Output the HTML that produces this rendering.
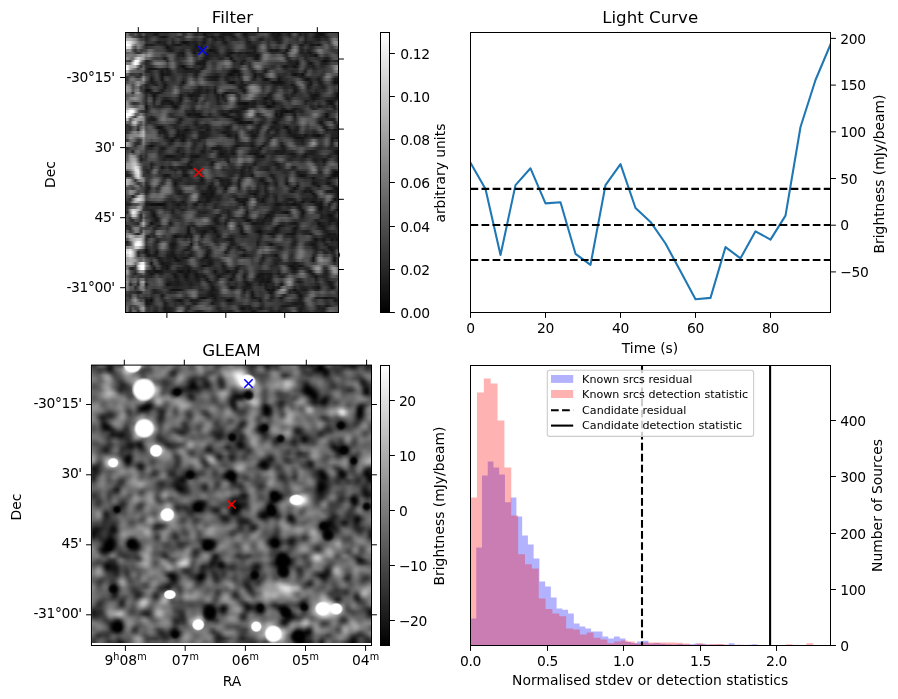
<!DOCTYPE html>
<html><head><meta charset="utf-8"><title>Candidate</title>
<style>
html,body{margin:0;padding:0;background:#fff}
#f{position:relative;width:898px;height:699px;overflow:hidden;background:#fff}
.im{position:absolute;overflow:hidden}
.r{position:absolute;left:0;width:100%}
svg{position:absolute;left:0;top:0;opacity:0.999}
svg text{font-family:"DejaVu Sans","Liberation Sans",sans-serif;fill:#000}
</style></head><body><div id="f">
<div class="im" style="left:126px;top:33px;width:212.5px;height:279.5px"><div style="position:absolute;left:-1.328px;top:-2.662px;width:215.156px;height:284.824px;filter:blur(0.6px);">
<div class="r" style="top:0.00px;height:3.16px;background:linear-gradient(90deg,#747474,#747474,#424242,#3e3e3e,#5a5a5a,#333333,#343434,#575757,#2c2c2c,#2c2c2c,#2d2d2d,#222222,#191919,#2d2d2d,#333333,#2e2e2e,#303030,#3d3d3d,#434343,#404040,#545454,#565656,#2c2c2c,#373737,#585858,#4d4d4d,#313131,#252525,#333333,#2f2f2f,#131313,#222222,#282828,#262626,#383838,#373737,#212121,#161616,#1c1c1c,#1c1c1c,#171717,#262626,#474747,#4d4d4d,#2f2f2f,#141414,#1a1a1a,#2d2d2d,#2e2e2e,#2d2d2d,#414141,#4c4c4c,#4b4b4b,#535353,#404040,#262626,#181818,#1c1c1c,#101010,#272727,#343434,#2b2b2b,#1c1c1c,#424242,#595959,#3a3a3a,#1c1c1c,#2e2e2e,#1f1f1f,#2c2c2c,#3e3e3e,#2f2f2f,#181818,#131313,#101010,#181818,#323232,#454545,#484848,#464646,#444444,#444444)"></div>
<div class="r" style="top:2.66px;height:3.16px;background:linear-gradient(90deg,#747474,#747474,#424242,#3e3e3e,#5a5a5a,#333333,#343434,#575757,#2c2c2c,#2c2c2c,#2d2d2d,#222222,#191919,#2d2d2d,#333333,#2e2e2e,#303030,#3d3d3d,#434343,#404040,#545454,#565656,#2c2c2c,#373737,#585858,#4d4d4d,#313131,#252525,#333333,#2f2f2f,#131313,#222222,#282828,#262626,#383838,#373737,#212121,#161616,#1c1c1c,#1c1c1c,#171717,#262626,#474747,#4d4d4d,#2f2f2f,#141414,#1a1a1a,#2d2d2d,#2e2e2e,#2d2d2d,#414141,#4c4c4c,#4b4b4b,#535353,#404040,#262626,#181818,#1c1c1c,#101010,#272727,#343434,#2b2b2b,#1c1c1c,#424242,#595959,#3a3a3a,#1c1c1c,#2e2e2e,#1f1f1f,#2c2c2c,#3e3e3e,#2f2f2f,#181818,#131313,#101010,#181818,#323232,#454545,#484848,#464646,#444444,#444444)"></div>
<div class="r" style="top:5.32px;height:3.16px;background:linear-gradient(90deg,#838383,#838383,#7a7a7a,#4b4b4b,#3f3f3f,#343434,#1e1e1e,#353535,#222222,#2c2c2c,#373737,#3f3f3f,#353535,#222222,#151515,#131313,#252525,#3c3c3c,#414141,#393939,#303030,#2b2b2b,#303030,#575757,#6c6c6c,#5d5d5d,#434343,#3d3d3d,#4f4f4f,#4d4d4d,#2b2b2b,#1a1a1a,#242424,#131313,#232323,#262626,#141414,#181818,#2e2e2e,#303030,#242424,#161616,#2d2d2d,#434343,#393939,#232323,#1c1c1c,#3f3f3f,#505050,#474747,#424242,#3c3c3c,#323232,#444444,#3a3a3a,#2d2d2d,#1f1f1f,#141414,#1d1d1d,#2c2c2c,#3e3e3e,#3f3f3f,#2b2b2b,#373737,#444444,#2f2f2f,#373737,#3f3f3f,#202020,#2e2e2e,#393939,#262626,#131313,#161616,#222222,#1e1e1e,#222222,#363636,#4d4d4d,#555555,#464646,#464646)"></div>
<div class="r" style="top:7.99px;height:3.16px;background:linear-gradient(90deg,#b3b3b3,#b3b3b3,#b3b3b3,#a2a2a2,#8a8a8a,#636363,#424242,#414141,#252525,#323232,#454545,#4c4c4c,#3d3d3d,#2c2c2c,#2d2d2d,#2a2a2a,#323232,#3d3d3d,#2c2c2c,#3e3e3e,#474747,#363636,#2e2e2e,#3e3e3e,#494949,#3f3f3f,#2f2f2f,#313131,#3e3e3e,#363636,#1a1a1a,#2e2e2e,#424242,#292929,#191919,#292929,#272727,#171717,#2c2c2c,#353535,#2d2d2d,#292929,#272727,#343434,#3c3c3c,#333333,#1e1e1e,#333333,#4b4b4b,#444444,#313131,#1e1e1e,#272727,#393939,#303030,#323232,#262626,#1b1b1b,#1c1c1c,#282828,#464646,#4f4f4f,#404040,#3f3f3f,#363636,#2f2f2f,#4c4c4c,#474747,#212121,#2d2d2d,#323232,#2b2b2b,#242424,#1b1b1b,#2e2e2e,#303030,#272727,#3b3b3b,#646464,#797979,#686868,#686868)"></div>
<div class="r" style="top:10.65px;height:3.16px;background:linear-gradient(90deg,#f1f1f1,#f1f1f1,#e0e0e0,#c1c1c1,#a1a1a1,#7c7c7c,#626262,#5e5e5e,#2f2f2f,#353535,#393939,#333333,#232323,#1b1b1b,#252525,#1e1e1e,#343434,#414141,#1f1f1f,#313131,#3c3c3c,#232323,#121212,#111111,#1c1c1c,#252525,#1d1d1d,#1f1f1f,#313131,#232323,#171717,#313131,#3b3b3b,#292929,#2d2d2d,#3c3c3c,#373737,#202020,#181818,#2f2f2f,#3a3a3a,#454545,#464646,#454545,#4a4a4a,#3e3e3e,#202020,#1c1c1c,#2f2f2f,#313131,#2c2c2c,#363636,#494949,#424242,#2d2d2d,#3d3d3d,#3e3e3e,#2f2f2f,#1e1e1e,#2d2d2d,#494949,#4b4b4b,#3a3a3a,#3e3e3e,#3e3e3e,#363636,#3d3d3d,#2f2f2f,#1c1c1c,#262626,#222222,#292929,#2e2e2e,#2c2c2c,#3c3c3c,#494949,#414141,#343434,#646464,#8d8d8d,#898989,#898989)"></div>
<div class="r" style="top:13.31px;height:3.16px;background:linear-gradient(90deg,#ffffff,#ffffff,#efefef,#9d9d9d,#7a7a7a,#848484,#717171,#505050,#191919,#212121,#1c1c1c,#242424,#313131,#2c2c2c,#272727,#1d1d1d,#222222,#303030,#1d1d1d,#1b1b1b,#161616,#1b1b1b,#292929,#252525,#1c1c1c,#292929,#232323,#141414,#303030,#232323,#252525,#373737,#2d2d2d,#252525,#2f2f2f,#383838,#373737,#2f2f2f,#272727,#2e2e2e,#393939,#464646,#525252,#575757,#595959,#454545,#252525,#222222,#212121,#242424,#333333,#525252,#6a6a6a,#535353,#2f2f2f,#464646,#525252,#444444,#3b3b3b,#494949,#555555,#3f3f3f,#1d1d1d,#3d3d3d,#565656,#444444,#1d1d1d,#1d1d1d,#333333,#2e2e2e,#181818,#161616,#1f1f1f,#111111,#2c2c2c,#535353,#5f5f5f,#414141,#4f4f4f,#7a7a7a,#868686,#868686)"></div>
<div class="r" style="top:15.97px;height:3.16px;background:linear-gradient(90deg,#e3e3e3,#e3e3e3,#d2d2d2,#6d6d6d,#535353,#7f7f7f,#666666,#424242,#2d2d2d,#393939,#3d3d3d,#424242,#464646,#444444,#3f3f3f,#2e2e2e,#101010,#1f1f1f,#252525,#303030,#353535,#333333,#2f2f2f,#303030,#303030,#2b2b2b,#222222,#171717,#232323,#161616,#373737,#414141,#2a2a2a,#1e1e1e,#252525,#333333,#3f3f3f,#404040,#323232,#2b2b2b,#343434,#454545,#575757,#5a5a5a,#585858,#474747,#2a2a2a,#202020,#1d1d1d,#191919,#383838,#5b5b5b,#757575,#5c5c5c,#2e2e2e,#3a3a3a,#454545,#383838,#393939,#515151,#555555,#323232,#1a1a1a,#535353,#747474,#5d5d5d,#282828,#2b2b2b,#404040,#313131,#232323,#2c2c2c,#434343,#505050,#4b4b4b,#555555,#5e5e5e,#474747,#393939,#4f4f4f,#616161,#616161)"></div>
<div class="r" style="top:18.63px;height:3.16px;background:linear-gradient(90deg,#909090,#909090,#909090,#4d4d4d,#303030,#545454,#3c3c3c,#3f3f3f,#484848,#676767,#686868,#525252,#434343,#444444,#444444,#3a3a3a,#242424,#191919,#212121,#313131,#343434,#282828,#252525,#3b3b3b,#454545,#2d2d2d,#191919,#212121,#161616,#2a2a2a,#363636,#262626,#111111,#141414,#191919,#2c2c2c,#454545,#444444,#2e2e2e,#222222,#282828,#3d3d3d,#515151,#474747,#3e3e3e,#393939,#2b2b2b,#2b2b2b,#292929,#1b1b1b,#3b3b3b,#535353,#636363,#545454,#2b2b2b,#181818,#1e1e1e,#181818,#202020,#333333,#323232,#131313,#3d3d3d,#6f6f6f,#848484,#656565,#282828,#242424,#343434,#202020,#252525,#3a3a3a,#565656,#777777,#727272,#5a5a5a,#525252,#434343,#373737,#353535,#393939,#393939)"></div>
<div class="r" style="top:21.30px;height:3.16px;background:linear-gradient(90deg,#616161,#616161,#6a6a6a,#626262,#3e3e3e,#2b2b2b,#414141,#636363,#5f5f5f,#808080,#7b7b7b,#616161,#555555,#575757,#4f4f4f,#4b4b4b,#424242,#3b3b3b,#3b3b3b,#353535,#242424,#181818,#181818,#3e3e3e,#555555,#3e3e3e,#121212,#222222,#3b3b3b,#454545,#303030,#1a1a1a,#242424,#252525,#1a1a1a,#1e1e1e,#3e3e3e,#3c3c3c,#262626,#171717,#131313,#191919,#282828,#1d1d1d,#1e1e1e,#222222,#181818,#1b1b1b,#1c1c1c,#1b1b1b,#2a2a2a,#373737,#545454,#5f5f5f,#4d4d4d,#313131,#262626,#2f2f2f,#353535,#2c2c2c,#181818,#313131,#626262,#7b7b7b,#787878,#535353,#222222,#1f1f1f,#272727,#1b1b1b,#171717,#2a2a2a,#373737,#636363,#707070,#555555,#4a4a4a,#4b4b4b,#4a4a4a,#3f3f3f,#323232,#323232)"></div>
<div class="r" style="top:23.96px;height:3.16px;background:linear-gradient(90deg,#797979,#797979,#797979,#737373,#737373,#8c8c8c,#959595,#a2a2a2,#818181,#979797,#7e7e7e,#5e5e5e,#555555,#535353,#3d3d3d,#3b3b3b,#4f4f4f,#5e5e5e,#595959,#3e3e3e,#212121,#212121,#1b1b1b,#3a3a3a,#585858,#555555,#2e2e2e,#2b2b2b,#505050,#4c4c4c,#292929,#191919,#202020,#262626,#272727,#222222,#303030,#2d2d2d,#242424,#151515,#222222,#363636,#2f2f2f,#252525,#2d2d2d,#2a2a2a,#252525,#212121,#1e1e1e,#1a1a1a,#101010,#2f2f2f,#636363,#7a7a7a,#6c6c6c,#545454,#4a4a4a,#525252,#5c5c5c,#565656,#383838,#262626,#5a5a5a,#6d6d6d,#606060,#434343,#343434,#2d2d2d,#222222,#2b2b2b,#1e1e1e,#1f1f1f,#101010,#3b3b3b,#555555,#424242,#343434,#414141,#545454,#575757,#494949,#494949)"></div>
<div class="r" style="top:26.62px;height:3.16px;background:linear-gradient(90deg,#8e8e8e,#8e8e8e,#737373,#696969,#aeaeae,#d5d5d5,#bababa,#a1a1a1,#666666,#696969,#505050,#414141,#3a3a3a,#3c3c3c,#373737,#191919,#353535,#5e5e5e,#5c5c5c,#3b3b3b,#2a2a2a,#323232,#313131,#444444,#656565,#717171,#4a4a4a,#363636,#464646,#353535,#1c1c1c,#1b1b1b,#272727,#303030,#343434,#2d2d2d,#232323,#2c2c2c,#3e3e3e,#383838,#121212,#2d2d2d,#383838,#313131,#2b2b2b,#292929,#383838,#3e3e3e,#343434,#1c1c1c,#171717,#393939,#686868,#797979,#686868,#5a5a5a,#5a5a5a,#5e5e5e,#696969,#6c6c6c,#585858,#262626,#2b2b2b,#434343,#414141,#333333,#424242,#424242,#242424,#2d2d2d,#353535,#373737,#313131,#2b2b2b,#343434,#262626,#1b1b1b,#292929,#454545,#555555,#535353,#535353)"></div>
<div class="r" style="top:29.28px;height:3.16px;background:linear-gradient(90deg,#484848,#484848,#3a3a3a,#999999,#fcfcfc,#f7f7f7,#9c9c9c,#5d5d5d,#242424,#252525,#3d3d3d,#5b5b5b,#5c5c5c,#565656,#5a5a5a,#484848,#252525,#525252,#5c5c5c,#404040,#2f2f2f,#383838,#474747,#545454,#6d6d6d,#787878,#515151,#2d2d2d,#262626,#191919,#161616,#2d2d2d,#3f3f3f,#3a3a3a,#3d3d3d,#424242,#464646,#545454,#696969,#656565,#404040,#151515,#2b2b2b,#333333,#232323,#1a1a1a,#373737,#3e3e3e,#444444,#404040,#363636,#484848,#636363,#666666,#545454,#4b4b4b,#4d4d4d,#4b4b4b,#505050,#5c5c5c,#595959,#3a3a3a,#1e1e1e,#252525,#262626,#1b1b1b,#3e3e3e,#505050,#363636,#212121,#313131,#3b3b3b,#404040,#363636,#212121,#0e0e0e,#111111,#1e1e1e,#313131,#282828,#262626,#262626)"></div>
<div class="r" style="top:31.94px;height:3.16px;background:linear-gradient(90deg,#7b7b7b,#7b7b7b,#7d7d7d,#d2d2d2,#ffffff,#dbdbdb,#616161,#404040,#242424,#2e2e2e,#474747,#6c6c6c,#7e7e7e,#7c7c7c,#747474,#646464,#454545,#5d5d5d,#6f6f6f,#515151,#323232,#2c2c2c,#383838,#474747,#5c5c5c,#646464,#464646,#1e1e1e,#181818,#181818,#171717,#3f3f3f,#4b4b4b,#363636,#363636,#4e4e4e,#5c5c5c,#656565,#797979,#787878,#5a5a5a,#2f2f2f,#2e2e2e,#2f2f2f,#171717,#2e2e2e,#373737,#2c2c2c,#4e4e4e,#686868,#6a6a6a,#646464,#5f5f5f,#565656,#474747,#3d3d3d,#3a3a3a,#383838,#393939,#373737,#3a3a3a,#2e2e2e,#222222,#212121,#1f1f1f,#111111,#3b3b3b,#565656,#434343,#1f1f1f,#131313,#292929,#3f3f3f,#3c3c3c,#232323,#1c1c1c,#202020,#303030,#454545,#454545,#484848,#484848)"></div>
<div class="r" style="top:34.60px;height:3.16px;background:linear-gradient(90deg,#ebebeb,#ebebeb,#b8b8b8,#b9b9b9,#b7b7b7,#6b6b6b,#333333,#5e5e5e,#2d2d2d,#282828,#2c2c2c,#3f3f3f,#545454,#606060,#5b5b5b,#4d4d4d,#3d3d3d,#595959,#6e6e6e,#525252,#2a2a2a,#1d1d1d,#111111,#272727,#3e3e3e,#464646,#343434,#2c2c2c,#303030,#1e1e1e,#1f1f1f,#484848,#545454,#3d3d3d,#3a3a3a,#565656,#5c5c5c,#505050,#626262,#666666,#4e4e4e,#303030,#343434,#303030,#434343,#595959,#494949,#252525,#484848,#717171,#828282,#727272,#515151,#3f3f3f,#3c3c3c,#323232,#2d2d2d,#3a3a3a,#454545,#2f2f2f,#171717,#1c1c1c,#262626,#202020,#111111,#202020,#434343,#525252,#3b3b3b,#242424,#252525,#1e1e1e,#323232,#373737,#292929,#2b2b2b,#383838,#464646,#5d5d5d,#797979,#8b8b8b,#8b8b8b)"></div>
<div class="r" style="top:37.27px;height:3.16px;background:linear-gradient(90deg,#f6f6f6,#f6f6f6,#ababab,#8a8a8a,#6b6b6b,#424242,#5c5c5c,#6a6a6a,#292929,#151515,#131313,#181818,#202020,#282828,#222222,#212121,#161616,#393939,#525252,#434343,#252525,#292929,#1f1f1f,#101010,#1b1b1b,#1f1f1f,#1f1f1f,#2b2b2b,#212121,#181818,#333333,#4d4d4d,#545454,#404040,#404040,#565656,#565656,#404040,#454545,#434343,#2e2e2e,#1e1e1e,#242424,#323232,#5a5a5a,#6c6c6c,#575757,#303030,#313131,#535353,#6e6e6e,#676767,#424242,#242424,#2e2e2e,#383838,#393939,#444444,#515151,#404040,#2a2a2a,#262626,#323232,#303030,#2a2a2a,#2e2e2e,#4f4f4f,#4f4f4f,#2a2a2a,#2f2f2f,#3a3a3a,#252525,#282828,#353535,#343434,#363636,#3e3e3e,#434343,#545454,#7d7d7d,#969696,#969696)"></div>
<div class="r" style="top:39.93px;height:3.16px;background:linear-gradient(90deg,#b7b7b7,#b7b7b7,#707070,#5f5f5f,#626262,#5b5b5b,#555555,#525252,#222222,#202020,#2b2b2b,#3a3a3a,#3f3f3f,#282828,#141414,#272727,#1a1a1a,#1f1f1f,#3b3b3b,#3d3d3d,#2d2d2d,#282828,#232323,#202020,#212121,#202020,#212121,#1b1b1b,#212121,#464646,#575757,#535353,#4b4b4b,#383838,#353535,#404040,#434343,#3a3a3a,#383838,#2a2a2a,#191919,#111111,#0f0f0f,#1a1a1a,#3c3c3c,#565656,#535353,#3d3d3d,#252525,#252525,#3f3f3f,#424242,#2d2d2d,#1b1b1b,#3d3d3d,#5a5a5a,#545454,#3f3f3f,#424242,#414141,#373737,#2f2f2f,#2f2f2f,#232323,#272727,#2d2d2d,#424242,#363636,#1f1f1f,#474747,#4a4a4a,#323232,#333333,#3d3d3d,#3b3b3b,#323232,#424242,#474747,#4e4e4e,#6c6c6c,#7b7b7b,#7b7b7b)"></div>
<div class="r" style="top:42.59px;height:3.16px;background:linear-gradient(90deg,#666666,#666666,#393939,#373737,#3b3b3b,#3b3b3b,#262626,#545454,#393939,#343434,#292929,#3a3a3a,#484848,#2b2b2b,#111111,#1c1c1c,#1b1b1b,#1e1e1e,#2e2e2e,#393939,#3b3b3b,#393939,#2c2c2c,#292929,#383838,#3d3d3d,#292929,#1a1a1a,#3e3e3e,#565656,#545454,#434343,#363636,#2b2b2b,#232323,#252525,#313131,#393939,#2e2e2e,#171717,#0e0e0e,#181818,#222222,#151515,#2b2b2b,#505050,#565656,#474747,#303030,#131313,#252525,#222222,#262626,#404040,#626262,#7a7a7a,#686868,#404040,#2a2a2a,#2f2f2f,#2b2b2b,#313131,#343434,#1e1e1e,#0f0f0f,#191919,#222222,#0f0f0f,#333333,#505050,#494949,#383838,#3b3b3b,#3b3b3b,#323232,#3a3a3a,#656565,#6d6d6d,#595959,#535353,#4f4f4f,#4f4f4f)"></div>
<div class="r" style="top:45.25px;height:3.16px;background:linear-gradient(90deg,#3a3a3a,#3a3a3a,#535353,#5f5f5f,#3d3d3d,#2c2c2c,#414141,#848484,#505050,#3e3e3e,#1e1e1e,#333333,#494949,#2f2f2f,#151515,#363636,#3a3a3a,#2f2f2f,#2d2d2d,#373737,#424242,#404040,#303030,#303030,#484848,#4e4e4e,#303030,#272727,#4c4c4c,#525252,#3b3b3b,#272727,#1c1c1c,#1a1a1a,#151515,#171717,#2e2e2e,#363636,#222222,#202020,#262626,#242424,#313131,#1f1f1f,#383838,#6c6c6c,#6e6e6e,#545454,#313131,#101010,#313131,#292929,#1b1b1b,#3b3b3b,#585858,#707070,#666666,#434343,#1b1b1b,#242424,#2f2f2f,#3a3a3a,#3f3f3f,#373737,#333333,#2f2f2f,#222222,#1b1b1b,#272727,#323232,#333333,#353535,#343434,#292929,#2c2c2c,#525252,#7c7c7c,#7a7a7a,#535353,#323232,#292929,#292929)"></div>
<div class="r" style="top:47.91px;height:3.16px;background:linear-gradient(90deg,#3b3b3b,#3b3b3b,#6a6a6a,#787878,#656565,#575757,#626262,#999999,#555555,#3a3a3a,#141414,#2d2d2d,#434343,#373737,#111111,#3b3b3b,#474747,#363636,#2c2c2c,#353535,#464646,#3d3d3d,#272727,#313131,#565656,#646464,#494949,#393939,#5a5a5a,#626262,#464646,#2e2e2e,#222222,#1e1e1e,#1a1a1a,#222222,#3b3b3b,#3d3d3d,#232323,#212121,#2f2f2f,#2d2d2d,#393939,#2b2b2b,#2c2c2c,#656565,#6e6e6e,#505050,#282828,#232323,#3a3a3a,#373737,#1d1d1d,#101010,#1c1c1c,#333333,#3d3d3d,#2f2f2f,#111111,#232323,#2a2a2a,#2d2d2d,#363636,#3a3a3a,#454545,#525252,#464646,#2d2d2d,#1a1a1a,#111111,#222222,#303030,#2a2a2a,#1a1a1a,#2b2b2b,#4e4e4e,#666666,#5e5e5e,#3a3a3a,#191919,#1b1b1b,#1b1b1b)"></div>
<div class="r" style="top:50.58px;height:3.16px;background:linear-gradient(90deg,#505050,#505050,#676767,#5e5e5e,#787878,#909090,#767676,#777777,#3d3d3d,#2a2a2a,#1c1c1c,#1f1f1f,#2e2e2e,#3b3b3b,#262626,#1f1f1f,#333333,#373737,#343434,#393939,#404040,#2e2e2e,#141414,#353535,#5e5e5e,#757575,#656565,#4c4c4c,#5e5e5e,#6f6f6f,#606060,#4d4d4d,#434343,#3b3b3b,#333333,#343434,#444444,#494949,#393939,#1f1f1f,#131313,#131313,#2c2c2c,#2d2d2d,#181818,#333333,#3a3a3a,#333333,#3a3a3a,#404040,#3b3b3b,#343434,#2b2b2b,#292929,#2b2b2b,#212121,#121212,#161616,#121212,#121212,#1e1e1e,#2b2b2b,#343434,#292929,#3c3c3c,#616161,#686868,#535353,#383838,#272727,#151515,#333333,#383838,#212121,#1c1c1c,#393939,#4c4c4c,#494949,#2e2e2e,#121212,#161616,#161616)"></div>
<div class="r" style="top:53.24px;height:3.16px;background:linear-gradient(90deg,#7b7b7b,#7b7b7b,#707070,#464646,#747474,#9c9c9c,#646464,#3e3e3e,#202020,#292929,#323232,#242424,#212121,#373737,#303030,#141414,#262626,#393939,#404040,#464646,#3c3c3c,#222222,#2d2d2d,#4a4a4a,#5d5d5d,#676767,#606060,#494949,#464646,#575757,#535353,#4a4a4a,#494949,#454545,#363636,#373737,#444444,#4e4e4e,#4f4f4f,#4a4a4a,#454545,#3a3a3a,#2d2d2d,#222222,#1e1e1e,#181818,#2d2d2d,#555555,#6c6c6c,#666666,#535353,#3d3d3d,#2c2c2c,#323232,#3a3a3a,#373737,#252525,#1b1b1b,#222222,#1d1d1d,#232323,#2a2a2a,#2a2a2a,#151515,#272727,#4e4e4e,#6c6c6c,#6c6c6c,#424242,#1d1d1d,#181818,#393939,#434343,#2c2c2c,#1d1d1d,#272727,#393939,#444444,#363636,#292929,#333333,#333333)"></div>
<div class="r" style="top:55.90px;height:3.16px;background:linear-gradient(90deg,#969696,#969696,#7f7f7f,#4a4a4a,#686868,#717171,#323232,#3f3f3f,#222222,#2a2a2a,#3e3e3e,#4a4a4a,#424242,#3a3a3a,#2d2d2d,#161616,#2f2f2f,#393939,#484848,#5e5e5e,#4b4b4b,#303030,#424242,#545454,#535353,#494949,#404040,#323232,#1f1f1f,#282828,#323232,#292929,#343434,#363636,#212121,#3e3e3e,#565656,#5a5a5a,#5b5b5b,#585858,#575757,#545454,#434343,#212121,#171717,#272727,#4c4c4c,#7a7a7a,#8c8c8c,#858585,#737373,#545454,#2d2d2d,#424242,#505050,#3d3d3d,#262626,#2c2c2c,#3d3d3d,#373737,#252525,#282828,#2e2e2e,#282828,#1a1a1a,#2b2b2b,#515151,#636363,#454545,#1d1d1d,#292929,#383838,#343434,#2a2a2a,#232323,#1e1e1e,#353535,#4c4c4c,#454545,#3b3b3b,#434343,#434343)"></div>
<div class="r" style="top:58.56px;height:3.16px;background:linear-gradient(90deg,#989898,#989898,#8b8b8b,#515151,#797979,#7e7e7e,#3f3f3f,#353535,#141414,#111111,#282828,#474747,#444444,#2d2d2d,#1c1c1c,#2a2a2a,#3a3a3a,#3a3a3a,#555555,#747474,#5e5e5e,#383838,#3a3a3a,#3e3e3e,#3c3c3c,#3e3e3e,#2c2c2c,#1f1f1f,#191919,#232323,#2a2a2a,#1b1b1b,#282828,#2e2e2e,#161616,#494949,#646464,#565656,#454545,#393939,#333333,#383838,#3c3c3c,#363636,#252525,#151515,#3f3f3f,#6d6d6d,#838383,#868686,#7c7c7c,#5e5e5e,#383838,#484848,#515151,#373737,#262626,#363636,#4f4f4f,#4f4f4f,#353535,#303030,#3f3f3f,#353535,#161616,#1f1f1f,#3a3a3a,#4e4e4e,#414141,#292929,#313131,#363636,#252525,#2b2b2b,#2e2e2e,#2b2b2b,#3c3c3c,#535353,#4c4c4c,#343434,#373737,#373737)"></div>
<div class="r" style="top:61.22px;height:3.16px;background:linear-gradient(90deg,#777777,#777777,#6c6c6c,#2c2c2c,#868686,#9c9c9c,#6b6b6b,#373737,#1e1e1e,#282828,#171717,#1f1f1f,#191919,#1a1a1a,#2a2a2a,#3e3e3e,#464646,#454545,#5e5e5e,#747474,#5c5c5c,#323232,#2f2f2f,#2c2c2c,#232323,#2e2e2e,#191919,#1d1d1d,#191919,#232323,#282828,#202020,#2e2e2e,#333333,#141414,#373737,#4a4a4a,#2f2f2f,#101010,#1b1b1b,#242424,#232323,#272727,#3e3e3e,#3d3d3d,#232323,#3d3d3d,#656565,#767676,#747474,#656565,#4d4d4d,#3d3d3d,#494949,#3b3b3b,#202020,#2f2f2f,#464646,#555555,#525252,#3d3d3d,#333333,#3c3c3c,#282828,#171717,#2c2c2c,#343434,#3f3f3f,#3f3f3f,#2c2c2c,#212121,#2c2c2c,#1d1d1d,#222222,#333333,#3d3d3d,#4c4c4c,#595959,#4b4b4b,#292929,#1c1c1c,#1c1c1c)"></div>
<div class="r" style="top:63.89px;height:3.16px;background:linear-gradient(90deg,#595959,#595959,#636363,#5a5a5a,#777777,#7b7b7b,#6b6b6b,#4b4b4b,#262626,#3d3d3d,#2c2c2c,#0f0f0f,#262626,#3a3a3a,#3c3c3c,#3d3d3d,#404040,#444444,#4e4e4e,#515151,#3c3c3c,#191919,#292929,#313131,#1c1c1c,#141414,#191919,#1b1b1b,#202020,#404040,#3c3c3c,#2e2e2e,#363636,#393939,#272727,#191919,#2a2a2a,#131313,#2f2f2f,#525252,#696969,#646464,#323232,#252525,#4b4b4b,#4e4e4e,#606060,#7c7c7c,#797979,#616161,#4a4a4a,#393939,#323232,#343434,#1c1c1c,#202020,#404040,#5c5c5c,#646464,#545454,#2f2f2f,#232323,#2e2e2e,#222222,#2c2c2c,#343434,#313131,#363636,#3e3e3e,#383838,#1c1c1c,#171717,#131313,#1c1c1c,#343434,#434343,#4a4a4a,#494949,#383838,#292929,#111111,#111111)"></div>
<div class="r" style="top:66.55px;height:3.16px;background:linear-gradient(90deg,#666666,#666666,#7d7d7d,#8a8a8a,#919191,#7f7f7f,#686868,#464646,#282828,#535353,#494949,#181818,#343434,#414141,#2f2f2f,#222222,#232323,#2e2e2e,#383838,#383838,#292929,#131313,#333333,#484848,#383838,#1f1f1f,#262626,#1e1e1e,#404040,#565656,#3e3e3e,#303030,#383838,#3a3a3a,#313131,#181818,#2e2e2e,#212121,#292929,#626262,#888888,#838383,#4b4b4b,#272727,#4e4e4e,#5d5d5d,#6d6d6d,#767676,#606060,#444444,#3a3a3a,#313131,#242424,#111111,#1d1d1d,#1d1d1d,#3b3b3b,#555555,#5b5b5b,#575757,#3d3d3d,#1d1d1d,#242424,#373737,#434343,#3f3f3f,#373737,#333333,#313131,#2f2f2f,#222222,#141414,#1e1e1e,#242424,#303030,#323232,#2c2c2c,#282828,#252525,#1f1f1f,#181818,#181818)"></div>
<div class="r" style="top:69.21px;height:3.16px;background:linear-gradient(90deg,#828282,#828282,#707070,#696969,#777777,#6f6f6f,#656565,#404040,#2e2e2e,#5b5b5b,#515151,#1b1b1b,#434343,#464646,#222222,#141414,#151515,#161616,#262626,#333333,#262626,#161616,#3d3d3d,#555555,#4a4a4a,#323232,#242424,#1b1b1b,#474747,#474747,#2b2b2b,#3b3b3b,#3d3d3d,#3a3a3a,#343434,#1c1c1c,#323232,#323232,#1d1d1d,#4f4f4f,#767676,#717171,#404040,#232323,#343434,#373737,#3d3d3d,#3a3a3a,#262626,#202020,#2e2e2e,#2a2a2a,#222222,#1d1d1d,#2e2e2e,#212121,#1e1e1e,#353535,#3a3a3a,#434343,#4a4a4a,#3a3a3a,#2c2c2c,#4c4c4c,#5a5a5a,#525252,#484848,#393939,#1d1d1d,#202020,#2a2a2a,#212121,#323232,#333333,#3a3a3a,#363636,#1d1d1d,#121212,#181818,#1f1f1f,#3a3a3a,#3a3a3a)"></div>
<div class="r" style="top:71.87px;height:3.16px;background:linear-gradient(90deg,#919191,#919191,#5c5c5c,#333333,#323232,#3f3f3f,#5a5a5a,#454545,#242424,#4a4a4a,#414141,#242424,#474747,#3e3e3e,#191919,#1f1f1f,#212121,#1a1a1a,#131313,#262626,#1d1d1d,#262626,#424242,#464646,#383838,#313131,#292929,#313131,#494949,#3b3b3b,#3f3f3f,#525252,#444444,#383838,#373737,#1f1f1f,#292929,#3b3b3b,#373737,#4e4e4e,#666666,#5b5b5b,#313131,#131313,#121212,#0f0f0f,#111111,#202020,#1d1d1d,#1a1a1a,#2e2e2e,#2b2b2b,#202020,#161616,#262626,#242424,#0e0e0e,#212121,#282828,#313131,#434343,#454545,#3b3b3b,#4f4f4f,#595959,#505050,#484848,#393939,#242424,#313131,#2d2d2d,#333333,#3f3f3f,#2a2a2a,#393939,#424242,#282828,#191919,#101010,#2c2c2c,#4f4f4f,#4f4f4f)"></div>
<div class="r" style="top:74.53px;height:3.16px;background:linear-gradient(90deg,#989898,#989898,#7e7e7e,#666666,#585858,#636363,#777777,#636363,#101010,#333333,#3e3e3e,#2d2d2d,#2d2d2d,#252525,#272727,#333333,#373737,#353535,#1c1c1c,#121212,#1e1e1e,#3f3f3f,#535353,#4b4b4b,#434343,#303030,#2c2c2c,#4e4e4e,#585858,#474747,#4c4c4c,#535353,#414141,#3a3a3a,#404040,#383838,#3b3b3b,#4b4b4b,#545454,#5f5f5f,#616161,#4f4f4f,#363636,#262626,#1e1e1e,#1a1a1a,#191919,#232323,#1f1f1f,#232323,#404040,#464646,#3b3b3b,#252525,#0f0f0f,#151515,#1e1e1e,#2b2b2b,#2f2f2f,#272727,#323232,#444444,#404040,#383838,#323232,#2f2f2f,#343434,#363636,#3a3a3a,#404040,#242424,#272727,#313131,#1b1b1b,#252525,#323232,#292929,#323232,#262626,#1b1b1b,#444444,#444444)"></div>
<div class="r" style="top:77.20px;height:3.16px;background:linear-gradient(90deg,#aeaeae,#aeaeae,#cdcdcd,#cbcbcb,#a6a6a6,#7f7f7f,#6b6b6b,#636363,#171717,#2d2d2d,#4b4b4b,#4b4b4b,#3e3e3e,#3a3a3a,#464646,#525252,#525252,#4b4b4b,#333333,#212121,#2d2d2d,#4a4a4a,#525252,#3f3f3f,#3e3e3e,#292929,#222222,#4a4a4a,#4e4e4e,#3f3f3f,#424242,#464646,#3f3f3f,#444444,#484848,#3b3b3b,#383838,#434343,#515151,#505050,#3d3d3d,#2b2b2b,#282828,#222222,#191919,#131313,#232323,#484848,#565656,#454545,#4f4f4f,#606060,#606060,#4a4a4a,#323232,#363636,#3b3b3b,#343434,#303030,#1e1e1e,#1a1a1a,#313131,#353535,#222222,#181818,#202020,#272727,#313131,#424242,#4a4a4a,#373737,#222222,#292929,#404040,#3f3f3f,#393939,#3b3b3b,#464646,#3b3b3b,#1f1f1f,#383838,#383838)"></div>
<div class="r" style="top:79.86px;height:3.16px;background:linear-gradient(90deg,#dddddd,#dddddd,#ffffff,#ffffff,#b3b3b3,#616161,#3a3a3a,#353535,#202020,#383838,#545454,#5b5b5b,#525252,#4b4b4b,#585858,#646464,#585858,#494949,#3f3f3f,#393939,#434343,#4f4f4f,#4a4a4a,#282828,#262626,#232323,#1a1a1a,#2b2b2b,#2c2c2c,#323232,#434343,#464646,#3c3c3c,#494949,#4a4a4a,#333333,#232323,#222222,#2c2c2c,#212121,#161616,#1f1f1f,#181818,#1a1a1a,#232323,#343434,#545454,#858585,#8f8f8f,#646464,#4c4c4c,#5c5c5c,#6c6c6c,#696969,#5d5d5d,#575757,#444444,#202020,#222222,#131313,#141414,#0e0e0e,#161616,#111111,#1f1f1f,#2c2c2c,#242424,#272727,#3b3b3b,#494949,#4d4d4d,#585858,#5c5c5c,#585858,#4e4e4e,#404040,#303030,#2c2c2c,#323232,#323232,#484848,#484848)"></div>
<div class="r" style="top:82.52px;height:3.16px;background:linear-gradient(90deg,#fdfdfd,#fdfdfd,#fdfdfd,#c9c9c9,#626262,#5d5d5d,#838383,#5d5d5d,#363636,#404040,#444444,#4f4f4f,#525252,#545454,#656565,#6a6a6a,#494949,#2a2a2a,#2e2e2e,#3a3a3a,#424242,#454545,#424242,#2b2b2b,#121212,#1a1a1a,#181818,#141414,#131313,#2a2a2a,#3e3e3e,#3a3a3a,#222222,#393939,#424242,#363636,#262626,#161616,#171717,#202020,#353535,#383838,#262626,#1a1a1a,#272727,#4d4d4d,#747474,#9b9b9b,#929292,#525252,#222222,#303030,#4b4b4b,#646464,#6d6d6d,#636363,#414141,#111111,#212121,#0e0e0e,#282828,#363636,#393939,#2a2a2a,#181818,#393939,#363636,#323232,#3b3b3b,#424242,#515151,#6e6e6e,#777777,#5c5c5c,#434343,#2f2f2f,#101010,#292929,#3d3d3d,#464646,#616161,#616161)"></div>
<div class="r" style="top:85.18px;height:3.16px;background:linear-gradient(90deg,#f0f0f0,#f0f0f0,#aaaaaa,#5c5c5c,#464646,#9b9b9b,#b5b5b5,#868686,#3a3a3a,#323232,#202020,#2e2e2e,#454545,#585858,#6e6e6e,#6f6f6f,#4b4b4b,#343434,#292929,#2f2f2f,#313131,#2e2e2e,#363636,#383838,#292929,#252525,#232323,#1b1b1b,#181818,#121212,#212121,#282828,#242424,#2b2b2b,#313131,#373737,#363636,#2e2e2e,#1e1e1e,#161616,#1a1a1a,#202020,#242424,#1b1b1b,#212121,#474747,#686868,#7c7c7c,#6a6a6a,#444444,#2f2f2f,#2a2a2a,#262626,#414141,#5a5a5a,#575757,#3b3b3b,#1d1d1d,#151515,#171717,#363636,#535353,#606060,#464646,#1a1a1a,#3d3d3d,#4f4f4f,#525252,#505050,#4d4d4d,#545454,#656565,#686868,#4b4b4b,#323232,#242424,#0f0f0f,#2d2d2d,#3c3c3c,#474747,#6a6a6a,#6a6a6a)"></div>
<div class="r" style="top:87.84px;height:3.16px;background:linear-gradient(90deg,#bababa,#bababa,#525252,#838383,#a9a9a9,#a5a5a5,#969696,#8a8a8a,#393939,#212121,#202020,#191919,#353535,#5b5b5b,#737373,#717171,#5e5e5e,#5f5f5f,#575757,#464646,#2d2d2d,#171717,#303030,#404040,#434343,#3f3f3f,#363636,#2b2b2b,#323232,#3c3c3c,#414141,#434343,#464646,#414141,#383838,#404040,#4b4b4b,#4b4b4b,#444444,#3c3c3c,#2f2f2f,#1f1f1f,#121212,#141414,#1e1e1e,#363636,#474747,#474747,#434343,#525252,#494949,#393939,#292929,#2f2f2f,#474747,#414141,#2c2c2c,#1f1f1f,#1d1d1d,#2b2b2b,#3c3c3c,#545454,#5f5f5f,#474747,#252525,#3f3f3f,#5e5e5e,#6c6c6c,#666666,#5c5c5c,#5a5a5a,#575757,#484848,#2c2c2c,#252525,#2a2a2a,#262626,#232323,#1f1f1f,#252525,#5a5a5a,#5a5a5a)"></div>
<div class="r" style="top:90.50px;height:3.16px;background:linear-gradient(90deg,#6d6d6d,#6d6d6d,#575757,#b6b6b6,#c3c3c3,#767676,#525252,#797979,#3a3a3a,#292929,#303030,#343434,#3a3a3a,#4e4e4e,#5a5a5a,#5d5d5d,#535353,#4d4d4d,#494949,#3a3a3a,#1e1e1e,#282828,#3f3f3f,#414141,#414141,#3d3d3d,#2a2a2a,#1e1e1e,#373737,#494949,#444444,#3c3c3c,#464646,#555555,#575757,#5c5c5c,#5c5c5c,#555555,#545454,#4e4e4e,#3f3f3f,#353535,#242424,#141414,#0f0f0f,#171717,#171717,#121212,#202020,#414141,#383838,#232323,#242424,#323232,#414141,#343434,#181818,#161616,#2c2c2c,#393939,#3c3c3c,#474747,#454545,#333333,#2d2d2d,#454545,#626262,#737373,#656565,#525252,#5d5d5d,#5b5b5b,#464646,#262626,#141414,#2f2f2f,#484848,#585858,#4d4d4d,#212121,#383838,#383838)"></div>
<div class="r" style="top:93.17px;height:3.16px;background:linear-gradient(90deg,#373737,#373737,#4e4e4e,#8d8d8d,#9a9a9a,#4a4a4a,#4b4b4b,#6d6d6d,#3c3c3c,#4a4a4a,#424242,#2f2f2f,#2c2c2c,#313131,#333333,#3f3f3f,#414141,#323232,#272727,#242424,#282828,#3a3a3a,#424242,#383838,#343434,#383838,#2a2a2a,#1b1b1b,#2c2c2c,#2f2f2f,#222222,#1f1f1f,#313131,#4c4c4c,#565656,#585858,#525252,#414141,#414141,#383838,#292929,#444444,#444444,#2e2e2e,#2a2a2a,#262626,#363636,#474747,#373737,#313131,#212121,#191919,#343434,#454545,#464646,#323232,#222222,#1f1f1f,#252525,#2e2e2e,#292929,#313131,#373737,#363636,#323232,#393939,#535353,#676767,#545454,#414141,#595959,#5b5b5b,#505050,#414141,#222222,#1f1f1f,#464646,#626262,#616161,#3b3b3b,#202020,#202020)"></div>
<div class="r" style="top:95.83px;height:3.16px;background:linear-gradient(90deg,#383838,#383838,#2c2c2c,#4f4f4f,#626262,#313131,#666666,#7f7f7f,#494949,#5b5b5b,#575757,#3d3d3d,#1f1f1f,#101010,#171717,#2c2c2c,#3d3d3d,#3d3d3d,#333333,#252525,#282828,#333333,#323232,#262626,#272727,#363636,#353535,#292929,#232323,#1f1f1f,#262626,#1d1d1d,#242424,#393939,#3b3b3b,#3c3c3c,#3d3d3d,#2e2e2e,#212121,#1a1a1a,#282828,#515151,#525252,#3e3e3e,#3f3f3f,#343434,#4e4e4e,#616161,#484848,#343434,#1e1e1e,#262626,#4a4a4a,#595959,#424242,#1d1d1d,#1c1c1c,#222222,#232323,#2c2c2c,#1f1f1f,#0f0f0f,#252525,#333333,#282828,#202020,#414141,#575757,#424242,#363636,#4b4b4b,#484848,#4a4a4a,#555555,#444444,#1b1b1b,#212121,#3e3e3e,#494949,#333333,#1f1f1f,#1f1f1f)"></div>
<div class="r" style="top:98.49px;height:3.16px;background:linear-gradient(90deg,#3a3a3a,#3a3a3a,#2f2f2f,#535353,#5d5d5d,#232323,#7a7a7a,#989898,#4c4c4c,#535353,#5c5c5c,#595959,#414141,#232323,#181818,#1c1c1c,#353535,#454545,#484848,#353535,#1a1a1a,#282828,#242424,#111111,#191919,#292929,#323232,#2f2f2f,#272727,#2e2e2e,#2d2d2d,#131313,#212121,#363636,#333333,#292929,#2e2e2e,#2b2b2b,#212121,#1d1d1d,#2c2c2c,#454545,#444444,#444444,#535353,#3c3c3c,#393939,#434343,#2d2d2d,#272727,#1c1c1c,#373737,#545454,#525252,#212121,#232323,#2c2c2c,#191919,#1e1e1e,#373737,#363636,#222222,#141414,#2a2a2a,#202020,#1e1e1e,#444444,#545454,#3a3a3a,#323232,#3c3c3c,#303030,#363636,#545454,#5b5b5b,#3b3b3b,#171717,#202020,#272727,#141414,#1a1a1a,#1a1a1a)"></div>
<div class="r" style="top:101.15px;height:3.16px;background:linear-gradient(90deg,#3a3a3a,#3a3a3a,#545454,#7b7b7b,#868686,#6f6f6f,#979797,#b5b5b5,#5b5b5b,#565656,#5e5e5e,#636363,#4e4e4e,#1d1d1d,#202020,#181818,#2a2a2a,#4a4a4a,#4e4e4e,#393939,#141414,#212121,#1b1b1b,#1d1d1d,#242424,#303030,#434343,#3d3d3d,#1f1f1f,#1a1a1a,#1d1d1d,#212121,#262626,#373737,#393939,#2f2f2f,#2b2b2b,#1c1c1c,#161616,#1d1d1d,#222222,#2d2d2d,#2b2b2b,#494949,#676767,#4f4f4f,#313131,#222222,#1d1d1d,#252525,#1c1c1c,#434343,#515151,#383838,#1f1f1f,#3d3d3d,#363636,#1f1f1f,#262626,#393939,#373737,#262626,#131313,#202020,#1e1e1e,#272727,#404040,#494949,#303030,#2c2c2c,#323232,#232323,#272727,#3a3a3a,#4a4a4a,#363636,#282828,#2f2f2f,#272727,#232323,#222222,#222222)"></div>
<div class="r" style="top:103.81px;height:3.16px;background:linear-gradient(90deg,#636363,#636363,#808080,#868686,#878787,#8c8c8c,#a2a2a2,#b5b5b5,#676767,#656565,#646464,#676767,#525252,#353535,#393939,#222222,#202020,#424242,#414141,#262626,#121212,#1c1c1c,#121212,#222222,#2f2f2f,#3f3f3f,#555555,#494949,#242424,#1b1b1b,#1c1c1c,#1d1d1d,#292929,#353535,#3a3a3a,#3c3c3c,#434343,#3a3a3a,#2a2a2a,#151515,#1d1d1d,#272727,#181818,#444444,#676767,#585858,#454545,#2d2d2d,#181818,#161616,#292929,#4a4a4a,#4c4c4c,#303030,#2a2a2a,#2b2b2b,#232323,#252525,#2f2f2f,#3b3b3b,#393939,#2d2d2d,#212121,#1a1a1a,#161616,#1c1c1c,#212121,#252525,#171717,#202020,#262626,#171717,#151515,#0f0f0f,#212121,#2a2a2a,#424242,#3d3d3d,#222222,#222222,#202020,#202020)"></div>
<div class="r" style="top:106.48px;height:3.16px;background:linear-gradient(90deg,#636363,#636363,#8f8f8f,#818181,#646464,#575757,#696969,#909090,#616161,#666666,#606060,#676767,#5e5e5e,#4e4e4e,#414141,#222222,#191919,#292929,#212121,#161616,#212121,#1c1c1c,#171717,#212121,#323232,#353535,#484848,#414141,#1b1b1b,#1c1c1c,#1e1e1e,#2e2e2e,#3c3c3c,#414141,#464646,#4d4d4d,#565656,#525252,#4c4c4c,#373737,#303030,#333333,#161616,#393939,#626262,#6c6c6c,#666666,#444444,#222222,#222222,#3c3c3c,#505050,#505050,#393939,#252525,#1d1d1d,#434343,#464646,#3c3c3c,#444444,#474747,#3e3e3e,#383838,#2e2e2e,#181818,#111111,#141414,#141414,#202020,#292929,#333333,#383838,#2a2a2a,#282828,#2c2c2c,#3e3e3e,#545454,#434343,#191919,#1d1d1d,#151515,#151515)"></div>
<div class="r" style="top:109.14px;height:3.16px;background:linear-gradient(90deg,#3d3d3d,#3d3d3d,#6e6e6e,#707070,#535353,#313131,#3d3d3d,#868686,#5d5d5d,#585858,#4a4a4a,#545454,#515151,#474747,#434343,#363636,#272727,#1b1b1b,#121212,#2e2e2e,#353535,#222222,#131313,#2a2a2a,#424242,#303030,#272727,#282828,#1f1f1f,#313131,#343434,#505050,#585858,#545454,#565656,#545454,#575757,#515151,#545454,#4e4e4e,#494949,#414141,#202020,#333333,#515151,#616161,#626262,#414141,#282828,#343434,#4b4b4b,#545454,#4d4d4d,#343434,#242424,#4a4a4a,#6f6f6f,#616161,#3f3f3f,#3c3c3c,#4b4b4b,#4d4d4d,#4f4f4f,#444444,#2b2b2b,#232323,#222222,#1b1b1b,#2e2e2e,#393939,#545454,#717171,#5c5c5c,#3a3a3a,#383838,#4c4c4c,#626262,#484848,#151515,#313131,#323232,#323232)"></div>
<div class="r" style="top:111.80px;height:3.16px;background:linear-gradient(90deg,#a0a0a0,#a0a0a0,#7b7b7b,#545454,#2e2e2e,#252525,#434343,#7f7f7f,#4e4e4e,#3b3b3b,#292929,#2b2b2b,#303030,#383838,#434343,#454545,#343434,#202020,#2c2c2c,#464646,#4c4c4c,#3e3e3e,#343434,#434343,#595959,#434343,#242424,#282828,#383838,#3b3b3b,#303030,#575757,#636363,#616161,#585858,#464646,#494949,#4b4b4b,#525252,#515151,#4b4b4b,#3e3e3e,#262626,#222222,#282828,#2b2b2b,#323232,#272727,#1d1d1d,#313131,#494949,#4d4d4d,#373737,#202020,#313131,#5e5e5e,#777777,#626262,#393939,#202020,#383838,#515151,#636363,#5b5b5b,#3f3f3f,#2c2c2c,#2a2a2a,#202020,#333333,#4b4b4b,#767676,#929292,#717171,#3e3e3e,#363636,#4d4d4d,#636363,#464646,#1c1c1c,#4d4d4d,#636363,#636363)"></div>
<div class="r" style="top:114.46px;height:3.16px;background:linear-gradient(90deg,#969696,#969696,#7e7e7e,#4e4e4e,#2d2d2d,#505050,#5e5e5e,#6c6c6c,#333333,#1c1c1c,#101010,#1f1f1f,#313131,#2e2e2e,#313131,#343434,#313131,#323232,#3f3f3f,#4c4c4c,#494949,#404040,#3f3f3f,#4f4f4f,#585858,#3a3a3a,#232323,#2e2e2e,#3f3f3f,#3a3a3a,#212121,#474747,#565656,#515151,#3d3d3d,#252525,#2b2b2b,#3a3a3a,#474747,#484848,#393939,#252525,#141414,#1b1b1b,#262626,#2a2a2a,#2b2b2b,#252525,#131313,#242424,#3a3a3a,#2e2e2e,#121212,#2d2d2d,#3d3d3d,#575757,#616161,#525252,#373737,#1a1a1a,#212121,#444444,#606060,#676767,#575757,#3d3d3d,#3b3b3b,#393939,#3f3f3f,#545454,#727272,#767676,#535353,#303030,#2c2c2c,#414141,#505050,#353535,#1f1f1f,#444444,#585858,#585858)"></div>
<div class="r" style="top:117.12px;height:3.16px;background:linear-gradient(90deg,#2b2b2b,#2b2b2b,#454545,#454545,#474747,#575757,#626262,#636363,#2f2f2f,#272727,#272727,#353535,#3d3d3d,#2a2a2a,#191919,#202020,#393939,#444444,#444444,#3e3e3e,#272727,#252525,#2f2f2f,#424242,#494949,#2d2d2d,#252525,#343434,#373737,#303030,#1e1e1e,#393939,#3b3b3b,#1d1d1d,#1b1b1b,#181818,#1a1a1a,#272727,#2c2c2c,#373737,#2a2a2a,#1b1b1b,#2a2a2a,#434343,#4d4d4d,#4b4b4b,#484848,#383838,#242424,#262626,#252525,#131313,#383838,#414141,#373737,#404040,#414141,#383838,#303030,#212121,#1b1b1b,#333333,#464646,#505050,#525252,#4c4c4c,#565656,#565656,#454545,#424242,#434343,#3c3c3c,#2d2d2d,#282828,#2c2c2c,#353535,#373737,#292929,#282828,#282828,#272727,#272727)"></div>
<div class="r" style="top:119.79px;height:3.16px;background:linear-gradient(90deg,#464646,#464646,#4a4a4a,#202020,#606060,#6d6d6d,#555555,#4f4f4f,#343434,#3f3f3f,#3e3e3e,#444444,#404040,#252525,#252525,#323232,#444444,#4c4c4c,#434343,#333333,#181818,#2b2b2b,#2b2b2b,#3a3a3a,#444444,#313131,#2c2c2c,#3a3a3a,#313131,#1a1a1a,#1d1d1d,#323232,#2b2b2b,#343434,#414141,#2b2b2b,#1a1a1a,#1d1d1d,#1e1e1e,#2d2d2d,#232323,#1d1d1d,#3b3b3b,#5f5f5f,#5f5f5f,#4d4d4d,#3e3e3e,#292929,#1f1f1f,#202020,#181818,#2b2b2b,#464646,#3e3e3e,#2c2c2c,#2e2e2e,#282828,#1a1a1a,#1d1d1d,#1d1d1d,#1b1b1b,#272727,#2a2a2a,#292929,#333333,#444444,#585858,#525252,#333333,#252525,#1d1d1d,#1d1d1d,#232323,#313131,#3f3f3f,#474747,#464646,#3e3e3e,#303030,#1c1c1c,#141414,#141414)"></div>
<div class="r" style="top:122.45px;height:3.16px;background:linear-gradient(90deg,#515151,#515151,#737373,#5c5c5c,#5b5b5b,#656565,#454545,#424242,#343434,#505050,#585858,#5b5b5b,#4a4a4a,#262626,#2c2c2c,#323232,#353535,#3a3a3a,#353535,#313131,#2a2a2a,#262626,#181818,#323232,#363636,#242424,#242424,#2a2a2a,#262626,#232323,#252525,#323232,#434343,#585858,#4c4c4c,#292929,#121212,#141414,#202020,#252525,#1d1d1d,#131313,#313131,#5a5a5a,#565656,#404040,#2f2f2f,#1b1b1b,#1c1c1c,#101010,#161616,#252525,#303030,#2a2a2a,#2f2f2f,#2c2c2c,#222222,#202020,#1e1e1e,#1b1b1b,#232323,#252525,#1d1d1d,#161616,#1c1c1c,#323232,#404040,#353535,#191919,#1d1d1d,#1c1c1c,#1d1d1d,#272727,#323232,#434343,#4f4f4f,#484848,#343434,#262626,#232323,#161616,#161616)"></div>
<div class="r" style="top:125.11px;height:3.16px;background:linear-gradient(90deg,#5d5d5d,#5d5d5d,#939393,#9b9b9b,#818181,#4e4e4e,#262626,#3d3d3d,#2e2e2e,#525252,#5d5d5d,#5f5f5f,#4c4c4c,#303030,#2b2b2b,#202020,#151515,#151515,#181818,#1e1e1e,#262626,#232323,#222222,#333333,#2f2f2f,#1a1a1a,#171717,#141414,#1d1d1d,#2a2a2a,#2a2a2a,#323232,#454545,#555555,#464646,#282828,#1b1b1b,#1c1c1c,#1d1d1d,#202020,#2e2e2e,#2c2c2c,#363636,#595959,#525252,#454545,#4b4b4b,#4c4c4c,#414141,#282828,#171717,#181818,#101010,#2f2f2f,#414141,#313131,#2d2d2d,#3e3e3e,#494949,#474747,#404040,#333333,#2a2a2a,#212121,#202020,#2d2d2d,#2e2e2e,#1f1f1f,#191919,#282828,#2c2c2c,#252525,#262626,#272727,#2d2d2d,#363636,#2d2d2d,#202020,#303030,#353535,#272727,#272727)"></div>
<div class="r" style="top:127.77px;height:3.16px;background:linear-gradient(90deg,#666666,#666666,#989898,#adadad,#a0a0a0,#606060,#1e1e1e,#303030,#373737,#515151,#515151,#535353,#484848,#353535,#292929,#212121,#2b2b2b,#282828,#272727,#232323,#1f1f1f,#303030,#424242,#4b4b4b,#3a3a3a,#1f1f1f,#252525,#2a2a2a,#2e2e2e,#323232,#2e2e2e,#272727,#292929,#343434,#373737,#323232,#333333,#373737,#232323,#222222,#474747,#434343,#4f4f4f,#757575,#6f6f6f,#5c5c5c,#636363,#6b6b6b,#555555,#303030,#252525,#292929,#2d2d2d,#393939,#3e3e3e,#313131,#363636,#474747,#5c5c5c,#5f5f5f,#4c4c4c,#333333,#252525,#292929,#303030,#333333,#2c2c2c,#262626,#303030,#3e3e3e,#383838,#212121,#1c1c1c,#252525,#242424,#181818,#212121,#383838,#464646,#383838,#242424,#242424)"></div>
<div class="r" style="top:130.43px;height:3.16px;background:linear-gradient(90deg,#7d7d7d,#7d7d7d,#9a9a9a,#b5b5b5,#b0b0b0,#717171,#333333,#414141,#424242,#474747,#363636,#404040,#434343,#3b3b3b,#353535,#3b3b3b,#414141,#3b3b3b,#4a4a4a,#505050,#434343,#434343,#4c4c4c,#4a4a4a,#292929,#161616,#282828,#313131,#363636,#333333,#333333,#363636,#2b2b2b,#161616,#2f2f2f,#474747,#4c4c4c,#525252,#414141,#181818,#434343,#474747,#595959,#777777,#6a6a6a,#505050,#515151,#5d5d5d,#484848,#212121,#282828,#323232,#3c3c3c,#3d3d3d,#353535,#2c2c2c,#242424,#2a2a2a,#454545,#505050,#3e3e3e,#414141,#3f3f3f,#3f3f3f,#4a4a4a,#454545,#373737,#343434,#434343,#575757,#525252,#333333,#202020,#2a2a2a,#303030,#141414,#323232,#525252,#5d5d5d,#474747,#353535,#353535)"></div>
<div class="r" style="top:133.10px;height:3.16px;background:linear-gradient(90deg,#999999,#999999,#a4a4a4,#bfbfbf,#c3c3c3,#939393,#5d5d5d,#424242,#3c3c3c,#3d3d3d,#1e1e1e,#303030,#3f3f3f,#3b3b3b,#353535,#3c3c3c,#3f3f3f,#363636,#4c4c4c,#5a5a5a,#4f4f4f,#414141,#373737,#2f2f2f,#171717,#262626,#2e2e2e,#2c2c2c,#313131,#303030,#343434,#393939,#252525,#1d1d1d,#4e4e4e,#6c6c6c,#5d5d5d,#515151,#535353,#323232,#2d2d2d,#383838,#4f4f4f,#5f5f5f,#484848,#2b2b2b,#2e2e2e,#353535,#2b2b2b,#1c1c1c,#323232,#363636,#393939,#373737,#303030,#2b2b2b,#282828,#1a1a1a,#1f1f1f,#303030,#373737,#5f5f5f,#606060,#484848,#484848,#4a4a4a,#494949,#454545,#4c4c4c,#626262,#6c6c6c,#575757,#363636,#2c2c2c,#333333,#262626,#454545,#5c5c5c,#676767,#606060,#515151,#515151)"></div>
<div class="r" style="top:135.76px;height:3.16px;background:linear-gradient(90deg,#9c9c9c,#9c9c9c,#a4a4a4,#bfbfbf,#e0e0e0,#c8c8c8,#747474,#333333,#323232,#3b3b3b,#222222,#444444,#4f4f4f,#373737,#141414,#282828,#333333,#1c1c1c,#252525,#2f2f2f,#242424,#1c1c1c,#1b1b1b,#1e1e1e,#181818,#171717,#2f2f2f,#2b2b2b,#2a2a2a,#383838,#474747,#474747,#353535,#323232,#595959,#737373,#5c5c5c,#383838,#3f3f3f,#393939,#292929,#2b2b2b,#3a3a3a,#414141,#2a2a2a,#1b1b1b,#2b2b2b,#1c1c1c,#2b2b2b,#414141,#3e3e3e,#2e2e2e,#2a2a2a,#252525,#212121,#313131,#3b3b3b,#2b2b2b,#1c1c1c,#282828,#363636,#535353,#4c4c4c,#262626,#222222,#3f3f3f,#4e4e4e,#4a4a4a,#494949,#555555,#6d6d6d,#767676,#565656,#303030,#373737,#444444,#5c5c5c,#585858,#4b4b4b,#4e4e4e,#4e4e4e,#4e4e4e)"></div>
<div class="r" style="top:138.42px;height:3.16px;background:linear-gradient(90deg,#707070,#707070,#888888,#ababab,#e5e5e5,#e4e4e4,#767676,#343434,#272727,#292929,#373737,#6a6a6a,#626262,#373737,#2b2b2b,#393939,#3e3e3e,#2f2f2f,#252525,#1e1e1e,#303030,#2e2e2e,#181818,#1e1e1e,#2f2f2f,#3b3b3b,#3e3e3e,#2d2d2d,#272727,#464646,#636363,#5f5f5f,#474747,#353535,#404040,#4f4f4f,#404040,#2b2b2b,#2b2b2b,#2d2d2d,#2b2b2b,#252525,#282828,#2c2c2c,#1a1a1a,#212121,#323232,#202020,#323232,#4a4a4a,#3a3a3a,#2c2c2c,#2a2a2a,#1f1f1f,#1c1c1c,#333333,#3a3a3a,#2c2c2c,#2a2a2a,#2c2c2c,#2b2b2b,#2f2f2f,#292929,#2c2c2c,#2e2e2e,#313131,#3a3a3a,#3a3a3a,#383838,#424242,#646464,#828282,#6c6c6c,#2e2e2e,#373737,#595959,#6b6b6b,#585858,#2d2d2d,#252525,#313131,#313131)"></div>
<div class="r" style="top:141.08px;height:3.16px;background:linear-gradient(90deg,#303030,#303030,#545454,#878787,#d0d0d0,#ebebeb,#8d8d8d,#3d3d3d,#282828,#272727,#464646,#6d6d6d,#555555,#2d2d2d,#333333,#393939,#3a3a3a,#3a3a3a,#3c3c3c,#313131,#474747,#414141,#1f1f1f,#212121,#3c3c3c,#535353,#444444,#212121,#1f1f1f,#434343,#676767,#636363,#4b4b4b,#3d3d3d,#3f3f3f,#4a4a4a,#444444,#3a3a3a,#333333,#292929,#292929,#252525,#2c2c2c,#2b2b2b,#1a1a1a,#212121,#2c2c2c,#232323,#2d2d2d,#505050,#595959,#525252,#4b4b4b,#404040,#323232,#2f2f2f,#393939,#3a3a3a,#3a3a3a,#343434,#2b2b2b,#2a2a2a,#383838,#4b4b4b,#3c3c3c,#1d1d1d,#202020,#222222,#252525,#3c3c3c,#565656,#6a6a6a,#5b5b5b,#282828,#282828,#535353,#656565,#4e4e4e,#262626,#111111,#101010,#101010)"></div>
<div class="r" style="top:143.74px;height:3.16px;background:linear-gradient(90deg,#242424,#242424,#2f2f2f,#656565,#bbbbbb,#e3e3e3,#8f8f8f,#353535,#343434,#2f2f2f,#3d3d3d,#4f4f4f,#414141,#343434,#2a2a2a,#191919,#161616,#242424,#3c3c3c,#343434,#383838,#353535,#1c1c1c,#131313,#252525,#3e3e3e,#3e3e3e,#363636,#2b2b2b,#2d2d2d,#585858,#656565,#565656,#444444,#3a3a3a,#424242,#494949,#434343,#373737,#2b2b2b,#232323,#303030,#424242,#313131,#181818,#242424,#2c2c2c,#262626,#151515,#404040,#555555,#4a4a4a,#434343,#414141,#383838,#1d1d1d,#202020,#323232,#3d3d3d,#3e3e3e,#373737,#2c2c2c,#434343,#575757,#424242,#232323,#131313,#131313,#1a1a1a,#2f2f2f,#363636,#323232,#323232,#303030,#2e2e2e,#3d3d3d,#474747,#333333,#181818,#0d0d0d,#161616,#161616)"></div>
<div class="r" style="top:146.40px;height:3.16px;background:linear-gradient(90deg,#686868,#686868,#636363,#4d4d4d,#959595,#cccccc,#a6a6a6,#777777,#3e3e3e,#343434,#434343,#595959,#5d5d5d,#4e4e4e,#333333,#212121,#333333,#2d2d2d,#2b2b2b,#313131,#2c2c2c,#252525,#2a2a2a,#2d2d2d,#262626,#313131,#414141,#444444,#323232,#161616,#3f3f3f,#5b5b5b,#545454,#3d3d3d,#282828,#1a1a1a,#242424,#2d2d2d,#292929,#2a2a2a,#333333,#4b4b4b,#535353,#2f2f2f,#232323,#424242,#5a5a5a,#585858,#383838,#2c2c2c,#363636,#262626,#222222,#343434,#454545,#343434,#181818,#2d2d2d,#3e3e3e,#444444,#393939,#212121,#525252,#666666,#4f4f4f,#373737,#2f2f2f,#292929,#242424,#2a2a2a,#252525,#131313,#252525,#303030,#373737,#393939,#272727,#131313,#222222,#272727,#313131,#313131)"></div>
<div class="r" style="top:149.07px;height:3.16px;background:linear-gradient(90deg,#b4b4b4,#b4b4b4,#a2a2a2,#646464,#383838,#747474,#8d8d8d,#858585,#393939,#3d3d3d,#575757,#727272,#737373,#585858,#353535,#313131,#565656,#555555,#2a2a2a,#1e1e1e,#232323,#242424,#303030,#303030,#282828,#2a2a2a,#313131,#363636,#2b2b2b,#141414,#282828,#454545,#424242,#303030,#3e3e3e,#3c3c3c,#191919,#1d1d1d,#202020,#1b1b1b,#2c2c2c,#484848,#444444,#191919,#393939,#5d5d5d,#767676,#717171,#505050,#383838,#2e2e2e,#1b1b1b,#171717,#2c2c2c,#474747,#484848,#2a2a2a,#252525,#3d3d3d,#474747,#363636,#1e1e1e,#585858,#696969,#565656,#3b3b3b,#3f3f3f,#3c3c3c,#333333,#363636,#303030,#1d1d1d,#242424,#272727,#2b2b2b,#313131,#232323,#222222,#323232,#3e3e3e,#535353,#535353)"></div>
<div class="r" style="top:151.73px;height:3.16px;background:linear-gradient(90deg,#b1b1b1,#b1b1b1,#969696,#808080,#5a5a5a,#343434,#484848,#666666,#272727,#393939,#616161,#7a7a7a,#6e6e6e,#434343,#292929,#414141,#686868,#646464,#323232,#101010,#262626,#333333,#333333,#2a2a2a,#242424,#292929,#292929,#242424,#212121,#1e1e1e,#262626,#363636,#292929,#202020,#464646,#4e4e4e,#272727,#1a1a1a,#212121,#171717,#232323,#3e3e3e,#323232,#191919,#4e4e4e,#6d6d6d,#747474,#686868,#585858,#464646,#2b2b2b,#282828,#242424,#141414,#222222,#383838,#2c2c2c,#1a1a1a,#3d3d3d,#494949,#3a3a3a,#101010,#373737,#4d4d4d,#4b4b4b,#2a2a2a,#3d3d3d,#484848,#3f3f3f,#3f3f3f,#323232,#141414,#191919,#232323,#2d2d2d,#2f2f2f,#1e1e1e,#161616,#2a2a2a,#3b3b3b,#535353,#535353)"></div>
<div class="r" style="top:154.39px;height:3.16px;background:linear-gradient(90deg,#787878,#787878,#525252,#595959,#787878,#6d6d6d,#383838,#555555,#262626,#232323,#515151,#686868,#4e4e4e,#2d2d2d,#4a4a4a,#646464,#737373,#636363,#363636,#1c1c1c,#2d2d2d,#434343,#4f4f4f,#4d4d4d,#4c4c4c,#565656,#535353,#383838,#272727,#2f2f2f,#353535,#303030,#141414,#1f1f1f,#363636,#424242,#2a2a2a,#202020,#1a1a1a,#1e1e1e,#3b3b3b,#515151,#3d3d3d,#161616,#515151,#6d6d6d,#5e5e5e,#4f4f4f,#5c5c5c,#4f4f4f,#272727,#323232,#343434,#1e1e1e,#2b2b2b,#404040,#353535,#202020,#3a3a3a,#474747,#474747,#343434,#282828,#393939,#333333,#131313,#3b3b3b,#494949,#3e3e3e,#3a3a3a,#363636,#2c2c2c,#212121,#141414,#363636,#4a4a4a,#414141,#2c2c2c,#1e1e1e,#202020,#363636,#363636)"></div>
<div class="r" style="top:157.05px;height:3.16px;background:linear-gradient(90deg,#515151,#515151,#545454,#3e3e3e,#595959,#676767,#4c4c4c,#414141,#242424,#1b1b1b,#3d3d3d,#4d4d4d,#2d2d2d,#363636,#676767,#7b7b7b,#7c7c7c,#6b6b6b,#454545,#262626,#282828,#393939,#585858,#6a6a6a,#6b6b6b,#6c6c6c,#5b5b5b,#383838,#2c2c2c,#323232,#363636,#272727,#121212,#1e1e1e,#222222,#3e3e3e,#414141,#303030,#101010,#434343,#666666,#6e6e6e,#4e4e4e,#1e1e1e,#464646,#5f5f5f,#444444,#363636,#4c4c4c,#424242,#232323,#2f2f2f,#383838,#1c1c1c,#3a3a3a,#535353,#434343,#2f2f2f,#353535,#3d3d3d,#4d4d4d,#4c4c4c,#333333,#252525,#131313,#252525,#3a3a3a,#3b3b3b,#292929,#1e1e1e,#292929,#383838,#3a3a3a,#303030,#3c3c3c,#494949,#4a4a4a,#414141,#2f2f2f,#171717,#131313,#131313)"></div>
<div class="r" style="top:159.71px;height:3.16px;background:linear-gradient(90deg,#666666,#666666,#909090,#8a8a8a,#6d6d6d,#464646,#4f4f4f,#404040,#1e1e1e,#292929,#464646,#4f4f4f,#383838,#484848,#717171,#797979,#777777,#6d6d6d,#4c4c4c,#2a2a2a,#1f1f1f,#1c1c1c,#3c3c3c,#595959,#5a5a5a,#585858,#575757,#4b4b4b,#343434,#222222,#242424,#1c1c1c,#1a1a1a,#151515,#252525,#464646,#4b4b4b,#313131,#2a2a2a,#515151,#616161,#5d5d5d,#494949,#353535,#3f3f3f,#4a4a4a,#343434,#222222,#282828,#202020,#1a1a1a,#2f2f2f,#383838,#1b1b1b,#2a2a2a,#424242,#383838,#343434,#363636,#3c3c3c,#474747,#444444,#282828,#1b1b1b,#2a2a2a,#383838,#343434,#252525,#161616,#212121,#131313,#2c2c2c,#444444,#565656,#5e5e5e,#404040,#1f1f1f,#1a1a1a,#191919,#1f1f1f,#171717,#171717)"></div>
<div class="r" style="top:162.38px;height:3.16px;background:linear-gradient(90deg,#5f5f5f,#5f5f5f,#878787,#7d7d7d,#474747,#3b3b3b,#747474,#616161,#252525,#3e3e3e,#616161,#6b6b6b,#5f5f5f,#666666,#787878,#6d6d6d,#606060,#585858,#434343,#333333,#1f1f1f,#1a1a1a,#272727,#323232,#323232,#4e4e4e,#727272,#6d6d6d,#3d3d3d,#191919,#121212,#191919,#1a1a1a,#101010,#262626,#3a3a3a,#3a3a3a,#363636,#404040,#444444,#383838,#343434,#3f3f3f,#474747,#444444,#3e3e3e,#303030,#1f1f1f,#181818,#101010,#212121,#313131,#373737,#222222,#1f1f1f,#353535,#2a2a2a,#2a2a2a,#393939,#3c3c3c,#3c3c3c,#3a3a3a,#393939,#3c3c3c,#454545,#454545,#323232,#282828,#2c2c2c,#303030,#282828,#0e0e0e,#2e2e2e,#585858,#6c6c6c,#515151,#424242,#464646,#3c3c3c,#2b2b2b,#171717,#171717)"></div>
<div class="r" style="top:165.04px;height:3.16px;background:linear-gradient(90deg,#4e4e4e,#4e4e4e,#4d4d4d,#222222,#5a5a5a,#a5a5a5,#bdbdbd,#959595,#3d3d3d,#4f4f4f,#696969,#6c6c6c,#676767,#6d6d6d,#727272,#5e5e5e,#454545,#363636,#373737,#414141,#393939,#313131,#2b2b2b,#262626,#393939,#676767,#888888,#767676,#383838,#1f1f1f,#1c1c1c,#161616,#181818,#181818,#232323,#252525,#262626,#393939,#424242,#393939,#343434,#262626,#262626,#3a3a3a,#393939,#313131,#282828,#2f2f2f,#373737,#202020,#222222,#303030,#272727,#1a1a1a,#252525,#3b3b3b,#292929,#1f1f1f,#3b3b3b,#383838,#2f2f2f,#2f2f2f,#333333,#363636,#424242,#4a4a4a,#3b3b3b,#2d2d2d,#2e2e2e,#292929,#2e2e2e,#222222,#191919,#434343,#575757,#545454,#6b6b6b,#747474,#585858,#2f2f2f,#191919,#191919)"></div>
<div class="r" style="top:167.70px;height:3.16px;background:linear-gradient(90deg,#3f3f3f,#3f3f3f,#2e2e2e,#707070,#bbbbbb,#d9d9d9,#cacaca,#9e9e9e,#424242,#4a4a4a,#565656,#575757,#5a5a5a,#5d5d5d,#585858,#434343,#313131,#2a2a2a,#2e2e2e,#383838,#434343,#3a3a3a,#2a2a2a,#2b2b2b,#434343,#636363,#787878,#636363,#2b2b2b,#252525,#252525,#161616,#181818,#272727,#292929,#202020,#282828,#383838,#3b3b3b,#3c3c3c,#474747,#3e3e3e,#1a1a1a,#191919,#1e1e1e,#181818,#181818,#474747,#6b6b6b,#555555,#1e1e1e,#242424,#131313,#252525,#333333,#3e3e3e,#313131,#1e1e1e,#3a3a3a,#3c3c3c,#2d2d2d,#202020,#1b1b1b,#1e1e1e,#262626,#3e3e3e,#3c3c3c,#212121,#202020,#232323,#242424,#1e1e1e,#1e1e1e,#2f2f2f,#2d2d2d,#3d3d3d,#676767,#6a6a6a,#3e3e3e,#131313,#1d1d1d,#1d1d1d)"></div>
<div class="r" style="top:170.36px;height:3.16px;background:linear-gradient(90deg,#2f2f2f,#2f2f2f,#444444,#8a8a8a,#b4b4b4,#a6a6a6,#909090,#727272,#262626,#272727,#303030,#363636,#3b3b3b,#3d3d3d,#353535,#242424,#292929,#2b2b2b,#202020,#222222,#2e2e2e,#212121,#171717,#2a2a2a,#444444,#4a4a4a,#494949,#333333,#141414,#232323,#1f1f1f,#1a1a1a,#202020,#323232,#333333,#2c2c2c,#353535,#3f3f3f,#464646,#494949,#4d4d4d,#4e4e4e,#383838,#1d1d1d,#131313,#151515,#313131,#5b5b5b,#828282,#717171,#313131,#1f1f1f,#151515,#262626,#373737,#383838,#303030,#202020,#2d2d2d,#2e2e2e,#252525,#222222,#303030,#2f2f2f,#181818,#282828,#282828,#101010,#272727,#292929,#1b1b1b,#0f0f0f,#1c1c1c,#222222,#171717,#3d3d3d,#5b5b5b,#454545,#181818,#343434,#2b2b2b,#2b2b2b)"></div>
<div class="r" style="top:173.02px;height:3.16px;background:linear-gradient(90deg,#232323,#232323,#282828,#464646,#494949,#595959,#777777,#555555,#1a1a1a,#1b1b1b,#141414,#111111,#111111,#0e0e0e,#0e0e0e,#141414,#2a2a2a,#333333,#272727,#222222,#151515,#1f1f1f,#252525,#212121,#3e3e3e,#3a3a3a,#202020,#191919,#353535,#333333,#232323,#2e2e2e,#393939,#363636,#252525,#2a2a2a,#373737,#414141,#4a4a4a,#464646,#3e3e3e,#434343,#383838,#292929,#2b2b2b,#141414,#343434,#5e5e5e,#707070,#5b5b5b,#303030,#323232,#2f2f2f,#292929,#333333,#2f2f2f,#262626,#151515,#151515,#1e1e1e,#252525,#1a1a1a,#1e1e1e,#171717,#131313,#1b1b1b,#1b1b1b,#2d2d2d,#3b3b3b,#383838,#373737,#2f2f2f,#1c1c1c,#171717,#131313,#353535,#444444,#1a1a1a,#3b3b3b,#4f4f4f,#303030,#303030)"></div>
<div class="r" style="top:175.69px;height:3.16px;background:linear-gradient(90deg,#373737,#373737,#5b5b5b,#6a6a6a,#737373,#9d9d9d,#939393,#414141,#242424,#2c2c2c,#2d2d2d,#2b2b2b,#2c2c2c,#323232,#2c2c2c,#1f1f1f,#2a2a2a,#333333,#292929,#292929,#222222,#2a2a2a,#323232,#2c2c2c,#3e3e3e,#373737,#292929,#303030,#3f3f3f,#383838,#2e2e2e,#3b3b3b,#444444,#373737,#222222,#2f2f2f,#313131,#2f2f2f,#363636,#333333,#313131,#333333,#2b2b2b,#3c3c3c,#4e4e4e,#333333,#292929,#545454,#535353,#3c3c3c,#363636,#434343,#444444,#434343,#404040,#303030,#232323,#1e1e1e,#222222,#2f2f2f,#373737,#2d2d2d,#2a2a2a,#3b3b3b,#3c3c3c,#242424,#171717,#323232,#434343,#585858,#6f6f6f,#656565,#3e3e3e,#171717,#0f0f0f,#292929,#2a2a2a,#222222,#515151,#4d4d4d,#262626,#262626)"></div>
<div class="r" style="top:178.35px;height:3.16px;background:linear-gradient(90deg,#3f3f3f,#3f3f3f,#9b9b9b,#d5d5d5,#cbcbcb,#bababa,#868686,#313131,#2d2d2d,#272727,#1e1e1e,#2a2a2a,#3e3e3e,#4e4e4e,#484848,#303030,#2f2f2f,#2b2b2b,#1f1f1f,#323232,#373737,#262626,#202020,#303030,#434343,#444444,#414141,#353535,#2c2c2c,#303030,#2b2b2b,#2e2e2e,#353535,#3d3d3d,#4d4d4d,#565656,#3f3f3f,#292929,#292929,#232323,#303030,#373737,#3f3f3f,#595959,#656565,#484848,#262626,#454545,#434343,#3b3b3b,#464646,#494949,#4f4f4f,#525252,#464646,#2d2d2d,#202020,#1e1e1e,#222222,#2c2c2c,#303030,#2e2e2e,#404040,#636363,#646464,#404040,#1e1e1e,#181818,#3a3a3a,#666666,#838383,#757575,#464646,#1a1a1a,#161616,#2b2b2b,#262626,#2e2e2e,#444444,#2d2d2d,#121212,#121212)"></div>
<div class="r" style="top:181.01px;height:3.16px;background:linear-gradient(90deg,#2e2e2e,#2e2e2e,#8e8e8e,#f1f1f1,#d4d4d4,#888888,#434343,#595959,#464646,#3c3c3c,#202020,#1a1a1a,#3e3e3e,#5b5b5b,#575757,#414141,#444444,#373737,#1f1f1f,#313131,#3c3c3c,#353535,#383838,#4c4c4c,#595959,#5e5e5e,#545454,#3a3a3a,#222222,#242424,#1f1f1f,#282828,#313131,#3e3e3e,#4d4d4d,#4e4e4e,#313131,#2b2b2b,#2c2c2c,#1d1d1d,#2e2e2e,#464646,#5d5d5d,#6a6a6a,#616161,#3e3e3e,#151515,#3e3e3e,#515151,#5a5a5a,#555555,#444444,#494949,#424242,#2b2b2b,#1d1d1d,#1a1a1a,#262626,#282828,#202020,#181818,#111111,#252525,#565656,#676767,#4f4f4f,#303030,#101010,#2b2b2b,#4f4f4f,#626262,#555555,#373737,#282828,#212121,#2e2e2e,#262626,#212121,#252525,#1d1d1d,#333333,#333333)"></div>
<div class="r" style="top:183.67px;height:3.16px;background:linear-gradient(90deg,#515151,#515151,#686868,#d1d1d1,#bbbbbb,#666666,#1e1e1e,#6f6f6f,#474747,#373737,#242424,#0e0e0e,#2e2e2e,#494949,#4f4f4f,#525252,#595959,#484848,#2d2d2d,#2b2b2b,#303030,#363636,#464646,#5b5b5b,#666666,#656565,#4d4d4d,#313131,#282828,#2d2d2d,#303030,#363636,#363636,#333333,#2b2b2b,#1d1d1d,#222222,#424242,#3a3a3a,#212121,#292929,#3f3f3f,#5a5a5a,#5c5c5c,#474747,#2b2b2b,#1d1d1d,#434343,#626262,#6b6b6b,#4e4e4e,#323232,#373737,#222222,#121212,#1b1b1b,#242424,#404040,#454545,#424242,#454545,#3f3f3f,#303030,#444444,#5c5c5c,#515151,#2c2c2c,#181818,#333333,#424242,#474747,#474747,#484848,#404040,#1f1f1f,#242424,#212121,#111111,#131313,#2b2b2b,#3f3f3f,#3f3f3f)"></div>
<div class="r" style="top:186.33px;height:3.16px;background:linear-gradient(90deg,#4c4c4c,#4c4c4c,#303030,#7a7a7a,#7b7b7b,#555555,#232323,#636363,#3d3d3d,#383838,#2d2d2d,#1c1c1c,#171717,#343434,#515151,#626262,#5d5d5d,#464646,#373737,#2f2f2f,#282828,#2e2e2e,#424242,#595959,#656565,#5e5e5e,#4e4e4e,#424242,#404040,#4c4c4c,#5f5f5f,#5a5a5a,#3f3f3f,#2a2a2a,#1c1c1c,#1f1f1f,#3b3b3b,#505050,#3d3d3d,#212121,#252525,#242424,#303030,#363636,#262626,#171717,#202020,#363636,#535353,#585858,#363636,#2b2b2b,#2c2c2c,#151515,#212121,#191919,#3a3a3a,#5c5c5c,#5d5d5d,#595959,#5e5e5e,#595959,#4c4c4c,#494949,#505050,#4b4b4b,#2a2a2a,#242424,#363636,#3c3c3c,#444444,#494949,#454545,#3a3a3a,#1e1e1e,#232323,#242424,#191919,#161616,#222222,#2f2f2f,#2f2f2f)"></div>
<div class="r" style="top:189.00px;height:3.16px;background:linear-gradient(90deg,#545454,#545454,#353535,#2d2d2d,#525252,#474747,#333333,#828282,#545454,#464646,#2d2d2d,#202020,#151515,#2f2f2f,#5e5e5e,#727272,#5a5a5a,#343434,#383838,#3d3d3d,#383838,#343434,#3d3d3d,#525252,#585858,#4f4f4f,#525252,#5a5a5a,#5a5a5a,#646464,#787878,#6f6f6f,#4c4c4c,#2c2c2c,#161616,#1e1e1e,#383838,#424242,#252525,#252525,#424242,#3f3f3f,#323232,#2f2f2f,#313131,#252525,#131313,#151515,#2c2c2c,#363636,#202020,#242424,#1a1a1a,#1f1f1f,#242424,#202020,#4d4d4d,#666666,#595959,#4a4a4a,#505050,#535353,#474747,#393939,#2e2e2e,#333333,#2e2e2e,#303030,#383838,#404040,#434343,#363636,#212121,#242424,#2e2e2e,#2e2e2e,#292929,#1a1a1a,#181818,#1c1c1c,#222222,#222222)"></div>
<div class="r" style="top:191.66px;height:3.16px;background:linear-gradient(90deg,#464646,#464646,#434343,#3b3b3b,#303030,#272727,#6e6e6e,#b0b0b0,#626262,#393939,#0f0f0f,#232323,#272727,#303030,#585858,#686868,#4a4a4a,#1a1a1a,#2f2f2f,#4a4a4a,#4c4c4c,#3c3c3c,#3c3c3c,#464646,#3f3f3f,#2f2f2f,#3b3b3b,#595959,#616161,#5e5e5e,#606060,#565656,#434343,#333333,#222222,#181818,#292929,#313131,#1a1a1a,#505050,#757575,#656565,#404040,#282828,#393939,#494949,#404040,#323232,#191919,#171717,#1a1a1a,#1d1d1d,#191919,#292929,#292929,#333333,#515151,#525252,#373737,#232323,#282828,#303030,#242424,#1c1c1c,#171717,#1f1f1f,#3a3a3a,#4b4b4b,#494949,#464646,#3a3a3a,#313131,#2e2e2e,#0e0e0e,#1c1c1c,#222222,#282828,#1c1c1c,#2c2c2c,#2b2b2b,#1c1c1c,#1c1c1c)"></div>
<div class="r" style="top:194.32px;height:3.16px;background:linear-gradient(90deg,#252525,#252525,#3c3c3c,#515151,#494949,#4b4b4b,#6a6a6a,#949494,#4a4a4a,#262626,#363636,#323232,#202020,#1d1d1d,#383838,#464646,#353535,#2a2a2a,#393939,#4c4c4c,#4e4e4e,#3c3c3c,#3b3b3b,#383838,#222222,#272727,#1d1d1d,#3a3a3a,#4b4b4b,#414141,#373737,#2b2b2b,#212121,#232323,#272727,#2f2f2f,#343434,#353535,#282828,#626262,#8d8d8d,#727272,#3b3b3b,#191919,#292929,#585858,#636363,#505050,#323232,#252525,#242424,#242424,#292929,#343434,#3d3d3d,#404040,#414141,#2d2d2d,#121212,#1a1a1a,#252525,#303030,#2e2e2e,#303030,#2b2b2b,#1d1d1d,#414141,#595959,#525252,#464646,#393939,#3c3c3c,#3c3c3c,#1e1e1e,#151515,#1a1a1a,#272727,#2d2d2d,#3f3f3f,#3a3a3a,#1d1d1d,#1d1d1d)"></div>
<div class="r" style="top:196.98px;height:3.16px;background:linear-gradient(90deg,#353535,#353535,#292929,#656565,#818181,#787878,#3e3e3e,#4f4f4f,#3b3b3b,#424242,#444444,#222222,#2a2a2a,#373737,#3f3f3f,#414141,#313131,#474747,#5b5b5b,#585858,#4f4f4f,#414141,#404040,#333333,#121212,#393939,#363636,#222222,#2a2a2a,#252525,#212121,#212121,#1c1c1c,#141414,#1a1a1a,#303030,#393939,#3c3c3c,#323232,#505050,#767676,#626262,#3f3f3f,#2d2d2d,#1a1a1a,#515151,#686868,#545454,#343434,#292929,#1f1f1f,#202020,#2d2d2d,#3b3b3b,#444444,#3a3a3a,#272727,#101010,#1f1f1f,#2e2e2e,#343434,#3e3e3e,#393939,#262626,#131313,#212121,#3a3a3a,#484848,#424242,#3a3a3a,#3d3d3d,#454545,#393939,#282828,#1f1f1f,#181818,#2a2a2a,#393939,#454545,#3e3e3e,#2a2a2a,#2a2a2a)"></div>
<div class="r" style="top:199.64px;height:3.16px;background:linear-gradient(90deg,#606060,#606060,#373737,#4f4f4f,#7c7c7c,#747474,#2f2f2f,#787878,#5e5e5e,#5d5d5d,#414141,#303030,#636363,#6e6e6e,#616161,#525252,#3f3f3f,#4e4e4e,#5d5d5d,#545454,#474747,#3f3f3f,#3d3d3d,#303030,#0e0e0e,#383838,#424242,#2a2a2a,#1f1f1f,#1b1b1b,#131313,#1f1f1f,#282828,#232323,#101010,#252525,#343434,#434343,#464646,#434343,#505050,#494949,#424242,#303030,#111111,#3b3b3b,#535353,#505050,#383838,#252525,#131313,#0f0f0f,#222222,#2a2a2a,#2d2d2d,#292929,#1d1d1d,#171717,#212121,#2f2f2f,#333333,#343434,#313131,#232323,#171717,#2a2a2a,#2f2f2f,#272727,#222222,#222222,#323232,#4c4c4c,#515151,#4b4b4b,#393939,#202020,#1c1c1c,#252525,#2d2d2d,#2d2d2d,#2f2f2f,#2f2f2f)"></div>
<div class="r" style="top:202.30px;height:3.16px;background:linear-gradient(90deg,#828282,#828282,#818181,#616161,#383838,#1f1f1f,#525252,#929292,#565656,#484848,#2b2b2b,#303030,#6f6f6f,#7a7a7a,#606060,#4c4c4c,#494949,#484848,#404040,#323232,#292929,#2b2b2b,#323232,#252525,#121212,#232323,#3c3c3c,#3d3d3d,#2e2e2e,#171717,#1f1f1f,#373737,#363636,#2a2a2a,#212121,#1e1e1e,#2c2c2c,#4c4c4c,#565656,#434343,#383838,#373737,#373737,#2f2f2f,#191919,#151515,#2c2c2c,#404040,#3f3f3f,#363636,#2a2a2a,#181818,#272727,#2f2f2f,#1b1b1b,#131313,#171717,#272727,#363636,#3a3a3a,#2d2d2d,#1d1d1d,#171717,#141414,#161616,#323232,#3a3a3a,#2a2a2a,#232323,#252525,#181818,#363636,#535353,#575757,#454545,#2b2b2b,#1d1d1d,#151515,#1d1d1d,#171717,#292929,#292929)"></div>
<div class="r" style="top:204.97px;height:3.16px;background:linear-gradient(90deg,#8c8c8c,#8c8c8c,#b4b4b4,#a7a7a7,#888888,#8b8b8b,#9e9e9e,#939393,#2c2c2c,#1d1d1d,#333333,#262626,#414141,#525252,#424242,#373737,#454545,#3f3f3f,#252525,#111111,#1b1b1b,#212121,#252525,#171717,#212121,#1a1a1a,#474747,#606060,#464646,#1a1a1a,#393939,#4c4c4c,#414141,#2f2f2f,#272727,#151515,#262626,#4a4a4a,#4b4b4b,#303030,#212121,#2a2a2a,#353535,#353535,#2c2c2c,#292929,#2e2e2e,#393939,#3a3a3a,#3a3a3a,#303030,#212121,#383838,#494949,#424242,#313131,#222222,#414141,#5b5b5b,#525252,#303030,#292929,#2b2b2b,#202020,#262626,#3c3c3c,#494949,#474747,#4c4c4c,#525252,#424242,#292929,#2e2e2e,#383838,#2f2f2f,#202020,#1c1c1c,#191919,#1d1d1d,#1b1b1b,#1f1f1f,#1f1f1f)"></div>
<div class="r" style="top:207.63px;height:3.16px;background:linear-gradient(90deg,#595959,#595959,#949494,#aeaeae,#bdbdbd,#cccccc,#c4c4c4,#8d8d8d,#272727,#424242,#555555,#414141,#252525,#2d2d2d,#383838,#363636,#3a3a3a,#373737,#212121,#252525,#3c3c3c,#444444,#373737,#2e2e2e,#404040,#272727,#4f4f4f,#686868,#464646,#383838,#515151,#545454,#474747,#303030,#242424,#262626,#2d2d2d,#2f2f2f,#252525,#1e1e1e,#161616,#222222,#3c3c3c,#3f3f3f,#393939,#3b3b3b,#3d3d3d,#393939,#383838,#383838,#282828,#282828,#3e3e3e,#484848,#484848,#434343,#434343,#585858,#686868,#5a5a5a,#3d3d3d,#3f3f3f,#424242,#2e2e2e,#232323,#373737,#4a4a4a,#4c4c4c,#4d4d4d,#4d4d4d,#3c3c3c,#212121,#101010,#242424,#212121,#141414,#272727,#272727,#121212,#212121,#151515,#151515)"></div>
<div class="r" style="top:210.29px;height:3.16px;background:linear-gradient(90deg,#212121,#212121,#575757,#9e9e9e,#dddddd,#f9f9f9,#e2e2e2,#919191,#303030,#4f4f4f,#555555,#383838,#1a1a1a,#333333,#555555,#5c5c5c,#444444,#2c2c2c,#1e1e1e,#222222,#404040,#535353,#4f4f4f,#494949,#525252,#2e2e2e,#444444,#565656,#2e2e2e,#474747,#5a5a5a,#555555,#515151,#3f3f3f,#202020,#282828,#373737,#383838,#393939,#353535,#202020,#1e1e1e,#3a3a3a,#404040,#404040,#424242,#3f3f3f,#383838,#373737,#393939,#1b1b1b,#2a2a2a,#393939,#303030,#2c2c2c,#313131,#3c3c3c,#4a4a4a,#4f4f4f,#4a4a4a,#454545,#4b4b4b,#484848,#2e2e2e,#1c1c1c,#313131,#4e4e4e,#4c4c4c,#3a3a3a,#2e2e2e,#222222,#1e1e1e,#1c1c1c,#2e2e2e,#2d2d2d,#1b1b1b,#323232,#3b3b3b,#272727,#2c2c2c,#2a2a2a,#2a2a2a)"></div>
<div class="r" style="top:212.95px;height:3.16px;background:linear-gradient(90deg,#303030,#303030,#494949,#999999,#f5f5f5,#ffffff,#ebebeb,#999999,#313131,#454545,#474747,#2d2d2d,#2d2d2d,#575757,#797979,#787878,#4f4f4f,#1e1e1e,#151515,#1b1b1b,#343434,#4a4a4a,#525252,#505050,#424242,#121212,#4d4d4d,#616161,#323232,#2e2e2e,#424242,#454545,#525252,#545454,#3e3e3e,#2f2f2f,#4a4a4a,#5f5f5f,#545454,#373737,#1d1d1d,#1f1f1f,#2c2c2c,#3a3a3a,#4c4c4c,#4f4f4f,#464646,#3e3e3e,#3c3c3c,#3c3c3c,#1a1a1a,#313131,#3c3c3c,#373737,#272727,#121212,#252525,#303030,#343434,#3b3b3b,#424242,#484848,#3c3c3c,#222222,#202020,#3d3d3d,#595959,#4c4c4c,#303030,#262626,#1c1c1c,#131313,#1c1c1c,#323232,#3b3b3b,#292929,#1d1d1d,#2b2b2b,#2c2c2c,#2f2f2f,#282828,#282828)"></div>
<div class="r" style="top:215.61px;height:3.16px;background:linear-gradient(90deg,#848484,#848484,#959595,#989898,#d0d0d0,#cecece,#a3a3a3,#717171,#222222,#313131,#3d3d3d,#2c2c2c,#2d2d2d,#595959,#767676,#6e6e6e,#4b4b4b,#222222,#191919,#212121,#353535,#424242,#3d3d3d,#333333,#1e1e1e,#2a2a2a,#626262,#737373,#535353,#343434,#2e2e2e,#272727,#383838,#505050,#545454,#4c4c4c,#5a5a5a,#686868,#4d4d4d,#202020,#272727,#363636,#2b2b2b,#1c1c1c,#313131,#414141,#4d4d4d,#4a4a4a,#404040,#383838,#2f2f2f,#4a4a4a,#4d4d4d,#5f5f5f,#575757,#404040,#3e3e3e,#2e2e2e,#212121,#242424,#393939,#464646,#373737,#292929,#323232,#4f4f4f,#666666,#555555,#3d3d3d,#373737,#323232,#202020,#1a1a1a,#2d2d2d,#3a3a3a,#373737,#2e2e2e,#141414,#1d1d1d,#242424,#2a2a2a,#2a2a2a)"></div>
<div class="r" style="top:218.28px;height:3.16px;background:linear-gradient(90deg,#d4d4d4,#d4d4d4,#e4e4e4,#b3b3b3,#8c8c8c,#5d5d5d,#494949,#353535,#0f0f0f,#252525,#3b3b3b,#303030,#1e1e1e,#434343,#5b5b5b,#525252,#3d3d3d,#282828,#1f1f1f,#2b2b2b,#3d3d3d,#3c3c3c,#292929,#1a1a1a,#1f1f1f,#323232,#515151,#626262,#5c5c5c,#4c4c4c,#3b3b3b,#242424,#202020,#444444,#5a5a5a,#5c5c5c,#626262,#5f5f5f,#383838,#1d1d1d,#3e3e3e,#464646,#323232,#272727,#222222,#1e1e1e,#434343,#4a4a4a,#3a3a3a,#323232,#4c4c4c,#666666,#5f5f5f,#757575,#6f6f6f,#585858,#4e4e4e,#3c3c3c,#2a2a2a,#2b2b2b,#3f3f3f,#4b4b4b,#3f3f3f,#373737,#404040,#5c5c5c,#737373,#676767,#4e4e4e,#424242,#434343,#313131,#1e1e1e,#292929,#2d2d2d,#252525,#313131,#252525,#131313,#282828,#494949,#494949)"></div>
<div class="r" style="top:220.94px;height:3.16px;background:linear-gradient(90deg,#e3e3e3,#e3e3e3,#fafafa,#d0d0d0,#7f7f7f,#232323,#3a3a3a,#2c2c2c,#141414,#212121,#373737,#282828,#121212,#373737,#484848,#3f3f3f,#2a2a2a,#222222,#181818,#2a2a2a,#383838,#2e2e2e,#272727,#353535,#313131,#232323,#333333,#4c4c4c,#5e5e5e,#555555,#3b3b3b,#1b1b1b,#1f1f1f,#424242,#5b5b5b,#5a5a5a,#545454,#454545,#1a1a1a,#303030,#4c4c4c,#4a4a4a,#3c3c3c,#3f3f3f,#3e3e3e,#292929,#313131,#373737,#313131,#363636,#555555,#656565,#535353,#5c5c5c,#545454,#3f3f3f,#353535,#303030,#353535,#424242,#555555,#555555,#3c3c3c,#313131,#434343,#626262,#797979,#737373,#5c5c5c,#4c4c4c,#4b4b4b,#343434,#242424,#404040,#444444,#272727,#232323,#313131,#202020,#2d2d2d,#545454,#545454)"></div>
<div class="r" style="top:223.60px;height:3.16px;background:linear-gradient(90deg,#cdcdcd,#cdcdcd,#eaeaea,#cdcdcd,#7d7d7d,#282828,#4a4a4a,#4f4f4f,#262626,#141414,#242424,#1d1d1d,#1c1c1c,#363636,#3f3f3f,#373737,#1f1f1f,#1b1b1b,#181818,#1d1d1d,#2b2b2b,#252525,#232323,#2c2c2c,#1c1c1c,#1f1f1f,#2f2f2f,#424242,#5b5b5b,#4f4f4f,#2c2c2c,#121212,#282828,#414141,#525252,#4f4f4f,#4b4b4b,#454545,#3b3b3b,#484848,#535353,#4e4e4e,#434343,#313131,#202020,#151515,#212121,#282828,#2d2d2d,#3b3b3b,#4d4d4d,#4c4c4c,#282828,#2e2e2e,#333333,#2a2a2a,#232323,#131313,#2f2f2f,#4b4b4b,#656565,#5e5e5e,#353535,#2a2a2a,#464646,#686868,#7a7a7a,#707070,#5b5b5b,#535353,#4b4b4b,#242424,#333333,#626262,#656565,#474747,#434343,#4e4e4e,#363636,#222222,#474747,#474747)"></div>
<div class="r" style="top:226.26px;height:3.16px;background:linear-gradient(90deg,#a6a6a6,#a6a6a6,#bfbfbf,#a6a6a6,#787878,#606060,#5f5f5f,#6a6a6a,#454545,#3b3b3b,#333333,#393939,#212121,#1a1a1a,#272727,#2c2c2c,#1f1f1f,#1d1d1d,#222222,#0f0f0f,#212121,#212121,#1b1b1b,#161616,#292929,#494949,#4b4b4b,#3d3d3d,#444444,#313131,#171717,#141414,#1f1f1f,#313131,#3c3c3c,#3c3c3c,#4e4e4e,#606060,#666666,#686868,#5b5b5b,#494949,#3f3f3f,#393939,#383838,#3b3b3b,#404040,#3b3b3b,#353535,#494949,#505050,#3d3d3d,#191919,#313131,#414141,#3a3a3a,#2f2f2f,#272727,#252525,#434343,#676767,#5c5c5c,#2f2f2f,#2d2d2d,#474747,#696969,#737373,#616161,#525252,#4f4f4f,#3b3b3b,#111111,#4a4a4a,#818181,#818181,#626262,#616161,#5f5f5f,#3e3e3e,#141414,#353535,#353535)"></div>
<div class="r" style="top:228.92px;height:3.16px;background:linear-gradient(90deg,#a8a8a8,#a8a8a8,#b2b2b2,#ababab,#989898,#707070,#616161,#818181,#565656,#464646,#343434,#515151,#434343,#1d1d1d,#202020,#2a2a2a,#252525,#222222,#282828,#1c1c1c,#111111,#1f1f1f,#252525,#2e2e2e,#494949,#626262,#5d5d5d,#414141,#2e2e2e,#1d1d1d,#242424,#212121,#191919,#212121,#2f2f2f,#2f2f2f,#373737,#4c4c4c,#646464,#757575,#666666,#474747,#404040,#585858,#626262,#5c5c5c,#585858,#4e4e4e,#3d3d3d,#4c4c4c,#4d4d4d,#2c2c2c,#222222,#3c3c3c,#484848,#3e3e3e,#282828,#232323,#202020,#313131,#525252,#4d4d4d,#303030,#2f2f2f,#3a3a3a,#525252,#5b5b5b,#4d4d4d,#525252,#525252,#353535,#161616,#474747,#7f7f7f,#8c8c8c,#7b7b7b,#747474,#616161,#3a3a3a,#0f0f0f,#3b3b3b,#3b3b3b)"></div>
<div class="r" style="top:231.59px;height:3.16px;background:linear-gradient(90deg,#b2b2b2,#b2b2b2,#bbbbbb,#a3a3a3,#6e6e6e,#9a9a9a,#ebebeb,#ededed,#727272,#474747,#131313,#4b4b4b,#515151,#2c2c2c,#131313,#1c1c1c,#1d1d1d,#1e1e1e,#2e2e2e,#333333,#292929,#262626,#2a2a2a,#2d2d2d,#424242,#5b5b5b,#5f5f5f,#4a4a4a,#303030,#262626,#292929,#212121,#151515,#1d1d1d,#333333,#393939,#303030,#262626,#434343,#676767,#656565,#494949,#3f3f3f,#505050,#565656,#535353,#555555,#525252,#404040,#434343,#3c3c3c,#232323,#353535,#454545,#424242,#363636,#282828,#1c1c1c,#2b2b2b,#303030,#323232,#2b2b2b,#222222,#1e1e1e,#181818,#212121,#2c2c2c,#323232,#464646,#505050,#474747,#3f3f3f,#4a4a4a,#676767,#717171,#6a6a6a,#656565,#555555,#434343,#2a2a2a,#3f3f3f,#3f3f3f)"></div>
<div class="r" style="top:234.25px;height:3.16px;background:linear-gradient(90deg,#747474,#747474,#767676,#636363,#444444,#d0d0d0,#ffffff,#ffffff,#8c8c8c,#616161,#2b2b2b,#2d2d2d,#505050,#424242,#222222,#181818,#151515,#262626,#3e3e3e,#424242,#3b3b3b,#373737,#292929,#1d1d1d,#242424,#414141,#555555,#4a4a4a,#303030,#1b1b1b,#0f0f0f,#1e1e1e,#1d1d1d,#2a2a2a,#363636,#3c3c3c,#343434,#181818,#292929,#515151,#585858,#444444,#2f2f2f,#252525,#2d2d2d,#383838,#484848,#535353,#494949,#444444,#3c3c3c,#343434,#484848,#535353,#434343,#2a2a2a,#282828,#262626,#383838,#525252,#565656,#373737,#151515,#101010,#1a1a1a,#1d1d1d,#141414,#212121,#383838,#464646,#555555,#6b6b6b,#7d7d7d,#818181,#666666,#444444,#494949,#606060,#767676,#686868,#494949,#494949)"></div>
<div class="r" style="top:236.91px;height:3.16px;background:linear-gradient(90deg,#7c7c7c,#7c7c7c,#2a2a2a,#202020,#3c3c3c,#adadad,#ffffff,#ffffff,#707070,#545454,#343434,#171717,#3d3d3d,#3a3a3a,#202020,#202020,#161616,#2b2b2b,#454545,#3b3b3b,#252525,#282828,#202020,#222222,#171717,#262626,#383838,#353535,#2d2d2d,#282828,#3c3c3c,#424242,#353535,#313131,#2b2b2b,#343434,#333333,#1f1f1f,#212121,#353535,#3a3a3a,#323232,#171717,#262626,#3a3a3a,#333333,#414141,#575757,#515151,#424242,#393939,#363636,#484848,#505050,#434343,#2f2f2f,#2f2f2f,#323232,#303030,#515151,#676767,#515151,#2c2c2c,#171717,#131313,#1f1f1f,#313131,#323232,#292929,#2a2a2a,#414141,#6c6c6c,#929292,#999999,#6b6b6b,#2e2e2e,#2f2f2f,#5e5e5e,#8e8e8e,#9a9a9a,#787878,#787878)"></div>
<div class="r" style="top:239.57px;height:3.16px;background:linear-gradient(90deg,#9d9d9d,#9d9d9d,#525252,#3a3a3a,#303030,#6a6a6a,#9f9f9f,#929292,#323232,#1d1d1d,#212121,#171717,#121212,#161616,#1b1b1b,#292929,#272727,#272727,#2b2b2b,#272727,#191919,#121212,#171717,#1e1e1e,#101010,#212121,#1f1f1f,#222222,#343434,#363636,#4d4d4d,#515151,#3e3e3e,#2b2b2b,#131313,#2b2b2b,#313131,#242424,#191919,#121212,#232323,#1f1f1f,#191919,#3e3e3e,#494949,#303030,#333333,#545454,#555555,#3e3e3e,#2f2f2f,#242424,#272727,#2c2c2c,#2a2a2a,#292929,#323232,#323232,#222222,#474747,#5b5b5b,#4b4b4b,#383838,#212121,#1a1a1a,#2d2d2d,#565656,#5c5c5c,#3c3c3c,#222222,#171717,#434343,#737373,#818181,#5d5d5d,#2b2b2b,#202020,#414141,#767676,#9b9b9b,#888888,#888888)"></div>
<div class="r" style="top:242.23px;height:3.16px;background:linear-gradient(90deg,#909090,#909090,#555555,#2f2f2f,#222222,#404040,#4c4c4c,#626262,#333333,#232323,#151515,#212121,#373737,#252525,#1f1f1f,#373737,#393939,#333333,#1d1d1d,#191919,#292929,#282828,#1e1e1e,#131313,#1b1b1b,#2a2a2a,#202020,#121212,#242424,#232323,#343434,#424242,#414141,#333333,#1f1f1f,#242424,#232323,#1d1d1d,#232323,#2b2b2b,#2b2b2b,#151515,#313131,#4c4c4c,#454545,#242424,#2b2b2b,#585858,#616161,#414141,#212121,#151515,#161616,#1d1d1d,#191919,#191919,#2b2b2b,#2c2c2c,#181818,#2f2f2f,#313131,#353535,#484848,#383838,#2f2f2f,#494949,#707070,#797979,#5b5b5b,#393939,#212121,#181818,#3d3d3d,#4c4c4c,#3b3b3b,#252525,#1f1f1f,#363636,#646464,#7f7f7f,#717171,#717171)"></div>
<div class="r" style="top:244.90px;height:3.16px;background:linear-gradient(90deg,#727272,#727272,#484848,#373737,#444444,#3b3b3b,#343434,#3c3c3c,#2c2c2c,#282828,#252525,#373737,#4c4c4c,#3b3b3b,#363636,#3e3e3e,#363636,#353535,#2d2d2d,#131313,#212121,#2d2d2d,#242424,#0e0e0e,#202020,#2c2c2c,#262626,#141414,#1c1c1c,#212121,#1a1a1a,#2f2f2f,#444444,#414141,#2d2d2d,#161616,#1e1e1e,#2e2e2e,#373737,#373737,#2a2a2a,#181818,#414141,#575757,#404040,#171717,#353535,#5e5e5e,#5e5e5e,#383838,#151515,#171717,#191919,#232323,#1c1c1c,#181818,#373737,#3e3e3e,#2c2c2c,#1f1f1f,#292929,#4a4a4a,#636363,#595959,#4a4a4a,#505050,#606060,#686868,#5b5b5b,#3e3e3e,#2f2f2f,#242424,#151515,#2e2e2e,#2c2c2c,#232323,#212121,#393939,#595959,#5d5d5d,#4d4d4d,#4d4d4d)"></div>
<div class="r" style="top:247.56px;height:3.16px;background:linear-gradient(90deg,#7d7d7d,#7d7d7d,#555555,#5f5f5f,#686868,#444444,#717171,#6d6d6d,#2d2d2d,#3f3f3f,#434343,#474747,#595959,#5f5f5f,#4e4e4e,#383838,#292929,#2a2a2a,#2f2f2f,#212121,#1d1d1d,#2d2d2d,#2c2c2c,#1b1b1b,#202020,#292929,#292929,#1b1b1b,#202020,#353535,#292929,#161616,#363636,#3f3f3f,#292929,#252525,#4d4d4d,#525252,#444444,#282828,#121212,#272727,#3e3e3e,#525252,#424242,#222222,#323232,#4c4c4c,#434343,#252525,#1e1e1e,#1b1b1b,#161616,#1d1d1d,#161616,#1e1e1e,#454545,#575757,#4a4a4a,#414141,#565656,#737373,#828282,#6e6e6e,#464646,#2c2c2c,#292929,#3b3b3b,#464646,#3a3a3a,#3c3c3c,#3d3d3d,#1d1d1d,#343434,#3f3f3f,#2e2e2e,#232323,#2c2c2c,#3c3c3c,#3b3b3b,#3f3f3f,#3f3f3f)"></div>
<div class="r" style="top:250.22px;height:3.16px;background:linear-gradient(90deg,#8f8f8f,#8f8f8f,#474747,#676767,#707070,#353535,#989898,#a7a7a7,#373737,#474747,#4a4a4a,#454545,#575757,#676767,#565656,#353535,#232323,#1c1c1c,#232323,#1f1f1f,#181818,#242424,#2c2c2c,#282828,#222222,#222222,#292929,#242424,#262626,#464646,#464646,#262626,#151515,#2b2b2b,#292929,#414141,#6a6a6a,#656565,#474747,#313131,#333333,#353535,#323232,#404040,#373737,#1e1e1e,#181818,#2c2c2c,#2d2d2d,#2b2b2b,#282828,#151515,#181818,#191919,#0f0f0f,#1e1e1e,#3b3b3b,#565656,#494949,#313131,#505050,#828282,#979797,#737373,#383838,#202020,#1b1b1b,#292929,#404040,#3d3d3d,#3d3d3d,#404040,#272727,#3b3b3b,#4b4b4b,#373737,#222222,#171717,#212121,#333333,#505050,#505050)"></div>
<div class="r" style="top:252.88px;height:3.16px;background:linear-gradient(90deg,#818181,#818181,#252525,#4e4e4e,#525252,#242424,#898989,#8c8c8c,#171717,#404040,#4c4c4c,#494949,#505050,#5c5c5c,#545454,#333333,#121212,#191919,#212121,#1d1d1d,#1b1b1b,#232323,#282828,#2b2b2b,#232323,#1e1e1e,#282828,#2d2d2d,#2d2d2d,#484848,#515151,#404040,#222222,#212121,#323232,#404040,#595959,#595959,#414141,#292929,#323232,#2f2f2f,#282828,#3a3a3a,#333333,#242424,#161616,#161616,#2a2a2a,#383838,#2e2e2e,#1d1d1d,#2a2a2a,#191919,#222222,#262626,#282828,#454545,#333333,#161616,#424242,#707070,#8b8b8b,#6c6c6c,#3e3e3e,#373737,#2b2b2b,#2e2e2e,#3d3d3d,#3b3b3b,#343434,#343434,#252525,#252525,#3e3e3e,#3c3c3c,#2d2d2d,#1c1c1c,#191919,#393939,#565656,#565656)"></div>
<div class="r" style="top:255.54px;height:3.16px;background:linear-gradient(90deg,#7d7d7d,#7d7d7d,#575757,#5a5a5a,#292929,#4b4b4b,#838383,#747474,#333333,#474747,#454545,#404040,#434343,#494949,#464646,#323232,#2c2c2c,#2d2d2d,#272727,#242424,#242424,#292929,#2b2b2b,#2e2e2e,#292929,#282828,#343434,#373737,#2f2f2f,#363636,#444444,#424242,#2b2b2b,#151515,#252525,#323232,#4a4a4a,#5f5f5f,#565656,#313131,#141414,#1a1a1a,#2a2a2a,#393939,#2b2b2b,#1c1c1c,#1b1b1b,#1d1d1d,#2d2d2d,#414141,#3b3b3b,#353535,#393939,#1c1c1c,#232323,#252525,#1b1b1b,#2a2a2a,#202020,#575757,#717171,#5d5d5d,#595959,#414141,#272727,#333333,#282828,#222222,#242424,#2c2c2c,#2e2e2e,#222222,#1d1d1d,#121212,#363636,#484848,#3c3c3c,#282828,#131313,#272727,#494949,#494949)"></div>
<div class="r" style="top:258.20px;height:3.16px;background:linear-gradient(90deg,#777777,#777777,#525252,#4f4f4f,#383838,#464646,#6e6e6e,#7f7f7f,#4c4c4c,#4c4c4c,#323232,#1e1e1e,#292929,#323232,#3d3d3d,#434343,#383838,#1e1e1e,#111111,#151515,#141414,#171717,#282828,#3d3d3d,#4a4a4a,#4f4f4f,#555555,#4a4a4a,#2f2f2f,#282828,#353535,#363636,#252525,#141414,#1b1b1b,#272727,#4d4d4d,#6f6f6f,#6f6f6f,#515151,#333333,#353535,#4e4e4e,#555555,#373737,#141414,#282828,#2b2b2b,#2b2b2b,#3d3d3d,#3d3d3d,#383838,#3f3f3f,#292929,#0e0e0e,#1a1a1a,#111111,#333333,#5d5d5d,#919191,#989898,#5e5e5e,#2b2b2b,#242424,#101010,#252525,#252525,#1d1d1d,#191919,#2b2b2b,#3f3f3f,#363636,#222222,#272727,#414141,#4d4d4d,#3d3d3d,#2f2f2f,#353535,#393939,#444444,#444444)"></div>
<div class="r" style="top:260.87px;height:3.16px;background:linear-gradient(90deg,#414141,#414141,#323232,#333333,#2d2d2d,#1e1e1e,#262626,#555555,#4a4a4a,#4c4c4c,#333333,#202020,#242424,#292929,#313131,#3a3a3a,#313131,#262626,#2c2c2c,#2c2c2c,#3d3d3d,#464646,#3c3c3c,#454545,#5b5b5b,#696969,#727272,#5c5c5c,#363636,#343434,#333333,#282828,#1a1a1a,#1a1a1a,#212121,#252525,#474747,#656565,#666666,#575757,#494949,#4e4e4e,#646464,#636363,#373737,#232323,#414141,#313131,#161616,#353535,#3d3d3d,#313131,#393939,#3a3a3a,#292929,#121212,#272727,#545454,#757575,#7f7f7f,#727272,#494949,#242424,#2f2f2f,#252525,#181818,#232323,#292929,#2c2c2c,#3c3c3c,#5e5e5e,#656565,#505050,#4f4f4f,#5d5d5d,#595959,#474747,#434343,#505050,#4d4d4d,#343434,#343434)"></div>
<div class="r" style="top:263.53px;height:3.16px;background:linear-gradient(90deg,#383838,#383838,#2b2b2b,#5c5c5c,#5a5a5a,#353535,#4a4a4a,#414141,#3c3c3c,#434343,#303030,#343434,#414141,#383838,#161616,#323232,#484848,#444444,#424242,#494949,#595959,#5a5a5a,#414141,#343434,#494949,#636363,#747474,#5b5b5b,#2c2c2c,#282828,#292929,#202020,#1a1a1a,#141414,#1b1b1b,#272727,#363636,#454545,#494949,#494949,#444444,#434343,#565656,#585858,#353535,#373737,#4d4d4d,#363636,#131313,#2d2d2d,#3c3c3c,#333333,#363636,#4c4c4c,#484848,#242424,#2a2a2a,#4d4d4d,#555555,#3b3b3b,#222222,#353535,#434343,#4b4b4b,#484848,#2b2b2b,#111111,#232323,#363636,#4f4f4f,#6d6d6d,#6c6c6c,#4e4e4e,#414141,#494949,#484848,#3c3c3c,#373737,#3c3c3c,#414141,#353535,#353535)"></div>
<div class="r" style="top:266.19px;height:3.16px;background:linear-gradient(90deg,#484848,#484848,#313131,#6a6a6a,#797979,#3d3d3d,#3c3c3c,#333333,#232323,#2e2e2e,#1e1e1e,#343434,#4c4c4c,#3d3d3d,#202020,#414141,#525252,#444444,#363636,#383838,#3f3f3f,#3d3d3d,#323232,#272727,#2c2c2c,#404040,#525252,#3f3f3f,#1d1d1d,#131313,#121212,#202020,#2b2b2b,#222222,#141414,#272727,#2b2b2b,#2a2a2a,#2b2b2b,#2e2e2e,#262626,#2b2b2b,#4c4c4c,#545454,#3f3f3f,#3c3c3c,#484848,#353535,#1a1a1a,#181818,#242424,#232323,#373737,#525252,#484848,#1d1d1d,#252525,#3a3a3a,#2a2a2a,#131313,#353535,#4f4f4f,#595959,#535353,#494949,#343434,#181818,#272727,#4f4f4f,#626262,#636363,#484848,#212121,#202020,#222222,#161616,#151515,#1d1d1d,#1b1b1b,#202020,#2e2e2e,#2e2e2e)"></div>
<div class="r" style="top:268.85px;height:3.16px;background:linear-gradient(90deg,#434343,#434343,#4d4d4d,#7d7d7d,#949494,#696969,#484848,#4e4e4e,#151515,#1a1a1a,#0f0f0f,#353535,#4d4d4d,#454545,#303030,#272727,#3a3a3a,#3a3a3a,#2e2e2e,#212121,#171717,#131313,#282828,#393939,#353535,#1a1a1a,#202020,#1d1d1d,#252525,#353535,#3d3d3d,#474747,#424242,#282828,#1d1d1d,#272727,#2f2f2f,#333333,#232323,#101010,#141414,#262626,#3e3e3e,#494949,#444444,#4c4c4c,#515151,#3a3a3a,#2d2d2d,#313131,#2c2c2c,#171717,#333333,#424242,#333333,#2a2a2a,#363636,#3e3e3e,#343434,#2b2b2b,#3a3a3a,#464646,#4a4a4a,#3e3e3e,#303030,#282828,#191919,#2c2c2c,#555555,#656565,#5a5a5a,#3b3b3b,#333333,#474747,#464646,#373737,#2c2c2c,#363636,#3a3a3a,#1d1d1d,#1e1e1e,#1e1e1e)"></div>
<div class="r" style="top:271.51px;height:3.16px;background:linear-gradient(90deg,#525252,#525252,#545454,#6c6c6c,#828282,#818181,#787878,#656565,#181818,#1a1a1a,#222222,#373737,#494949,#4f4f4f,#434343,#1a1a1a,#272727,#393939,#373737,#2a2a2a,#303030,#282828,#272727,#404040,#434343,#323232,#1d1d1d,#282828,#424242,#4f4f4f,#535353,#4c4c4c,#353535,#1a1a1a,#272727,#2a2a2a,#3c3c3c,#4b4b4b,#3b3b3b,#252525,#292929,#323232,#383838,#353535,#383838,#484848,#474747,#363636,#3f3f3f,#4b4b4b,#484848,#2f2f2f,#2e2e2e,#434343,#464646,#424242,#3f3f3f,#3c3c3c,#393939,#333333,#2f2f2f,#2a2a2a,#282828,#222222,#1a1a1a,#1b1b1b,#1c1c1c,#1a1a1a,#404040,#5d5d5d,#616161,#4b4b4b,#3b3b3b,#474747,#494949,#3d3d3d,#2a2a2a,#2f2f2f,#404040,#353535,#2c2c2c,#2c2c2c)"></div>
<div class="r" style="top:274.18px;height:3.16px;background:linear-gradient(90deg,#5e5e5e,#5e5e5e,#404040,#424242,#474747,#656565,#818181,#7a7a7a,#2a2a2a,#262626,#333333,#323232,#373737,#494949,#404040,#1c1c1c,#242424,#363636,#3a3a3a,#2d2d2d,#3b3b3b,#434343,#3e3e3e,#323232,#252525,#313131,#3f3f3f,#515151,#616161,#646464,#5c5c5c,#4e4e4e,#4a4a4a,#434343,#383838,#2a2a2a,#3c3c3c,#4d4d4d,#424242,#353535,#424242,#4c4c4c,#434343,#292929,#232323,#252525,#242424,#202020,#3c3c3c,#494949,#454545,#2d2d2d,#252525,#3f3f3f,#424242,#383838,#393939,#3e3e3e,#363636,#232323,#181818,#1b1b1b,#212121,#242424,#252525,#252525,#262626,#1c1c1c,#313131,#505050,#5b5b5b,#4e4e4e,#313131,#202020,#2c2c2c,#272727,#171717,#232323,#353535,#414141,#3f3f3f,#3f3f3f)"></div>
<div class="r" style="top:276.84px;height:3.16px;background:linear-gradient(90deg,#666666,#666666,#303030,#5b5b5b,#404040,#484848,#919191,#9b9b9b,#3c3c3c,#2e2e2e,#3c3c3c,#2e2e2e,#292929,#3f3f3f,#323232,#171717,#1e1e1e,#202020,#262626,#383838,#5d5d5d,#6c6c6c,#595959,#2d2d2d,#222222,#3f3f3f,#4a4a4a,#515151,#585858,#5f5f5f,#606060,#5d5d5d,#5f5f5f,#4b4b4b,#363636,#222222,#2a2a2a,#3c3c3c,#3c3c3c,#393939,#424242,#4e4e4e,#4c4c4c,#2d2d2d,#121212,#181818,#262626,#1a1a1a,#242424,#303030,#272727,#1b1b1b,#262626,#363636,#313131,#262626,#353535,#3f3f3f,#2e2e2e,#242424,#282828,#303030,#424242,#515151,#4b4b4b,#2d2d2d,#1b1b1b,#1e1e1e,#2f2f2f,#414141,#4d4d4d,#484848,#333333,#202020,#232323,#1d1d1d,#3b3b3b,#585858,#5c5c5c,#5a5a5a,#525252,#525252)"></div>
<div class="r" style="top:279.50px;height:3.16px;background:linear-gradient(90deg,#6d6d6d,#6d6d6d,#202020,#696969,#636363,#282828,#727272,#8b8b8b,#383838,#2f2f2f,#383838,#252525,#222222,#3a3a3a,#323232,#1e1e1e,#191919,#202020,#252525,#434343,#737373,#7e7e7e,#545454,#212121,#393939,#424242,#343434,#262626,#212121,#2b2b2b,#3c3c3c,#4a4a4a,#4e4e4e,#3c3c3c,#363636,#2a2a2a,#212121,#2a2a2a,#292929,#222222,#202020,#353535,#4e4e4e,#424242,#272727,#232323,#282828,#272727,#141414,#181818,#2d2d2d,#393939,#404040,#474747,#363636,#212121,#252525,#303030,#191919,#272727,#303030,#282828,#363636,#575757,#5f5f5f,#353535,#161616,#292929,#2a2a2a,#313131,#414141,#3b3b3b,#2c2c2c,#292929,#232323,#242424,#474747,#666666,#6a6a6a,#626262,#565656,#565656)"></div>
<div class="r" style="top:282.16px;height:3.16px;background:linear-gradient(90deg,#6d6d6d,#6d6d6d,#202020,#696969,#636363,#282828,#727272,#8b8b8b,#383838,#2f2f2f,#383838,#252525,#222222,#3a3a3a,#323232,#1e1e1e,#191919,#202020,#252525,#434343,#737373,#7e7e7e,#545454,#212121,#393939,#424242,#343434,#262626,#212121,#2b2b2b,#3c3c3c,#4a4a4a,#4e4e4e,#3c3c3c,#363636,#2a2a2a,#212121,#2a2a2a,#292929,#222222,#202020,#353535,#4e4e4e,#424242,#272727,#232323,#282828,#272727,#141414,#181818,#2d2d2d,#393939,#404040,#474747,#363636,#212121,#252525,#303030,#191919,#272727,#303030,#282828,#363636,#575757,#5f5f5f,#353535,#161616,#292929,#2a2a2a,#313131,#414141,#3b3b3b,#2c2c2c,#292929,#232323,#242424,#474747,#666666,#6a6a6a,#626262,#565656,#565656)"></div>
</div></div><div class="im" style="left:92px;top:365.2px;width:279.5px;height:278.0px"><div style="position:absolute;left:-1.503px;top:-2.989px;width:282.505px;height:283.978px;filter:blur(1.0px);">
<div class="r" style="top:0.00px;height:3.49px;background:linear-gradient(90deg,#353535,#353535,#4c4c4c,#5f5f5f,#5c5c5c,#404040,#171717,#202020,#505050,#545454,#545454,#878787,#cbcbcb,#fbfbfb,#ffffff,#f4f4f4,#c1c1c1,#878787,#5c5c5c,#4f4f4f,#636363,#747474,#757575,#717171,#696969,#707070,#7d7d7d,#737373,#5b5b5b,#535353,#666666,#727272,#6b6b6b,#585858,#545454,#767676,#939393,#838383,#616161,#676767,#727272,#5b5b5b,#3c3c3c,#4b4b4b,#656565,#6b6b6b,#7c7c7c,#858585,#747474,#707070,#747474,#616161,#444444,#2f2f2f,#2a2a2a,#3d3d3d,#606060,#5e5e5e,#2c2c2c,#181818,#343434,#3a3a3a,#343434,#545454,#696969,#696969,#6c6c6c,#777777,#7c7c7c,#606060,#333333,#2d2d2d,#333333,#272727,#232323,#232323,#060606,#010101,#303030,#5a5a5a,#4f4f4f,#383838,#3b3b3b,#3b3b3b,#282828,#262626,#242424,#121212,#181818,#353535,#494949,#3e3e3e,#282828,#252525,#252525)"></div>
<div class="r" style="top:2.99px;height:3.49px;background:linear-gradient(90deg,#353535,#353535,#4c4c4c,#5f5f5f,#5c5c5c,#404040,#171717,#202020,#505050,#545454,#545454,#878787,#cbcbcb,#fbfbfb,#ffffff,#f4f4f4,#c1c1c1,#878787,#5c5c5c,#4f4f4f,#636363,#747474,#757575,#717171,#696969,#707070,#7d7d7d,#737373,#5b5b5b,#535353,#666666,#727272,#6b6b6b,#585858,#545454,#767676,#939393,#838383,#616161,#676767,#727272,#5b5b5b,#3c3c3c,#4b4b4b,#656565,#6b6b6b,#7c7c7c,#858585,#747474,#707070,#747474,#616161,#444444,#2f2f2f,#2a2a2a,#3d3d3d,#606060,#5e5e5e,#2c2c2c,#181818,#343434,#3a3a3a,#343434,#545454,#696969,#696969,#6c6c6c,#777777,#7c7c7c,#606060,#333333,#2d2d2d,#333333,#272727,#232323,#232323,#060606,#010101,#303030,#5a5a5a,#4f4f4f,#383838,#3b3b3b,#3b3b3b,#282828,#262626,#242424,#121212,#181818,#353535,#494949,#3e3e3e,#282828,#252525,#252525)"></div>
<div class="r" style="top:5.98px;height:3.49px;background:linear-gradient(90deg,#4b4b4b,#4b4b4b,#414141,#363636,#3e3e3e,#333333,#101010,#1c1c1c,#565656,#6e6e6e,#7d7d7d,#ababab,#dadada,#f3f3f3,#e8e8e8,#b0b0b0,#6e6e6e,#454545,#3e3e3e,#3f3f3f,#4d4d4d,#717171,#7d7d7d,#787878,#7e7e7e,#848484,#797979,#595959,#3f3f3f,#494949,#606060,#6f6f6f,#6e6e6e,#5c5c5c,#565656,#6f6f6f,#939393,#8f8f8f,#6d6d6d,#686868,#676767,#555555,#4e4e4e,#666666,#858585,#858585,#878787,#979797,#9a9a9a,#a0a0a0,#a3a3a3,#898989,#5e5e5e,#393939,#393939,#565656,#757575,#7a7a7a,#505050,#313131,#4f4f4f,#585858,#484848,#555555,#686868,#6c6c6c,#6a6a6a,#6e6e6e,#7a7a7a,#6e6e6e,#474747,#363636,#474747,#454545,#2b2b2b,#101010,#000000,#000000,#0b0b0b,#292929,#3e3e3e,#383838,#333333,#373737,#3c3c3c,#4d4d4d,#535353,#404040,#3d3d3d,#505050,#5c5c5c,#4c4c4c,#333333,#3c3c3c,#3c3c3c)"></div>
<div class="r" style="top:8.97px;height:3.49px;background:linear-gradient(90deg,#5b5b5b,#5b5b5b,#4b4b4b,#414141,#585858,#595959,#3d3d3d,#2e2e2e,#434343,#5c5c5c,#707070,#a0a0a0,#c2c2c2,#c0c0c0,#a3a3a3,#727272,#515151,#3b3b3b,#454545,#515151,#575757,#717171,#7b7b7b,#7e7e7e,#8a8a8a,#7d7d7d,#575757,#272727,#252525,#565656,#707070,#767676,#757575,#6d6d6d,#686868,#6c6c6c,#848484,#858585,#5f5f5f,#4b4b4b,#494949,#525252,#5e5e5e,#686868,#8f8f8f,#a4a4a4,#a1a1a1,#b1b1b1,#cbcbcb,#d9d9d9,#d3d3d3,#b2b2b2,#7f7f7f,#494949,#3e3e3e,#525252,#5b5b5b,#616161,#555555,#4f4f4f,#747474,#868686,#7c7c7c,#676767,#515151,#515151,#585858,#6a6a6a,#818181,#7b7b7b,#545454,#363636,#383838,#393939,#313131,#282828,#242424,#1a1a1a,#040404,#121212,#434343,#474747,#333333,#393939,#525252,#6c6c6c,#767676,#6a6a6a,#5b5b5b,#585858,#616161,#656565,#5c5c5c,#5b5b5b,#5b5b5b)"></div>
<div class="r" style="top:11.96px;height:3.49px;background:linear-gradient(90deg,#6b6b6b,#6b6b6b,#5e5e5e,#626262,#858585,#999999,#898989,#575757,#3e3e3e,#4f4f4f,#5f5f5f,#7f7f7f,#989898,#939393,#818181,#767676,#6b6b6b,#484848,#4e4e4e,#6a6a6a,#707070,#797979,#828282,#838383,#818181,#6b6b6b,#4b4b4b,#303030,#3d3d3d,#737373,#8f8f8f,#828282,#707070,#636363,#555555,#505050,#606060,#606060,#474747,#4d4d4d,#656565,#727272,#686868,#535353,#787878,#a5a5a5,#acacac,#b7b7b7,#dedede,#fcfcfc,#f9f9f9,#dddddd,#b1b1b1,#707070,#494949,#494949,#454545,#424242,#464646,#515151,#747474,#8b8b8b,#898989,#686868,#303030,#2d2d2d,#444444,#616161,#777777,#717171,#575757,#484848,#3e3e3e,#373737,#484848,#4c4c4c,#4a4a4a,#3a3a3a,#1a1a1a,#202020,#494949,#565656,#4f4f4f,#484848,#4d4d4d,#616161,#6e6e6e,#676767,#565656,#474747,#4c4c4c,#6a6a6a,#7c7c7c,#777777,#777777)"></div>
<div class="r" style="top:14.95px;height:3.49px;background:linear-gradient(90deg,#797979,#797979,#6b6b6b,#606060,#7e7e7e,#a3a3a3,#a4a4a4,#777777,#4c4c4c,#454545,#4c4c4c,#6a6a6a,#868686,#8d8d8d,#8d8d8d,#9a9a9a,#929292,#595959,#575757,#7d7d7d,#767676,#696969,#737373,#6e6e6e,#5c5c5c,#515151,#535353,#555555,#636363,#8c8c8c,#9c9c9c,#808080,#5e5e5e,#3f3f3f,#2a2a2a,#313131,#3c3c3c,#333333,#2f2f2f,#515151,#7d7d7d,#828282,#5d5d5d,#323232,#4d4d4d,#868686,#9d9d9d,#a6a6a6,#c9c9c9,#f8f8f8,#ffffff,#fcfcfc,#e9e9e9,#b3b3b3,#7a7a7a,#626262,#525252,#474747,#4e4e4e,#5c5c5c,#737373,#818181,#838383,#787878,#5c5c5c,#636363,#717171,#797979,#757575,#646464,#535353,#535353,#545454,#565656,#676767,#676767,#646464,#595959,#414141,#393939,#484848,#616161,#6f6f6f,#636363,#515151,#595959,#616161,#555555,#4b4b4b,#404040,#2f2f2f,#454545,#6a6a6a,#777777,#777777)"></div>
<div class="r" style="top:17.94px;height:3.49px;background:linear-gradient(90deg,#727272,#727272,#686868,#5d5d5d,#727272,#909090,#989898,#808080,#5a5a5a,#3f3f3f,#323232,#494949,#6d6d6d,#818181,#969696,#b3b3b3,#bcbcbc,#a1a1a1,#aaaaaa,#c1c1c1,#9b9b9b,#636363,#575757,#4e4e4e,#3a3a3a,#363636,#454545,#515151,#6b6b6b,#898989,#818181,#676767,#484848,#232323,#121212,#2e2e2e,#474747,#383838,#232323,#303030,#626262,#727272,#535353,#242424,#303030,#6d6d6d,#939393,#9d9d9d,#b4b4b4,#e4e4e4,#ffffff,#ffffff,#ffffff,#e9e9e9,#b5b5b5,#8f8f8f,#666666,#4e4e4e,#5a5a5a,#6c6c6c,#7b7b7b,#848484,#8b8b8b,#8c8c8c,#949494,#b0b0b0,#aeaeae,#9c9c9c,#7f7f7f,#595959,#494949,#3a3a3a,#383838,#565656,#6b6b6b,#6d6d6d,#797979,#727272,#585858,#454545,#3d3d3d,#4e4e4e,#676767,#636363,#575757,#646464,#6d6d6d,#686868,#6a6a6a,#5b5b5b,#262626,#181818,#3e3e3e,#5e5e5e,#5e5e5e)"></div>
<div class="r" style="top:20.92px;height:3.49px;background:linear-gradient(90deg,#575757,#575757,#5c5c5c,#666666,#828282,#969696,#929292,#747474,#595959,#454545,#262626,#262626,#404040,#5c5c5c,#8a8a8a,#bcbcbc,#dadada,#eaeaea,#f8f8f8,#f3f3f3,#c8c8c8,#919191,#707070,#585858,#3b3b3b,#333333,#404040,#4e4e4e,#626262,#6c6c6c,#606060,#545454,#3c3c3c,#161616,#020202,#1b1b1b,#444444,#3b3b3b,#1b1b1b,#181818,#434343,#676767,#595959,#282828,#232323,#606060,#8a8a8a,#8e8e8e,#9b9b9b,#c0c0c0,#ececec,#fcfcfc,#f9f9f9,#e2e2e2,#bfbfbf,#a0a0a0,#7b7b7b,#626262,#656565,#7b7b7b,#888888,#909090,#9c9c9c,#959595,#9c9c9c,#c1c1c1,#c0c0c0,#a8a8a8,#838383,#5d5d5d,#4b4b4b,#272727,#141414,#393939,#565656,#616161,#767676,#747474,#606060,#515151,#383838,#363636,#4f4f4f,#565656,#505050,#616161,#6d6d6d,#707070,#7f7f7f,#787878,#3c3c3c,#151515,#262626,#414141,#414141)"></div>
<div class="r" style="top:23.91px;height:3.49px;background:linear-gradient(90deg,#4f4f4f,#4f4f4f,#545454,#636363,#848484,#9f9f9f,#9c9c9c,#757575,#545454,#3a3a3a,#222222,#272727,#303030,#3f3f3f,#727272,#b3b3b3,#d6d6d6,#eeeeee,#ffffff,#f9f9f9,#e0e0e0,#c7c7c7,#a7a7a7,#7c7c7c,#4c4c4c,#3f3f3f,#4c4c4c,#4b4b4b,#363636,#2c2c2c,#323232,#363636,#232323,#0d0d0d,#030303,#0c0c0c,#292929,#303030,#282828,#252525,#414141,#656565,#616161,#3a3a3a,#333333,#646464,#7d7d7d,#6c6c6c,#6e6e6e,#8b8b8b,#a7a7a7,#b7b7b7,#acacac,#9b9b9b,#9a9a9a,#9d9d9d,#8f8f8f,#707070,#5f5f5f,#757575,#8b8b8b,#8c8c8c,#8e8e8e,#8b8b8b,#979797,#afafaf,#a7a7a7,#8a8a8a,#6d6d6d,#595959,#444444,#191919,#020202,#101010,#2e2e2e,#494949,#626262,#676767,#5e5e5e,#4e4e4e,#393939,#343434,#474747,#4f4f4f,#444444,#454545,#454545,#494949,#6c6c6c,#7e7e7e,#5c5c5c,#202020,#151515,#373737,#373737)"></div>
<div class="r" style="top:26.90px;height:3.49px;background:linear-gradient(90deg,#616161,#616161,#606060,#646464,#818181,#9d9d9d,#aaaaaa,#949494,#6e6e6e,#3c3c3c,#242424,#353535,#383838,#3f3f3f,#6a6a6a,#aaaaaa,#cbcbcb,#e0e0e0,#fdfdfd,#f9f9f9,#e5e5e5,#d7d7d7,#bcbcbc,#848484,#4b4b4b,#454545,#4e4e4e,#292929,#020202,#000000,#0c0c0c,#282828,#242424,#1f1f1f,#222222,#212121,#2c2c2c,#454545,#525252,#4a4a4a,#494949,#5f5f5f,#6f6f6f,#707070,#7a7a7a,#888888,#797979,#4f4f4f,#414141,#585858,#666666,#5d5d5d,#404040,#4a4a4a,#7d7d7d,#9f9f9f,#919191,#666666,#4a4a4a,#646464,#7d7d7d,#767676,#636363,#646464,#7a7a7a,#888888,#808080,#6b6b6b,#565656,#4c4c4c,#363636,#0d0d0d,#000000,#000000,#090909,#2a2a2a,#494949,#5c5c5c,#595959,#4c4c4c,#515151,#5d5d5d,#656565,#5f5f5f,#484848,#3a3a3a,#303030,#343434,#545454,#717171,#616161,#1a1a1a,#020202,#333333,#333333)"></div>
<div class="r" style="top:29.89px;height:3.49px;background:linear-gradient(90deg,#656565,#656565,#6d6d6d,#777777,#909090,#a9a9a9,#bababa,#aeaeae,#919191,#676767,#4c4c4c,#4f4f4f,#444444,#434343,#5f5f5f,#8f8f8f,#b9b9b9,#d8d8d8,#f1f1f1,#e8e8e8,#d2d2d2,#c3c3c3,#a8a8a8,#767676,#4d4d4d,#595959,#595959,#1f1f1f,#000000,#050505,#252525,#464646,#3b3b3b,#292929,#343434,#424242,#4a4a4a,#626262,#707070,#696969,#585858,#5c5c5c,#7a7a7a,#989898,#aaaaaa,#9e9e9e,#757575,#424242,#252525,#2c2c2c,#363636,#1e1e1e,#030303,#1c1c1c,#6f6f6f,#989898,#838383,#575757,#474747,#626262,#737373,#696969,#464646,#3a3a3a,#4a4a4a,#515151,#5a5a5a,#656565,#5c5c5c,#575757,#4c4c4c,#2a2a2a,#080808,#000000,#000000,#0b0b0b,#363636,#545454,#4e4e4e,#484848,#5c5c5c,#747474,#818181,#727272,#545454,#4e4e4e,#545454,#595959,#666666,#717171,#616161,#252525,#080808,#313131,#313131)"></div>
<div class="r" style="top:32.88px;height:3.49px;background:linear-gradient(90deg,#5b5b5b,#5b5b5b,#676767,#797979,#8f8f8f,#a3a3a3,#a9a9a9,#999999,#8f8f8f,#818181,#777777,#747474,#555555,#404040,#515151,#757575,#a8a8a8,#cbcbcb,#d2d2d2,#bfbfbf,#a5a5a5,#9c9c9c,#999999,#868686,#757575,#808080,#808080,#585858,#404040,#505050,#616161,#636363,#444444,#191919,#242424,#4f4f4f,#616161,#6d6d6d,#7b7b7b,#747474,#595959,#4c4c4c,#686868,#8d8d8d,#9f9f9f,#888888,#5b5b5b,#292929,#0d0d0d,#080808,#0a0a0a,#0b0b0b,#0c0c0c,#303030,#737373,#929292,#828282,#585858,#474747,#626262,#747474,#717171,#515151,#3e3e3e,#414141,#444444,#4e4e4e,#565656,#4a4a4a,#585858,#6c6c6c,#626262,#404040,#181818,#020202,#050505,#2e2e2e,#3e3e3e,#2a2a2a,#2c2c2c,#484848,#696969,#7e7e7e,#767676,#606060,#636363,#6b6b6b,#6a6a6a,#737373,#818181,#7d7d7d,#616161,#4a4a4a,#4a4a4a,#4a4a4a)"></div>
<div class="r" style="top:35.87px;height:3.49px;background:linear-gradient(90deg,#595959,#595959,#626262,#6d6d6d,#757575,#818181,#838383,#7a7a7a,#7a7a7a,#7e7e7e,#858585,#878787,#6e6e6e,#565656,#646464,#7a7a7a,#a1a1a1,#b7b7b7,#a5a5a5,#858585,#707070,#818181,#a7a7a7,#a9a9a9,#8e8e8e,#868686,#8a8a8a,#868686,#8a8a8a,#929292,#8c8c8c,#7f7f7f,#616161,#383838,#2d2d2d,#4b4b4b,#5d5d5d,#5e5e5e,#6b6b6b,#6b6b6b,#535353,#414141,#535353,#787878,#888888,#6e6e6e,#424242,#161616,#141414,#292929,#2b2b2b,#414141,#5b5b5b,#808080,#a8a8a8,#aeaeae,#939393,#606060,#454545,#686868,#7f7f7f,#767676,#595959,#404040,#3e3e3e,#4c4c4c,#535353,#4e4e4e,#505050,#6e6e6e,#8f8f8f,#8a8a8a,#626262,#383838,#131313,#0f0f0f,#292929,#1d1d1d,#080808,#212121,#464646,#575757,#626262,#696969,#696969,#6a6a6a,#6a6a6a,#686868,#737373,#828282,#878787,#808080,#727272,#5f5f5f,#5f5f5f)"></div>
<div class="r" style="top:38.86px;height:3.49px;background:linear-gradient(90deg,#707070,#707070,#7b7b7b,#6d6d6d,#5e5e5e,#666666,#747474,#737373,#6d6d6d,#787878,#828282,#7f7f7f,#747474,#727272,#7b7b7b,#747474,#7f7f7f,#838383,#5c5c5c,#373737,#3c3c3c,#6f6f6f,#a8a8a8,#ababab,#7f7f7f,#616161,#6c6c6c,#858585,#949494,#9e9e9e,#a1a1a1,#969696,#868686,#707070,#595959,#595959,#5c5c5c,#5a5a5a,#606060,#626262,#575757,#4a4a4a,#4a4a4a,#626262,#6d6d6d,#5e5e5e,#3c3c3c,#101010,#212121,#636363,#707070,#6d6d6d,#7d7d7d,#9f9f9f,#c4c4c4,#c0c0c0,#979797,#5b5b5b,#3e3e3e,#666666,#797979,#656565,#464646,#272727,#262626,#454545,#525252,#575757,#747474,#8f8f8f,#9a9a9a,#909090,#696969,#414141,#1e1e1e,#161616,#202020,#0c0c0c,#080808,#2f2f2f,#4e4e4e,#484848,#484848,#616161,#727272,#666666,#5b5b5b,#646464,#6f6f6f,#6b6b6b,#5e5e5e,#5c5c5c,#5a5a5a,#5d5d5d,#5d5d5d)"></div>
<div class="r" style="top:41.85px;height:3.49px;background:linear-gradient(90deg,#898989,#898989,#8d8d8d,#747474,#5c5c5c,#626262,#777777,#787878,#727272,#828282,#898989,#787878,#676767,#707070,#7e7e7e,#666666,#484848,#313131,#0f0f0f,#030303,#131313,#484848,#757575,#787878,#5e5e5e,#4c4c4c,#626262,#7d7d7d,#7d7d7d,#8c8c8c,#a7a7a7,#a9a9a9,#9e9e9e,#888888,#6d6d6d,#636363,#616161,#676767,#6b6b6b,#6b6b6b,#707070,#6b6b6b,#595959,#4f4f4f,#545454,#5e5e5e,#4d4d4d,#171717,#171717,#616161,#777777,#666666,#5f5f5f,#767676,#9c9c9c,#a3a3a3,#828282,#444444,#111111,#212121,#4f4f4f,#5b5b5b,#464646,#242424,#303030,#5f5f5f,#616161,#525252,#6f6f6f,#7e7e7e,#757575,#797979,#7c7c7c,#6b6b6b,#474747,#383838,#404040,#303030,#2b2b2b,#4a4a4a,#5f5f5f,#5a5a5a,#5e5e5e,#727272,#797979,#606060,#4e4e4e,#5f5f5f,#636363,#3a3a3a,#181818,#2b2b2b,#4c4c4c,#6d6d6d,#6d6d6d)"></div>
<div class="r" style="top:44.84px;height:3.49px;background:linear-gradient(90deg,#919191,#919191,#8b8b8b,#808080,#6e6e6e,#636363,#686868,#6e6e6e,#747474,#858585,#8d8d8d,#777777,#555555,#595959,#717171,#5a5a5a,#222222,#030303,#000000,#060606,#212121,#424242,#434343,#3a3a3a,#3c3c3c,#4c4c4c,#6d6d6d,#727272,#595959,#717171,#999999,#969696,#858585,#707070,#666666,#686868,#636363,#656565,#686868,#747474,#888888,#878787,#707070,#585858,#595959,#737373,#747474,#3c3c3c,#1a1a1a,#434343,#575757,#4e4e4e,#4f4f4f,#666666,#7d7d7d,#7c7c7c,#666666,#313131,#000000,#000000,#272727,#626262,#585858,#383838,#4d4d4d,#818181,#818181,#616161,#686868,#6a6a6a,#575757,#6e6e6e,#a0a0a0,#afafaf,#858585,#636363,#606060,#575757,#565656,#6c6c6c,#7e7e7e,#828282,#8f8f8f,#a9a9a9,#a6a6a6,#818181,#696969,#727272,#626262,#141414,#000000,#303030,#727272,#8c8c8c,#8c8c8c)"></div>
<div class="r" style="top:47.83px;height:3.49px;background:linear-gradient(90deg,#838383,#838383,#7d7d7d,#787878,#6a6a6a,#535353,#454545,#4d4d4d,#5e5e5e,#6f6f6f,#848484,#7a7a7a,#474747,#393939,#5c5c5c,#4e4e4e,#272727,#252525,#252525,#2c2c2c,#4e4e4e,#606060,#464646,#242424,#222222,#505050,#797979,#6d6d6d,#434343,#5e5e5e,#848484,#737373,#515151,#484848,#626262,#757575,#686868,#4c4c4c,#3c3c3c,#565656,#7c7c7c,#848484,#767676,#656565,#6a6a6a,#8b8b8b,#949494,#6b6b6b,#404040,#3c3c3c,#383838,#383838,#515151,#767676,#898989,#818181,#646464,#343434,#020202,#000000,#1d1d1d,#616161,#676767,#4b4b4b,#515151,#848484,#999999,#888888,#7f7f7f,#787878,#626262,#6a6a6a,#9b9b9b,#b4b4b4,#919191,#6e6e6e,#696969,#676767,#6f6f6f,#878787,#9d9d9d,#9c9c9c,#a6a6a6,#dfdfdf,#ededed,#b7b7b7,#868686,#7a7a7a,#5d5d5d,#0d0d0d,#000000,#3b3b3b,#7b7b7b,#888888,#888888)"></div>
<div class="r" style="top:50.82px;height:3.49px;background:linear-gradient(90deg,#787878,#787878,#636363,#4c4c4c,#393939,#303030,#272727,#2a2a2a,#454545,#686868,#8f8f8f,#8d8d8d,#575757,#3b3b3b,#535353,#535353,#585858,#737373,#656565,#525252,#646464,#6a6a6a,#515151,#262626,#252525,#5f5f5f,#7e7e7e,#6e6e6e,#505050,#5d5d5d,#787878,#696969,#3e3e3e,#333333,#585858,#7c7c7c,#797979,#5a5a5a,#353535,#333333,#585858,#717171,#6f6f6f,#696969,#747474,#8b8b8b,#909090,#818181,#686868,#4c4c4c,#3f3f3f,#474747,#5f5f5f,#7f7f7f,#8f8f8f,#808080,#5e5e5e,#393939,#121212,#070707,#2d2d2d,#6a6a6a,#747474,#505050,#434343,#7a7a7a,#a8a8a8,#a1a1a1,#8d8d8d,#818181,#767676,#6c6c6c,#747474,#818181,#7b7b7b,#707070,#686868,#5c5c5c,#636363,#797979,#929292,#898989,#7f7f7f,#b8b8b8,#d6d6d6,#ababab,#828282,#707070,#4d4d4d,#0a0a0a,#020202,#3b3b3b,#737373,#818181,#818181)"></div>
<div class="r" style="top:53.81px;height:3.49px;background:linear-gradient(90deg,#828282,#828282,#5b5b5b,#2e2e2e,#171717,#262626,#2f2f2f,#333333,#565656,#797979,#969696,#8f8f8f,#666666,#4f4f4f,#5d5d5d,#707070,#898989,#9c9c9c,#868686,#737373,#797979,#6d6d6d,#484848,#1e1e1e,#2a2a2a,#606060,#737373,#6d6d6d,#676767,#727272,#7e7e7e,#6d6d6d,#4b4b4b,#3a3a3a,#5e5e5e,#878787,#8a8a8a,#7d7d7d,#636363,#424242,#4b4b4b,#646464,#626262,#616161,#717171,#7c7c7c,#717171,#717171,#757575,#646464,#575757,#5b5b5b,#6f6f6f,#8c8c8c,#8b8b8b,#666666,#464646,#525252,#545454,#3d3d3d,#4c4c4c,#777777,#808080,#646464,#5e5e5e,#8d8d8d,#afafaf,#a1a1a1,#7f7f7f,#707070,#787878,#747474,#656565,#636363,#6e6e6e,#707070,#5a5a5a,#393939,#323232,#474747,#646464,#606060,#4e4e4e,#626262,#777777,#777777,#747474,#6b6b6b,#464646,#141414,#141414,#474747,#737373,#8c8c8c,#8c8c8c)"></div>
<div class="r" style="top:56.80px;height:3.49px;background:linear-gradient(90deg,#7e7e7e,#7e7e7e,#6e6e6e,#424242,#1e1e1e,#323232,#515151,#636363,#7a7a7a,#838383,#898989,#7b7b7b,#5a5a5a,#545454,#646464,#818181,#a5a5a5,#a9a9a9,#939393,#969696,#959595,#787878,#4b4b4b,#252525,#373737,#616161,#6f6f6f,#727272,#757575,#808080,#797979,#5b5b5b,#4d4d4d,#525252,#717171,#898989,#7e7e7e,#787878,#767676,#686868,#5f5f5f,#555555,#484848,#545454,#6a6a6a,#6b6b6b,#505050,#4d4d4d,#6b6b6b,#696969,#4c4c4c,#434343,#656565,#8b8b8b,#878787,#5f5f5f,#444444,#5f5f5f,#6b6b6b,#545454,#565656,#737373,#7f7f7f,#7d7d7d,#868686,#a4a4a4,#b1b1b1,#9d9d9d,#7c7c7c,#6d6d6d,#737373,#797979,#6d6d6d,#606060,#676767,#767676,#727272,#5a5a5a,#3e3e3e,#3a3a3a,#4c4c4c,#4f4f4f,#414141,#323232,#393939,#555555,#656565,#5f5f5f,#414141,#272727,#373737,#5e5e5e,#6f6f6f,#797979,#797979)"></div>
<div class="r" style="top:59.78px;height:3.49px;background:linear-gradient(90deg,#686868,#686868,#6f6f6f,#494949,#181818,#191919,#464646,#717171,#8a8a8a,#8a8a8a,#818181,#666666,#484848,#555555,#636363,#808080,#bababa,#c6c6c6,#b3b3b3,#b6b6b6,#acacac,#8a8a8a,#595959,#363636,#505050,#737373,#797979,#757575,#767676,#7a7a7a,#5e5e5e,#333333,#3e3e3e,#5e5e5e,#6f6f6f,#717171,#606060,#626262,#7b7b7b,#888888,#787878,#4d4d4d,#393939,#4e4e4e,#5e5e5e,#5c5c5c,#555555,#5b5b5b,#6a6a6a,#555555,#272727,#232323,#595959,#8c8c8c,#8e8e8e,#6b6b6b,#424242,#383838,#383838,#404040,#5f5f5f,#767676,#7b7b7b,#7d7d7d,#818181,#959595,#a0a0a0,#939393,#7e7e7e,#717171,#717171,#7d7d7d,#7c7c7c,#6d6d6d,#666666,#767676,#8f8f8f,#878787,#626262,#464646,#4e4e4e,#505050,#2a2a2a,#040404,#080808,#343434,#505050,#4b4b4b,#363636,#373737,#5c5c5c,#808080,#777777,#5d5d5d,#5d5d5d)"></div>
<div class="r" style="top:62.77px;height:3.49px;background:linear-gradient(90deg,#525252,#525252,#636363,#454545,#151515,#010101,#151515,#454545,#727272,#808080,#777777,#4f4f4f,#363636,#595959,#757575,#939393,#d4d4d4,#ececec,#dadada,#d0d0d0,#c7c7c7,#ababab,#717171,#444444,#626262,#828282,#7c7c7c,#686868,#636363,#696969,#545454,#2e2e2e,#313131,#555555,#656565,#585858,#464646,#5c5c5c,#828282,#8e8e8e,#7b7b7b,#535353,#3c3c3c,#424242,#505050,#5f5f5f,#6f6f6f,#757575,#656565,#3c3c3c,#212121,#3a3a3a,#707070,#949494,#8b8b8b,#5a5a5a,#1f1f1f,#040404,#020202,#2a2a2a,#707070,#8a8a8a,#848484,#777777,#696969,#707070,#7f7f7f,#767676,#5b5b5b,#4f4f4f,#5a5a5a,#727272,#808080,#787878,#636363,#6a6a6a,#8a8a8a,#7e7e7e,#515151,#363636,#434343,#4f4f4f,#232323,#000000,#030303,#282828,#444444,#484848,#414141,#555555,#777777,#8d8d8d,#7c7c7c,#4f4f4f,#4f4f4f)"></div>
<div class="r" style="top:65.76px;height:3.49px;background:linear-gradient(90deg,#4d4d4d,#4d4d4d,#5c5c5c,#4b4b4b,#242424,#111111,#111111,#1a1a1a,#3d3d3d,#575757,#535353,#353535,#282828,#525252,#828282,#b3b3b3,#e6e6e6,#f2f2f2,#e1e1e1,#d3d3d3,#cecece,#b8b8b8,#7d7d7d,#4b4b4b,#656565,#7a7a7a,#696969,#505050,#3b3b3b,#3b3b3b,#3a3a3a,#2e2e2e,#2d2d2d,#4b4b4b,#646464,#595959,#4b4b4b,#6b6b6b,#8c8c8c,#848484,#656565,#474747,#3b3b3b,#323232,#404040,#606060,#6b6b6b,#5f5f5f,#434343,#303030,#3c3c3c,#696969,#8d8d8d,#929292,#757575,#414141,#0f0f0f,#000000,#010101,#323232,#7e7e7e,#979797,#919191,#818181,#737373,#7d7d7d,#888888,#6a6a6a,#303030,#1d1d1d,#313131,#555555,#707070,#6e6e6e,#5a5a5a,#5b5b5b,#676767,#535353,#353535,#282828,#313131,#4c4c4c,#434343,#2a2a2a,#363636,#494949,#4c4c4c,#555555,#656565,#747474,#767676,#707070,#676767,#505050,#505050)"></div>
<div class="r" style="top:68.75px;height:3.49px;background:linear-gradient(90deg,#5f5f5f,#5f5f5f,#676767,#5c5c5c,#424242,#424242,#363636,#191919,#1d1d1d,#282828,#232323,#222222,#2f2f2f,#474747,#767676,#b6b6b6,#dadada,#d2d2d2,#c2c2c2,#b9b9b9,#aeaeae,#989898,#656565,#4a4a4a,#626262,#676767,#575757,#595959,#4b4b4b,#303030,#1f1f1f,#252525,#3c3c3c,#575757,#6d6d6d,#6a6a6a,#595959,#686868,#7a7a7a,#6c6c6c,#474747,#2a2a2a,#292929,#252525,#333333,#545454,#4c4c4c,#313131,#2e2e2e,#353535,#3d3d3d,#686868,#919191,#939393,#777777,#585858,#313131,#111111,#181818,#424242,#747474,#8c8c8c,#8b8b8b,#848484,#888888,#9e9e9e,#9d9d9d,#6e6e6e,#313131,#1b1b1b,#242424,#3f3f3f,#575757,#5c5c5c,#595959,#4f4f4f,#363636,#272727,#343434,#393939,#3f3f3f,#595959,#666666,#676767,#6a6a6a,#6b6b6b,#666666,#666666,#747474,#7d7d7d,#6b6b6b,#4e4e4e,#4e4e4e,#5d5d5d,#5d5d5d)"></div>
<div class="r" style="top:71.74px;height:3.49px;background:linear-gradient(90deg,#747474,#747474,#737373,#686868,#565656,#4f4f4f,#333333,#1a1a1a,#1c1c1c,#181818,#0d0d0d,#1a1a1a,#2d2d2d,#3a3a3a,#6d6d6d,#afafaf,#c1c1c1,#a9a9a9,#9a9a9a,#979797,#8e8e8e,#747474,#434343,#383838,#505050,#585858,#5a5a5a,#717171,#7a7a7a,#696969,#4d4d4d,#474747,#595959,#5f5f5f,#5c5c5c,#636363,#585858,#575757,#606060,#5b5b5b,#4b4b4b,#313131,#1c1c1c,#191919,#2c2c2c,#444444,#212121,#040404,#1e1e1e,#383838,#222222,#3d3d3d,#767676,#8f8f8f,#8c8c8c,#7e7e7e,#646464,#393939,#282828,#3b3b3b,#5a5a5a,#696969,#575757,#464646,#636363,#8e8e8e,#909090,#676767,#414141,#373737,#2a2a2a,#262626,#343434,#454545,#515151,#484848,#303030,#323232,#535353,#626262,#646464,#6b6b6b,#707070,#6f6f6f,#6f6f6f,#818181,#868686,#717171,#676767,#717171,#6b6b6b,#505050,#585858,#727272,#727272)"></div>
<div class="r" style="top:74.73px;height:3.49px;background:linear-gradient(90deg,#717171,#717171,#737373,#737373,#646464,#4b4b4b,#333333,#404040,#4b4b4b,#3a3a3a,#282828,#2d2d2d,#292929,#353535,#656565,#8c8c8c,#8a8a8a,#727272,#6e6e6e,#767676,#7a7a7a,#666666,#3a3a3a,#292929,#363636,#4a4a4a,#5f5f5f,#6f6f6f,#7d7d7d,#8a8a8a,#868686,#717171,#696969,#666666,#585858,#5f5f5f,#606060,#5a5a5a,#636363,#6a6a6a,#696969,#4e4e4e,#2b2b2b,#262626,#3d3d3d,#4d4d4d,#242424,#060606,#212121,#363636,#1e1e1e,#303030,#5e5e5e,#838383,#9b9b9b,#929292,#777777,#4e4e4e,#383838,#4a4a4a,#505050,#414141,#1a1a1a,#060606,#2f2f2f,#686868,#717171,#4c4c4c,#363636,#404040,#262626,#060606,#181818,#333333,#414141,#494949,#575757,#6c6c6c,#797979,#707070,#5f5f5f,#5f5f5f,#5d5d5d,#4d4d4d,#5b5b5b,#898989,#929292,#686868,#4f4f4f,#696969,#7a7a7a,#707070,#707070,#797979,#797979)"></div>
<div class="r" style="top:77.72px;height:3.49px;background:linear-gradient(90deg,#595959,#595959,#5e5e5e,#6c6c6c,#6b6b6b,#545454,#3b3b3b,#555555,#6a6a6a,#5d5d5d,#464646,#414141,#2d2d2d,#2c2c2c,#424242,#464646,#363636,#3e3e3e,#656565,#7a7a7a,#7b7b7b,#6f6f6f,#4d4d4d,#353535,#2f2f2f,#333333,#464646,#535353,#5e5e5e,#727272,#767676,#676767,#717171,#8a8a8a,#808080,#737373,#747474,#757575,#797979,#717171,#686868,#5c5c5c,#525252,#595959,#656565,#616161,#4a4a4a,#363636,#333333,#232323,#1a1a1a,#383838,#555555,#7e7e7e,#a3a3a3,#969696,#737373,#565656,#575757,#6c6c6c,#5c5c5c,#2f2f2f,#171717,#181818,#333333,#515151,#505050,#2c2c2c,#202020,#3d3d3d,#333333,#141414,#232323,#373737,#3a3a3a,#4e4e4e,#6e6e6e,#848484,#818181,#646464,#3f3f3f,#474747,#4f4f4f,#353535,#454545,#787878,#808080,#525252,#3f3f3f,#646464,#797979,#727272,#6c6c6c,#686868,#686868)"></div>
<div class="r" style="top:80.71px;height:3.49px;background:linear-gradient(90deg,#525252,#525252,#4a4a4a,#535353,#555555,#454545,#303030,#404040,#5c5c5c,#595959,#464646,#3c3c3c,#252525,#141414,#1d1d1d,#232323,#080808,#202020,#666666,#868686,#8d8d8d,#939393,#848484,#6a6a6a,#494949,#262626,#222222,#303030,#353535,#3e3e3e,#464646,#555555,#828282,#aaaaaa,#979797,#787878,#7c7c7c,#868686,#7c7c7c,#5a5a5a,#4e4e4e,#616161,#6d6d6d,#727272,#6e6e6e,#4f4f4f,#3e3e3e,#4b4b4b,#3c3c3c,#131313,#050505,#262626,#494949,#717171,#989898,#959595,#7b7b7b,#6e6e6e,#7a7a7a,#858585,#6b6b6b,#3f3f3f,#3c3c3c,#4e4e4e,#585858,#5b5b5b,#4d4d4d,#333333,#2a2a2a,#494949,#5d5d5d,#525252,#4e4e4e,#4e4e4e,#494949,#5a5a5a,#747474,#7a7a7a,#707070,#575757,#2a2a2a,#242424,#393939,#2e2e2e,#262626,#484848,#5b5b5b,#464646,#424242,#606060,#696969,#606060,#5f5f5f,#626262,#626262)"></div>
<div class="r" style="top:83.70px;height:3.49px;background:linear-gradient(90deg,#656565,#656565,#565656,#494949,#373737,#262626,#2e2e2e,#484848,#666666,#616161,#393939,#2b2b2b,#242424,#151515,#202020,#3a3a3a,#1c1c1c,#181818,#4d4d4d,#7b7b7b,#a2a2a2,#c7c7c7,#d6d6d6,#c6c6c6,#8d8d8d,#515151,#333333,#2f2f2f,#383838,#4c4c4c,#5d5d5d,#676767,#7c7c7c,#909090,#7f7f7f,#6a6a6a,#717171,#757575,#5a5a5a,#2a2a2a,#2f2f2f,#5a5a5a,#666666,#616161,#555555,#2f2f2f,#202020,#3c3c3c,#3f3f3f,#232323,#101010,#252525,#3e3e3e,#525252,#777777,#898989,#808080,#7b7b7b,#828282,#878787,#767676,#5f5f5f,#5c5c5c,#606060,#656565,#666666,#5b5b5b,#535353,#4a4a4a,#545454,#717171,#797979,#6e6e6e,#6f6f6f,#767676,#7a7a7a,#7f7f7f,#787878,#717171,#606060,#2f2f2f,#0a0a0a,#131313,#121212,#010101,#080808,#303030,#4e4e4e,#595959,#616161,#666666,#636363,#636363,#676767,#676767)"></div>
<div class="r" style="top:86.69px;height:3.49px;background:linear-gradient(90deg,#6b6b6b,#6b6b6b,#595959,#434343,#2d2d2d,#191919,#303030,#585858,#747474,#656565,#313131,#303030,#393939,#313131,#444444,#5d5d5d,#464646,#323232,#434343,#6d6d6d,#ababab,#ebebeb,#ffffff,#f2f2f2,#b4b4b4,#858585,#6c6c6c,#535353,#575757,#747474,#8d8d8d,#828282,#666666,#545454,#505050,#5f5f5f,#676767,#5f5f5f,#3f3f3f,#1a1a1a,#212121,#434343,#575757,#5b5b5b,#5f5f5f,#505050,#383838,#3a3a3a,#404040,#464646,#474747,#414141,#333333,#343434,#5c5c5c,#7c7c7c,#878787,#858585,#777777,#717171,#6f6f6f,#707070,#727272,#666666,#5b5b5b,#505050,#444444,#575757,#575757,#464646,#595959,#6d6d6d,#686868,#757575,#8e8e8e,#8d8d8d,#7f7f7f,#727272,#727272,#707070,#5a5a5a,#2b2b2b,#101010,#030303,#000000,#000000,#292929,#606060,#676767,#5a5a5a,#6a6a6a,#777777,#727272,#6d6d6d,#6d6d6d)"></div>
<div class="r" style="top:89.68px;height:3.49px;background:linear-gradient(90deg,#797979,#797979,#606060,#4d4d4d,#484848,#3e3e3e,#484848,#585858,#646464,#515151,#343434,#3d3d3d,#393939,#2f2f2f,#515151,#6a6a6a,#5d5d5d,#515151,#555555,#646464,#898989,#c3c3c3,#e1e1e1,#cacaca,#a0a0a0,#919191,#8d8d8d,#6a6a6a,#4e4e4e,#646464,#868686,#8c8c8c,#6d6d6d,#414141,#3b3b3b,#5a5a5a,#616161,#545454,#535353,#4f4f4f,#484848,#404040,#3b3b3b,#434343,#5f5f5f,#696969,#484848,#343434,#3f3f3f,#575757,#616161,#4a4a4a,#3b3b3b,#454545,#5b5b5b,#737373,#888888,#8c8c8c,#717171,#5a5a5a,#575757,#686868,#777777,#696969,#545454,#424242,#3d3d3d,#575757,#505050,#2c2c2c,#292929,#3a3a3a,#434343,#696969,#919191,#969696,#828282,#6c6c6c,#636363,#666666,#6e6e6e,#575757,#2a2a2a,#121212,#0c0c0c,#171717,#373737,#555555,#505050,#434343,#626262,#7c7c7c,#7f7f7f,#7e7e7e,#7e7e7e)"></div>
<div class="r" style="top:92.67px;height:3.49px;background:linear-gradient(90deg,#919191,#919191,#6c6c6c,#5b5b5b,#6b6b6b,#7a7a7a,#7c7c7c,#7a7a7a,#797979,#616161,#404040,#2f2f2f,#121212,#111111,#474747,#6e6e6e,#6a6a6a,#626262,#656565,#626262,#646464,#818181,#969696,#949494,#8d8d8d,#8f8f8f,#909090,#6f6f6f,#3c3c3c,#393939,#626262,#868686,#818181,#666666,#5a5a5a,#626262,#5b5b5b,#4b4b4b,#676767,#929292,#919191,#646464,#2b2b2b,#181818,#424242,#5b5b5b,#363636,#1d1d1d,#363636,#555555,#545454,#3b3b3b,#494949,#636363,#676767,#6b6b6b,#737373,#727272,#5a5a5a,#383838,#292929,#4a4a4a,#6d6d6d,#686868,#515151,#474747,#515151,#636363,#565656,#3b3b3b,#3c3c3c,#3d3d3d,#434343,#6b6b6b,#929292,#989898,#808080,#666666,#505050,#4d4d4d,#626262,#5a5a5a,#383838,#373737,#4f4f4f,#595959,#464646,#2b2b2b,#232323,#404040,#686868,#828282,#8b8b8b,#959595,#959595)"></div>
<div class="r" style="top:95.66px;height:3.49px;background:linear-gradient(90deg,#9d9d9d,#9d9d9d,#6b6b6b,#545454,#727272,#9c9c9c,#b7b7b7,#cecece,#cacaca,#979797,#5e5e5e,#272727,#000000,#090909,#494949,#6f6f6f,#6b6b6b,#636363,#6d6d6d,#676767,#525252,#535353,#656565,#757575,#838383,#848484,#7b7b7b,#6d6d6d,#464646,#2e2e2e,#545454,#7f7f7f,#868686,#848484,#8a8a8a,#898989,#696969,#3b3b3b,#494949,#939393,#b8b8b8,#979797,#505050,#2d2d2d,#484848,#5c5c5c,#404040,#232323,#3d3d3d,#5c5c5c,#5a5a5a,#4a4a4a,#555555,#646464,#6d6d6d,#6d6d6d,#5b5b5b,#3e3e3e,#2d2d2d,#1d1d1d,#171717,#3a3a3a,#656565,#6a6a6a,#4e4e4e,#333333,#3a3a3a,#4f4f4f,#535353,#4e4e4e,#595959,#5b5b5b,#4a4a4a,#515151,#717171,#808080,#6f6f6f,#5a5a5a,#4c4c4c,#565656,#737373,#737373,#606060,#626262,#7b7b7b,#848484,#525252,#0c0c0c,#0b0b0b,#4d4d4d,#7b7b7b,#919191,#a2a2a2,#afafaf,#afafaf)"></div>
<div class="r" style="top:98.65px;height:3.49px;background:linear-gradient(90deg,#828282,#828282,#515151,#404040,#686868,#ababab,#e9e9e9,#ffffff,#f9f9f9,#b7b7b7,#7c7c7c,#424242,#080808,#161616,#4b4b4b,#565656,#434343,#454545,#636363,#656565,#4b4b4b,#484848,#616161,#6b6b6b,#717171,#6f6f6f,#656565,#636363,#444444,#2d2d2d,#545454,#7a7a7a,#7e7e7e,#7f7f7f,#8c8c8c,#979797,#7b7b7b,#434343,#282828,#5a5a5a,#989898,#999999,#747474,#545454,#4d4d4d,#575757,#585858,#4e4e4e,#616161,#797979,#7e7e7e,#777777,#6f6f6f,#707070,#7b7b7b,#6f6f6f,#3a3a3a,#0c0c0c,#080808,#1a1a1a,#2d2d2d,#434343,#585858,#646464,#5b5b5b,#424242,#3a3a3a,#4a4a4a,#5d5d5d,#5b5b5b,#515151,#4e4e4e,#353535,#1a1a1a,#383838,#696969,#6c6c6c,#606060,#585858,#676767,#7f7f7f,#7f7f7f,#7a7a7a,#7e7e7e,#8b8b8b,#8f8f8f,#585858,#0e0e0e,#141414,#5e5e5e,#828282,#909090,#a7a7a7,#a8a8a8,#a8a8a8)"></div>
<div class="r" style="top:101.63px;height:3.49px;background:linear-gradient(90deg,#3c3c3c,#3c3c3c,#272727,#373737,#5c5c5c,#969696,#c8c8c8,#dfdfdf,#cdcdcd,#9c9c9c,#818181,#5f5f5f,#303030,#3d3d3d,#565656,#404040,#191919,#191919,#484848,#6a6a6a,#5e5e5e,#585858,#6f6f6f,#727272,#6e6e6e,#646464,#5a5a5a,#555555,#383838,#323232,#585858,#737373,#6d6d6d,#5d5d5d,#696969,#888888,#898989,#626262,#323232,#383838,#5e5e5e,#727272,#717171,#626262,#4d4d4d,#4b4b4b,#5a5a5a,#656565,#818181,#999999,#9f9f9f,#919191,#777777,#6f6f6f,#717171,#555555,#1d1d1d,#010101,#000000,#101010,#404040,#4d4d4d,#424242,#494949,#616161,#6e6e6e,#686868,#636363,#6b6b6b,#6c6c6c,#525252,#3c3c3c,#2f2f2f,#151515,#2c2c2c,#616161,#6b6b6b,#686868,#626262,#656565,#6a6a6a,#575757,#575757,#6c6c6c,#808080,#858585,#585858,#272727,#383838,#6f6f6f,#818181,#777777,#767676,#666666,#666666)"></div>
<div class="r" style="top:104.62px;height:3.49px;background:linear-gradient(90deg,#131313,#131313,#1b1b1b,#3d3d3d,#565656,#6f6f6f,#7c7c7c,#7e7e7e,#818181,#808080,#868686,#797979,#646464,#707070,#797979,#5b5b5b,#272727,#1a1a1a,#4e4e4e,#7e7e7e,#717171,#5a5a5a,#666666,#6e6e6e,#6d6d6d,#5c5c5c,#4c4c4c,#444444,#373737,#454545,#575757,#5c5c5c,#4f4f4f,#3d3d3d,#4d4d4d,#717171,#797979,#636363,#4d4d4d,#535353,#595959,#585858,#636363,#6e6e6e,#696969,#5b5b5b,#4b4b4b,#545454,#838383,#a8a8a8,#a9a9a9,#909090,#696969,#5b5b5b,#616161,#535353,#3e3e3e,#252525,#101010,#2f2f2f,#626262,#5c5c5c,#3b3b3b,#3a3a3a,#575757,#787878,#7c7c7c,#626262,#595959,#6e6e6e,#6b6b6b,#525252,#464646,#363636,#3a3a3a,#4e4e4e,#494949,#484848,#585858,#6c6c6c,#6f6f6f,#4d4d4d,#2f2f2f,#333333,#555555,#6e6e6e,#545454,#383838,#515151,#7a7a7a,#7c7c7c,#525252,#2d2d2d,#242424,#242424)"></div>
<div class="r" style="top:107.61px;height:3.49px;background:linear-gradient(90deg,#1e1e1e,#1e1e1e,#1c1c1c,#3b3b3b,#5a5a5a,#5f5f5f,#575757,#5c5c5c,#6d6d6d,#808080,#909090,#8d8d8d,#7d7d7d,#838383,#8e8e8e,#7d7d7d,#575757,#434343,#626262,#7b7b7b,#626262,#393939,#424242,#5e5e5e,#6e6e6e,#585858,#383838,#2d2d2d,#343434,#525252,#505050,#3e3e3e,#2a2a2a,#131313,#232323,#494949,#4f4f4f,#454545,#545454,#6b6b6b,#646464,#434343,#4f4f4f,#6d6d6d,#676767,#3d3d3d,#0e0e0e,#0d0d0d,#434343,#808080,#868686,#787878,#696969,#656565,#666666,#606060,#5d5d5d,#616161,#636363,#797979,#8e8e8e,#767676,#4f4f4f,#424242,#494949,#676767,#767676,#5e5e5e,#484848,#6a6a6a,#858585,#767676,#636363,#535353,#3f3f3f,#333333,#191919,#111111,#383838,#6c6c6c,#828282,#717171,#3e3e3e,#101010,#141414,#3b3b3b,#4c4c4c,#3e3e3e,#4c4c4c,#6f6f6f,#676767,#292929,#070707,#1b1b1b,#1b1b1b)"></div>
<div class="r" style="top:110.60px;height:3.49px;background:linear-gradient(90deg,#202020,#202020,#2b2b2b,#505050,#727272,#666666,#565656,#696969,#7b7b7b,#7f7f7f,#7f7f7f,#7a7a7a,#6f6f6f,#717171,#838383,#868686,#686868,#515151,#5d5d5d,#626262,#474747,#2e2e2e,#3e3e3e,#696969,#858585,#696969,#363636,#232323,#2e2e2e,#494949,#434343,#2c2c2c,#0e0e0e,#000000,#030303,#242424,#3e3e3e,#434343,#555555,#6b6b6b,#616161,#3d3d3d,#434343,#555555,#3b3b3b,#080808,#000000,#000000,#070707,#484848,#5b5b5b,#545454,#5e5e5e,#6d6d6d,#6d6d6d,#595959,#545454,#6d6d6d,#7e7e7e,#868686,#929292,#818181,#565656,#363636,#353535,#545454,#6d6d6d,#595959,#3a3a3a,#606060,#848484,#777777,#6d6d6d,#616161,#3f3f3f,#2d2d2d,#151515,#000000,#0f0f0f,#484848,#767676,#747474,#434343,#0c0c0c,#000000,#222222,#5b5b5b,#535353,#454545,#545454,#4c4c4c,#1e1e1e,#010101,#0e0e0e,#0e0e0e)"></div>
<div class="r" style="top:113.59px;height:3.49px;background:linear-gradient(90deg,#1f1f1f,#1f1f1f,#4a4a4a,#6e6e6e,#818181,#696969,#555555,#6e6e6e,#7f7f7f,#6d6d6d,#575757,#555555,#606060,#6f6f6f,#888888,#8a8a8a,#696969,#585858,#656565,#616161,#515151,#565656,#5f5f5f,#727272,#818181,#6c6c6c,#4e4e4e,#3d3d3d,#303030,#2c2c2c,#202020,#121212,#151515,#191919,#202020,#353535,#585858,#6b6b6b,#6e6e6e,#6e6e6e,#646464,#4d4d4d,#4c4c4c,#4b4b4b,#303030,#0a0a0a,#000000,#000000,#040404,#444444,#535353,#3c3c3c,#404040,#5d5d5d,#676767,#515151,#4a4a4a,#5c5c5c,#656565,#717171,#868686,#808080,#535353,#2c2c2c,#272727,#3c3c3c,#575757,#454545,#2c2c2c,#5f5f5f,#7f7f7f,#6f6f6f,#767676,#727272,#535353,#393939,#1f1f1f,#080808,#030303,#282828,#5a5a5a,#575757,#353535,#1a1a1a,#121212,#343434,#626262,#5f5f5f,#464646,#373737,#3e3e3e,#3c3c3c,#161616,#010101,#010101)"></div>
<div class="r" style="top:116.58px;height:3.49px;background:linear-gradient(90deg,#2b2b2b,#2b2b2b,#585858,#777777,#828282,#686868,#4e4e4e,#5d5d5d,#656565,#4a4a4a,#313131,#404040,#676767,#828282,#989898,#979797,#818181,#7b7b7b,#7d7d7d,#747474,#6a6a6a,#6b6b6b,#5e5e5e,#4f4f4f,#4e4e4e,#525252,#525252,#464646,#2a2a2a,#1a1a1a,#0e0e0e,#0d0d0d,#3d3d3d,#616161,#5f5f5f,#595959,#696969,#767676,#747474,#717171,#6f6f6f,#5a5a5a,#494949,#4f4f4f,#5b5b5b,#555555,#272727,#040404,#101010,#535353,#5d5d5d,#525252,#505050,#555555,#555555,#484848,#4a4a4a,#4f4f4f,#585858,#7a7a7a,#939393,#848484,#616161,#464646,#383838,#373737,#535353,#5a5a5a,#484848,#626262,#737373,#6d6d6d,#7e7e7e,#868686,#737373,#494949,#1b1b1b,#111111,#141414,#2a2a2a,#484848,#424242,#2e2e2e,#313131,#3d3d3d,#363636,#393939,#464646,#383838,#272727,#3b3b3b,#4a4a4a,#262626,#0c0c0c,#0c0c0c)"></div>
<div class="r" style="top:119.57px;height:3.49px;background:linear-gradient(90deg,#4e4e4e,#4e4e4e,#696969,#808080,#858585,#6e6e6e,#5c5c5c,#5f5f5f,#585858,#3b3b3b,#2d2d2d,#484848,#6f6f6f,#858585,#929292,#9b9b9b,#a2a2a2,#a1a1a1,#8d8d8d,#7c7c7c,#717171,#636363,#444444,#2b2b2b,#2e2e2e,#434343,#464646,#333333,#1b1b1b,#161616,#1b1b1b,#1c1c1c,#444444,#6c6c6c,#6d6d6d,#616161,#5e5e5e,#555555,#4b4b4b,#636363,#7a7a7a,#5c5c5c,#363636,#4c4c4c,#797979,#848484,#626262,#2a2a2a,#212121,#3c3c3c,#444444,#5f5f5f,#757575,#696969,#555555,#444444,#3f3f3f,#3e3e3e,#555555,#868686,#9b9b9b,#848484,#707070,#656565,#515151,#414141,#595959,#747474,#6b6b6b,#646464,#656565,#676767,#767676,#838383,#787878,#494949,#101010,#070707,#171717,#2a2a2a,#414141,#474747,#383838,#3d3d3d,#4d4d4d,#444444,#3f3f3f,#494949,#3c3c3c,#343434,#404040,#3e3e3e,#2e2e2e,#313131,#313131)"></div>
<div class="r" style="top:122.56px;height:3.49px;background:linear-gradient(90deg,#616161,#616161,#6c6c6c,#7a7a7a,#7e7e7e,#6e6e6e,#656565,#5f5f5f,#434343,#2d2d2d,#444444,#616161,#6d6d6d,#787878,#818181,#878787,#979797,#939393,#7b7b7b,#6e6e6e,#696969,#5c5c5c,#444444,#313131,#333333,#444444,#444444,#373737,#1c1c1c,#0a0a0a,#141414,#1e1e1e,#323232,#595959,#686868,#5e5e5e,#525252,#363636,#1d1d1d,#4a4a4a,#717171,#555555,#373737,#535353,#787878,#7a7a7a,#606060,#3f3f3f,#3a3a3a,#333333,#2b2b2b,#4a4a4a,#6f6f6f,#767676,#696969,#4c4c4c,#333333,#2f2f2f,#4d4d4d,#757575,#818181,#737373,#707070,#6d6d6d,#5b5b5b,#4a4a4a,#595959,#7b7b7b,#878787,#828282,#767676,#6a6a6a,#636363,#666666,#626262,#3c3c3c,#080808,#000000,#0c0c0c,#272727,#464646,#5c5c5c,#5a5a5a,#545454,#525252,#5b5b5b,#666666,#616161,#515151,#4e4e4e,#3e3e3e,#2a2a2a,#2f2f2f,#454545,#454545)"></div>
<div class="r" style="top:125.55px;height:3.49px;background:linear-gradient(90deg,#5f5f5f,#5f5f5f,#5f5f5f,#646464,#727272,#686868,#585858,#444444,#1e1e1e,#191919,#585858,#7a7a7a,#737373,#6d6d6d,#6f6f6f,#6f6f6f,#6c6c6c,#5c5c5c,#5b5b5b,#656565,#696969,#5e5e5e,#4a4a4a,#3f3f3f,#4f4f4f,#636363,#5f5f5f,#595959,#3c3c3c,#101010,#040404,#151515,#2a2a2a,#4a4a4a,#666666,#626262,#585858,#404040,#272727,#464646,#616161,#505050,#525252,#616161,#6c6c6c,#707070,#676767,#575757,#606060,#575757,#3b3b3b,#434343,#646464,#828282,#838383,#5e5e5e,#424242,#444444,#5d5d5d,#686868,#575757,#494949,#535353,#616161,#5a5a5a,#494949,#505050,#747474,#8d8d8d,#8e8e8e,#7b7b7b,#626262,#515151,#525252,#505050,#2f2f2f,#050505,#020202,#161616,#303030,#525252,#656565,#5f5f5f,#585858,#4c4c4c,#5a5a5a,#6c6c6c,#656565,#5d5d5d,#5f5f5f,#3d3d3d,#1b1b1b,#202020,#3e3e3e,#3e3e3e)"></div>
<div class="r" style="top:128.54px;height:3.49px;background:linear-gradient(90deg,#484848,#484848,#4b4b4b,#565656,#6e6e6e,#606060,#414141,#3b3b3b,#2e2e2e,#333333,#6a6a6a,#848484,#747474,#626262,#6a6a6a,#707070,#535353,#3f3f3f,#616161,#7d7d7d,#838383,#6f6f6f,#505050,#545454,#7c7c7c,#8e8e8e,#797979,#727272,#6b6b6b,#444444,#252525,#222222,#2e2e2e,#434343,#616161,#646464,#636363,#626262,#535353,#535353,#5c5c5c,#606060,#727272,#787878,#737373,#808080,#828282,#6d6d6d,#707070,#6a6a6a,#434343,#363636,#515151,#7e7e7e,#848484,#656565,#545454,#595959,#696969,#5d5d5d,#1e1e1e,#060606,#101010,#353535,#4e4e4e,#484848,#454545,#636363,#757575,#767676,#757575,#6e6e6e,#666666,#606060,#515151,#303030,#111111,#141414,#262626,#3a3a3a,#5e5e5e,#656565,#4d4d4d,#454545,#424242,#5b5b5b,#717171,#656565,#565656,#575757,#3b3b3b,#141414,#0f0f0f,#282828,#282828)"></div>
<div class="r" style="top:131.53px;height:3.49px;background:linear-gradient(90deg,#313131,#313131,#3d3d3d,#535353,#6f6f6f,#5e5e5e,#393939,#4b4b4b,#5b5b5b,#5b5b5b,#6f6f6f,#737373,#5f5f5f,#525252,#727272,#888888,#6a6a6a,#5b5b5b,#767676,#919191,#979797,#727272,#484848,#616161,#959595,#9b9b9b,#757575,#6f6f6f,#797979,#6a6a6a,#585858,#4d4d4d,#525252,#5b5b5b,#676767,#636363,#676767,#7b7b7b,#7a7a7a,#646464,#616161,#6c6c6c,#7e7e7e,#858585,#7d7d7d,#7f7f7f,#7b7b7b,#5b5b5b,#4e4e4e,#434343,#212121,#121212,#2b2b2b,#666666,#808080,#6c6c6c,#515151,#4e4e4e,#616161,#555555,#090909,#000000,#000000,#030303,#2e2e2e,#4b4b4b,#4f4f4f,#717171,#8b8b8b,#9c9c9c,#b7b7b7,#b3b3b3,#949494,#757575,#595959,#3b3b3b,#1f1f1f,#1b1b1b,#333333,#535353,#757575,#787878,#525252,#3c3c3c,#3a3a3a,#565656,#636363,#3c3c3c,#262626,#414141,#464646,#222222,#0f0f0f,#1d1d1d,#1d1d1d)"></div>
<div class="r" style="top:134.52px;height:3.49px;background:linear-gradient(90deg,#3f3f3f,#3f3f3f,#3b3b3b,#464646,#636363,#5e5e5e,#3e3e3e,#5b5b5b,#707070,#606060,#585858,#525252,#505050,#606060,#848484,#9c9c9c,#898989,#797979,#828282,#969696,#9d9d9d,#737373,#3d3d3d,#4c4c4c,#747474,#737373,#515151,#4d4d4d,#616161,#696969,#6d6d6d,#717171,#747474,#6c6c6c,#6b6b6b,#616161,#5b5b5b,#696969,#6e6e6e,#636363,#5f5f5f,#666666,#696969,#737373,#727272,#646464,#4e4e4e,#282828,#1e1e1e,#232323,#1e1e1e,#1d1d1d,#323232,#646464,#808080,#6f6f6f,#505050,#4a4a4a,#575757,#525252,#0d0d0d,#000000,#000000,#060606,#393939,#626262,#797979,#b0b0b0,#e5e5e5,#f9f9f9,#ffffff,#f2f2f2,#b5b5b5,#828282,#5b5b5b,#3b3b3b,#292929,#2d2d2d,#4b4b4b,#646464,#787878,#797979,#4f4f4f,#2c2c2c,#2e2e2e,#4a4a4a,#444444,#0a0a0a,#010101,#323232,#646464,#4e4e4e,#343434,#3c3c3c,#3c3c3c)"></div>
<div class="r" style="top:137.51px;height:3.49px;background:linear-gradient(90deg,#515151,#515151,#383838,#383838,#545454,#606060,#4f4f4f,#656565,#787878,#5c5c5c,#3e3e3e,#363636,#4f4f4f,#727272,#8a8a8a,#8f8f8f,#787878,#656565,#747474,#8e8e8e,#9b9b9b,#838383,#515151,#3d3d3d,#525252,#656565,#616161,#545454,#525252,#5d5d5d,#6a6a6a,#777777,#777777,#646464,#4f4f4f,#2a2a2a,#181818,#191919,#2f2f2f,#515151,#656565,#6c6c6c,#616161,#5c5c5c,#575757,#4d4d4d,#414141,#212121,#111111,#202020,#2b2b2b,#292929,#383838,#656565,#7c7c7c,#727272,#676767,#656565,#5b5b5b,#414141,#121212,#0a0a0a,#1c1c1c,#474747,#6d6d6d,#7c7c7c,#909090,#c2c2c2,#f6f6f6,#ffffff,#ffffff,#f0f0f0,#b6b6b6,#888888,#616161,#3f3f3f,#3d3d3d,#5e5e5e,#757575,#636363,#545454,#555555,#3d3d3d,#2d2d2d,#3c3c3c,#5b5b5b,#4f4f4f,#0e0e0e,#000000,#262626,#666666,#5a5a5a,#444444,#4e4e4e,#4e4e4e)"></div>
<div class="r" style="top:140.49px;height:3.49px;background:linear-gradient(90deg,#585858,#585858,#393939,#3c3c3c,#595959,#656565,#5c5c5c,#595959,#545454,#3c3c3c,#292929,#2a2a2a,#4e4e4e,#777777,#7c7c7c,#696969,#444444,#3b3b3b,#656565,#858585,#898989,#7f7f7f,#6f6f6f,#616161,#6b6b6b,#8e8e8e,#999999,#757575,#4a4a4a,#414141,#4a4a4a,#4f4f4f,#535353,#4e4e4e,#1e1e1e,#000000,#000000,#000000,#151515,#454545,#5d5d5d,#686868,#606060,#4e4e4e,#434343,#424242,#454545,#2e2e2e,#0b0b0b,#060606,#151515,#191919,#2d2d2d,#636363,#828282,#828282,#7e7e7e,#757575,#595959,#1f1f1f,#060606,#282828,#505050,#727272,#8a8a8a,#838383,#7a7a7a,#8e8e8e,#b6b6b6,#dadada,#d9d9d9,#b0b0b0,#959595,#838383,#676767,#4b4b4b,#515151,#7d7d7d,#8b8b8b,#5b5b5b,#3a3a3a,#3e3e3e,#3a3a3a,#444444,#5b5b5b,#717171,#656565,#2c2c2c,#0d0d0d,#3b3b3b,#5f5f5f,#393939,#161616,#313131,#313131)"></div>
<div class="r" style="top:143.48px;height:3.49px;background:linear-gradient(90deg,#666666,#666666,#555555,#585858,#616161,#606060,#5c5c5c,#414141,#121212,#070707,#212121,#3b3b3b,#5b5b5b,#7c7c7c,#737373,#515151,#353535,#434343,#737373,#8b8b8b,#7c7c7c,#717171,#777777,#7d7d7d,#888888,#a8a8a8,#b3b3b3,#848484,#3e3e3e,#252525,#333333,#2c2c2c,#2d2d2d,#3b3b3b,#101010,#000000,#000000,#000000,#282828,#424242,#3c3c3c,#383838,#353535,#404040,#545454,#4e4e4e,#383838,#1a1a1a,#010101,#000000,#111111,#2a2a2a,#353535,#5f5f5f,#858585,#888888,#787878,#646464,#414141,#050505,#000000,#0a0a0a,#454545,#737373,#878787,#787878,#5f5f5f,#666666,#808080,#929292,#868686,#6c6c6c,#767676,#7b7b7b,#6d6d6d,#646464,#646464,#747474,#777777,#565656,#3e3e3e,#3e3e3e,#424242,#515151,#646464,#6e6e6e,#595959,#343434,#3e3e3e,#6d6d6d,#696969,#252525,#030303,#2a2a2a,#2a2a2a)"></div>
<div class="r" style="top:146.47px;height:3.49px;background:linear-gradient(90deg,#747474,#747474,#787878,#757575,#585858,#3f3f3f,#4a4a4a,#3b3b3b,#070707,#050505,#313131,#4c4c4c,#616161,#787878,#6d6d6d,#545454,#4d4d4d,#595959,#7a7a7a,#858585,#717171,#646464,#696969,#7d7d7d,#929292,#b9b9b9,#cfcfcf,#a6a6a6,#5b5b5b,#353535,#454545,#404040,#2e2e2e,#2d2d2d,#1b1b1b,#030303,#000000,#0e0e0e,#3f3f3f,#505050,#3d3d3d,#202020,#161616,#3b3b3b,#6e6e6e,#6c6c6c,#393939,#050505,#000000,#060606,#343434,#555555,#4f4f4f,#646464,#858585,#7d7d7d,#595959,#3d3d3d,#252525,#000000,#000000,#000000,#2a2a2a,#636363,#797979,#6f6f6f,#585858,#666666,#7d7d7d,#767676,#595959,#565656,#767676,#838383,#7d7d7d,#7b7b7b,#767676,#666666,#5a5a5a,#505050,#3f3f3f,#3f3f3f,#555555,#656565,#676767,#5a5a5a,#3d3d3d,#333333,#545454,#7e7e7e,#7c7c7c,#494949,#333333,#505050,#505050)"></div>
<div class="r" style="top:149.46px;height:3.49px;background:linear-gradient(90deg,#737373,#737373,#8f8f8f,#8c8c8c,#4a4a4a,#161616,#313131,#434343,#2e2e2e,#3b3b3b,#525252,#505050,#5f5f5f,#737373,#696969,#656565,#6b6b6b,#646464,#6e6e6e,#727272,#636363,#555555,#646464,#939393,#c3c3c3,#ededed,#fafafa,#d1d1d1,#8a8a8a,#5b5b5b,#5c5c5c,#5b5b5b,#414141,#2c2c2c,#343434,#454545,#444444,#4c4c4c,#5e5e5e,#6c6c6c,#636363,#484848,#363636,#3b3b3b,#565656,#5e5e5e,#3b3b3b,#101010,#0a0a0a,#1e1e1e,#454545,#646464,#666666,#707070,#818181,#696969,#303030,#131313,#090909,#000000,#000000,#010101,#1d1d1d,#484848,#6c6c6c,#676767,#444444,#515151,#747474,#6b6b6b,#4f4f4f,#616161,#808080,#8b8b8b,#878787,#7f7f7f,#7e7e7e,#787878,#676767,#545454,#3a3a3a,#333333,#4e4e4e,#656565,#616161,#444444,#303030,#373737,#484848,#5e5e5e,#717171,#676767,#616161,#666666,#666666)"></div>
<div class="r" style="top:152.45px;height:3.49px;background:linear-gradient(90deg,#6e6e6e,#6e6e6e,#8a8a8a,#898989,#4c4c4c,#171717,#2c2c2c,#464646,#4b4b4b,#626262,#6c6c6c,#606060,#646464,#6d6d6d,#6a6a6a,#757575,#747474,#595959,#5e5e5e,#7a7a7a,#7e7e7e,#686868,#6f6f6f,#aaaaaa,#e5e5e5,#fefefe,#fafafa,#d3d3d3,#9b9b9b,#747474,#5f5f5f,#565656,#515151,#464646,#404040,#555555,#616161,#666666,#707070,#7e7e7e,#797979,#6a6a6a,#555555,#363636,#232323,#292929,#333333,#3a3a3a,#363636,#2f2f2f,#373737,#4f4f4f,#5f5f5f,#6a6a6a,#747474,#5f5f5f,#272727,#060606,#050505,#161616,#222222,#242424,#202020,#363636,#656565,#555555,#191919,#1a1a1a,#515151,#686868,#686868,#737373,#7a7a7a,#797979,#7a7a7a,#707070,#727272,#7f7f7f,#747474,#535353,#2d2d2d,#1e1e1e,#303030,#4f4f4f,#535353,#3a3a3a,#2e2e2e,#333333,#262626,#1d1d1d,#414141,#5c5c5c,#6c6c6c,#6f6f6f,#6f6f6f)"></div>
<div class="r" style="top:155.44px;height:3.49px;background:linear-gradient(90deg,#6a6a6a,#6a6a6a,#6e6e6e,#6a6a6a,#404040,#262626,#333333,#404040,#474747,#595959,#717171,#707070,#666666,#5e5e5e,#5b5b5b,#6a6a6a,#5c5c5c,#434343,#5f5f5f,#949494,#a7a7a7,#878787,#787878,#989898,#bdbdbd,#cacaca,#c2c2c2,#acacac,#8d8d8d,#6f6f6f,#4d4d4d,#404040,#585858,#626262,#454545,#3a3a3a,#474747,#5d5d5d,#6f6f6f,#787878,#717171,#686868,#5c5c5c,#424242,#222222,#191919,#303030,#525252,#505050,#2d2d2d,#212121,#232323,#2d2d2d,#494949,#676767,#6d6d6d,#575757,#383838,#2a2a2a,#404040,#5f5f5f,#585858,#3f3f3f,#5b5b5b,#7b7b7b,#585858,#171717,#080808,#363636,#666666,#707070,#6c6c6c,#666666,#676767,#707070,#6f6f6f,#656565,#5c5c5c,#4d4d4d,#2f2f2f,#171717,#202020,#373737,#434343,#3b3b3b,#2e2e2e,#343434,#353535,#151515,#030303,#2b2b2b,#4f4f4f,#6e6e6e,#787878,#787878)"></div>
<div class="r" style="top:158.43px;height:3.49px;background:linear-gradient(90deg,#515151,#515151,#4b4b4b,#4e4e4e,#323232,#2c2c2c,#363636,#333333,#373737,#4a4a4a,#717171,#7c7c7c,#676767,#4f4f4f,#494949,#5e5e5e,#5f5f5f,#5c5c5c,#6f6f6f,#8f8f8f,#979797,#787878,#5a5a5a,#606060,#707070,#7e7e7e,#8e8e8e,#949494,#838383,#686868,#4e4e4e,#4d4d4d,#676767,#6f6f6f,#505050,#404040,#575757,#676767,#656565,#676767,#666666,#656565,#646464,#5a5a5a,#444444,#3a3a3a,#484848,#656565,#626262,#353535,#1b1b1b,#1c1c1c,#1f1f1f,#2e2e2e,#4c4c4c,#656565,#737373,#6e6e6e,#565656,#5c5c5c,#777777,#6e6e6e,#5c5c5c,#7e7e7e,#919191,#727272,#4a4a4a,#292929,#3a3a3a,#5f5f5f,#626262,#575757,#626262,#6d6d6d,#747474,#727272,#515151,#222222,#0d0d0d,#080808,#090909,#212121,#3d3d3d,#353535,#151515,#151515,#393939,#3d3d3d,#181818,#131313,#424242,#5c5c5c,#6b6b6b,#6d6d6d,#6d6d6d)"></div>
<div class="r" style="top:161.42px;height:3.49px;background:linear-gradient(90deg,#3c3c3c,#3c3c3c,#363636,#3e3e3e,#2d2d2d,#313131,#373737,#212121,#262626,#4e4e4e,#787878,#7f7f7f,#6b6b6b,#5a5a5a,#585858,#707070,#838383,#818181,#787878,#7b7b7b,#727272,#454545,#212121,#252525,#333333,#525252,#7a7a7a,#8c8c8c,#898989,#767676,#636363,#616161,#767676,#7e7e7e,#626262,#595959,#787878,#787878,#5c5c5c,#626262,#777777,#7d7d7d,#787878,#6f6f6f,#656565,#676767,#727272,#7a7a7a,#707070,#474747,#292929,#3e3e3e,#464646,#303030,#252525,#383838,#646464,#767676,#6a6a6a,#686868,#767676,#686868,#565656,#7a7a7a,#969696,#939393,#7f7f7f,#5e5e5e,#5f5f5f,#707070,#6c6c6c,#6b6b6b,#7a7a7a,#7d7d7d,#787878,#6a6a6a,#363636,#030303,#000000,#010101,#0b0b0b,#181818,#343434,#414141,#313131,#2e2e2e,#464646,#444444,#242424,#232323,#424242,#525252,#5d5d5d,#5b5b5b,#5b5b5b)"></div>
<div class="r" style="top:164.41px;height:3.49px;background:linear-gradient(90deg,#1f1f1f,#1f1f1f,#161616,#212121,#272727,#343434,#2d2d2d,#0d0d0d,#101010,#454545,#737373,#7b7b7b,#757575,#727272,#717171,#818181,#929292,#939393,#949494,#919191,#707070,#393939,#272727,#383838,#474747,#686868,#808080,#7b7b7b,#7b7b7b,#767676,#636363,#565656,#696969,#7d7d7d,#6f6f6f,#606060,#747474,#7c7c7c,#747474,#878787,#9b9b9b,#939393,#878787,#808080,#7a7a7a,#7c7c7c,#7c7c7c,#707070,#5d5d5d,#3e3e3e,#2c2c2c,#494949,#565656,#333333,#171717,#2f2f2f,#636363,#6f6f6f,#636363,#666666,#6c6c6c,#585858,#414141,#636363,#898989,#979797,#8d8d8d,#7d7d7d,#888888,#979797,#939393,#858585,#7f7f7f,#868686,#8b8b8b,#777777,#3f3f3f,#0b0b0b,#000000,#060606,#181818,#181818,#252525,#4d4d4d,#656565,#646464,#5f5f5f,#4e4e4e,#303030,#242424,#2b2b2b,#3c3c3c,#4a4a4a,#3f3f3f,#3f3f3f)"></div>
<div class="r" style="top:167.40px;height:3.49px;background:linear-gradient(90deg,#0f0f0f,#0f0f0f,#131313,#212121,#353535,#3a3a3a,#242424,#0f0f0f,#131313,#434343,#7a7a7a,#8c8c8c,#888888,#878787,#858585,#858585,#858585,#898989,#a3a3a3,#acacac,#858585,#575757,#4f4f4f,#676767,#7d7d7d,#8c8c8c,#828282,#626262,#585858,#656565,#595959,#444444,#505050,#707070,#7c7c7c,#636363,#545454,#676767,#808080,#999999,#a2a2a2,#929292,#818181,#7a7a7a,#777777,#6e6e6e,#5d5d5d,#424242,#3c3c3c,#424242,#444444,#4f4f4f,#525252,#434343,#454545,#696969,#7f7f7f,#696969,#525252,#595959,#5d5d5d,#494949,#353535,#565656,#7e7e7e,#848484,#7f7f7f,#808080,#8a8a8a,#979797,#939393,#797979,#727272,#939393,#ababab,#979797,#646464,#2e2e2e,#060606,#040404,#1b1b1b,#282828,#2c2c2c,#4a4a4a,#6b6b6b,#787878,#747474,#656565,#4a4a4a,#303030,#2d2d2d,#474747,#484848,#242424,#242424)"></div>
<div class="r" style="top:170.39px;height:3.49px;background:linear-gradient(90deg,#0c0c0c,#0c0c0c,#1e1e1e,#292929,#3a3a3a,#393939,#1e1e1e,#1d1d1d,#313131,#585858,#888888,#9c9c9c,#8f8f8f,#848484,#7d7d7d,#7d7d7d,#808080,#808080,#949494,#a0a0a0,#868686,#5d5d5d,#454545,#646464,#8c8c8c,#898989,#6f6f6f,#4a4a4a,#303030,#494949,#595959,#4b4b4b,#4a4a4a,#6d6d6d,#868686,#6a6a6a,#464646,#5d5d5d,#7d7d7d,#8d8d8d,#929292,#878787,#777777,#6e6e6e,#696969,#646464,#515151,#3a3a3a,#4b4b4b,#6b6b6b,#6d6d6d,#5d5d5d,#565656,#676767,#818181,#8d8d8d,#7d7d7d,#616161,#535353,#535353,#4e4e4e,#373737,#2d2d2d,#535353,#7b7b7b,#7a7a7a,#6e6e6e,#686868,#6b6b6b,#767676,#707070,#565656,#5d5d5d,#888888,#a6a6a6,#9f9f9f,#808080,#535353,#1a1a1a,#000000,#101010,#363636,#4d4d4d,#575757,#626262,#6b6b6b,#666666,#696969,#696969,#525252,#494949,#5f5f5f,#525252,#1c1c1c,#1c1c1c)"></div>
<div class="r" style="top:173.38px;height:3.49px;background:linear-gradient(90deg,#1d1d1d,#1d1d1d,#2e2e2e,#272727,#303030,#303030,#111111,#151515,#353535,#5a5a5a,#7f7f7f,#8b8b8b,#737373,#515151,#434343,#5f5f5f,#7c7c7c,#787878,#787878,#818181,#777777,#525252,#313131,#565656,#8a8a8a,#808080,#616161,#474747,#272727,#3a3a3a,#626262,#636363,#5a5a5a,#707070,#828282,#676767,#474747,#525252,#5b5b5b,#5d5d5d,#666666,#6b6b6b,#6b6b6b,#686868,#666666,#707070,#6b6b6b,#5f5f5f,#717171,#868686,#7b7b7b,#636363,#5f5f5f,#787878,#909090,#898989,#727272,#656565,#5d5d5d,#4b4b4b,#333333,#161616,#1d1d1d,#464646,#686868,#696969,#4c4c4c,#363636,#404040,#565656,#4d4d4d,#313131,#414141,#707070,#949494,#999999,#898989,#6a6a6a,#343434,#141414,#272727,#4b4b4b,#636363,#626262,#515151,#4f4f4f,#484848,#5b5b5b,#797979,#767676,#6f6f6f,#6c6c6c,#545454,#262626,#262626)"></div>
<div class="r" style="top:176.37px;height:3.49px;background:linear-gradient(90deg,#484848,#484848,#4d4d4d,#313131,#262626,#171717,#010101,#020202,#212121,#515151,#747474,#727272,#424242,#0a0a0a,#010101,#191919,#565656,#686868,#676767,#6f6f6f,#6f6f6f,#5d5d5d,#484848,#5d5d5d,#7c7c7c,#757575,#5c5c5c,#585858,#474747,#414141,#565656,#5a5a5a,#565656,#616161,#6c6c6c,#5e5e5e,#444444,#282828,#0c0c0c,#080808,#101010,#2a2a2a,#4f4f4f,#626262,#6f6f6f,#808080,#7c7c7c,#717171,#767676,#7f7f7f,#797979,#6d6d6d,#6d6d6d,#757575,#777777,#787878,#808080,#7d7d7d,#606060,#323232,#090909,#000000,#030303,#2a2a2a,#444444,#414141,#202020,#121212,#2b2b2b,#4a4a4a,#4e4e4e,#434343,#525252,#747474,#919191,#919191,#7d7d7d,#676767,#4d4d4d,#474747,#5d5d5d,#707070,#868686,#7f7f7f,#525252,#494949,#494949,#575757,#797979,#878787,#8a8a8a,#7d7d7d,#696969,#4b4b4b,#4b4b4b)"></div>
<div class="r" style="top:179.35px;height:3.49px;background:linear-gradient(90deg,#626262,#626262,#616161,#4d4d4d,#262626,#010101,#000000,#000000,#111111,#4e4e4e,#707070,#656565,#232323,#000000,#000000,#000000,#242424,#5d5d5d,#6a6a6a,#747474,#757575,#696969,#5f5f5f,#5d5d5d,#555555,#4c4c4c,#474747,#585858,#555555,#383838,#333333,#383838,#434343,#555555,#636363,#656565,#575757,#202020,#000000,#000000,#000000,#060606,#454545,#707070,#818181,#858585,#7d7d7d,#6e6e6e,#5d5d5d,#5c5c5c,#6b6b6b,#7c7c7c,#818181,#727272,#5e5e5e,#6c6c6c,#8d8d8d,#929292,#6d6d6d,#323232,#030303,#000000,#000000,#181818,#434343,#444444,#232323,#181818,#363636,#5b5b5b,#6f6f6f,#747474,#727272,#757575,#7a7a7a,#6f6f6f,#5f5f5f,#5d5d5d,#5d5d5d,#676767,#787878,#888888,#a6a6a6,#9c9c9c,#656565,#5d5d5d,#5e5e5e,#565656,#6b6b6b,#797979,#7e7e7e,#7d7d7d,#797979,#6a6a6a,#6a6a6a)"></div>
<div class="r" style="top:182.34px;height:3.49px;background:linear-gradient(90deg,#757575,#757575,#5e5e5e,#464646,#181818,#000000,#000000,#000000,#191919,#464646,#5d5d5d,#5e5e5e,#2c2c2c,#010101,#000000,#000000,#161616,#565656,#767676,#8d8d8d,#858585,#666666,#5f5f5f,#676767,#535353,#434343,#464646,#535353,#515151,#3b3b3b,#323232,#404040,#5f5f5f,#6d6d6d,#686868,#656565,#5e5e5e,#2f2f2f,#000000,#000000,#000000,#0f0f0f,#5f5f5f,#898989,#8d8d8d,#838383,#787878,#696969,#535353,#4b4b4b,#666666,#8f8f8f,#979797,#777777,#575757,#666666,#8b8b8b,#959595,#828282,#5a5a5a,#222222,#050505,#090909,#333333,#606060,#636363,#434343,#353535,#4c4c4c,#6f6f6f,#8a8a8a,#929292,#858585,#6f6f6f,#595959,#3f3f3f,#3a3a3a,#555555,#6a6a6a,#7b7b7b,#808080,#808080,#979797,#979797,#737373,#6b6b6b,#656565,#5d5d5d,#747474,#6f6f6f,#595959,#606060,#777777,#828282,#828282)"></div>
<div class="r" style="top:185.33px;height:3.49px;background:linear-gradient(90deg,#848484,#848484,#5c5c5c,#292929,#060606,#000000,#000000,#0a0a0a,#353535,#434343,#484848,#5a5a5a,#494949,#222222,#131313,#101010,#323232,#626262,#7f7f7f,#9a9a9a,#8d8d8d,#646464,#5c5c5c,#656565,#595959,#505050,#515151,#4e4e4e,#575757,#5b5b5b,#535353,#666666,#878787,#7d7d7d,#535353,#3a3a3a,#414141,#3f3f3f,#161616,#0a0a0a,#141414,#424242,#757575,#828282,#787878,#737373,#727272,#6f6f6f,#666666,#585858,#626262,#888888,#969696,#7e7e7e,#626262,#646464,#7b7b7b,#878787,#8a8a8a,#757575,#4a4a4a,#343434,#3b3b3b,#4d4d4d,#606060,#5b5b5b,#454545,#4a4a4a,#616161,#7c7c7c,#939393,#9c9c9c,#929292,#727272,#535353,#343434,#2d2d2d,#535353,#7d7d7d,#9c9c9c,#989898,#7e7e7e,#7c7c7c,#7e7e7e,#6b6b6b,#5a5a5a,#4d4d4d,#666666,#8a8a8a,#727272,#444444,#545454,#7d7d7d,#929292,#929292)"></div>
<div class="r" style="top:188.32px;height:3.49px;background:linear-gradient(90deg,#7f7f7f,#7f7f7f,#707070,#3c3c3c,#151515,#111111,#292929,#525252,#5b5b5b,#434343,#383838,#454545,#464646,#424242,#3c3c3c,#3a3a3a,#5d5d5d,#808080,#929292,#979797,#7e7e7e,#595959,#515151,#4c4c4c,#3d3d3d,#434343,#575757,#606060,#6f6f6f,#7a7a7a,#757575,#828282,#919191,#737373,#3b3b3b,#222222,#3b3b3b,#626262,#676767,#5b5b5b,#545454,#525252,#5d5d5d,#636363,#5e5e5e,#636363,#717171,#737373,#656565,#505050,#555555,#6d6d6d,#747474,#6c6c6c,#676767,#616161,#616161,#6b6b6b,#7b7b7b,#6f6f6f,#474747,#3d3d3d,#393939,#272727,#292929,#343434,#424242,#5b5b5b,#6a6a6a,#757575,#7c7c7c,#7a7a7a,#747474,#6a6a6a,#6c6c6c,#676767,#5c5c5c,#6c6c6c,#8d8d8d,#ababab,#ababab,#858585,#696969,#676767,#686868,#565656,#414141,#5d5d5d,#7a7a7a,#686868,#484848,#575757,#757575,#808080,#808080)"></div>
<div class="r" style="top:191.31px;height:3.49px;background:linear-gradient(90deg,#777777,#777777,#808080,#636363,#474747,#3f3f3f,#5c5c5c,#808080,#727272,#4a4a4a,#383838,#303030,#343434,#3f3f3f,#3f3f3f,#3b3b3b,#565656,#858585,#a6a6a6,#a1a1a1,#7b7b7b,#585858,#575757,#4d4d4d,#2e2e2e,#2a2a2a,#515151,#6e6e6e,#797979,#7e7e7e,#818181,#8f8f8f,#919191,#6c6c6c,#3f3f3f,#323232,#545454,#7d7d7d,#909090,#858585,#5a5a5a,#212121,#1e1e1e,#454545,#5d5d5d,#686868,#737373,#6b6b6b,#4d4d4d,#323232,#383838,#474747,#3e3e3e,#414141,#585858,#595959,#565656,#626262,#717171,#676767,#454545,#3c3c3c,#1d1d1d,#000000,#010101,#111111,#3d3d3d,#5e5e5e,#606060,#606060,#5c5c5c,#484848,#4a4a4a,#686868,#949494,#b5b5b5,#adadad,#929292,#8b8b8b,#989898,#9c9c9c,#767676,#4c4c4c,#5a5a5a,#7b7b7b,#7d7d7d,#636363,#525252,#494949,#454545,#4c4c4c,#626262,#717171,#6f6f6f,#6f6f6f)"></div>
<div class="r" style="top:194.30px;height:3.49px;background:linear-gradient(90deg,#727272,#727272,#717171,#656565,#646464,#585858,#4f4f4f,#5e5e5e,#595959,#5a5a5a,#5d5d5d,#434343,#353535,#3d3d3d,#424242,#303030,#303030,#6a6a6a,#a0a0a0,#a6a6a6,#848484,#646464,#666666,#676767,#525252,#373737,#3e3e3e,#545454,#5e5e5e,#6c6c6c,#7e7e7e,#9b9b9b,#a1a1a1,#7b7b7b,#525252,#4b4b4b,#6a6a6a,#818181,#8d8d8d,#828282,#4d4d4d,#101010,#141414,#3f3f3f,#656565,#797979,#797979,#6a6a6a,#565656,#404040,#353535,#363636,#3d3d3d,#4f4f4f,#5e5e5e,#5f5f5f,#636363,#707070,#7d7d7d,#737373,#575757,#424242,#131313,#000000,#000000,#010101,#1b1b1b,#434343,#4d4d4d,#5b5b5b,#595959,#3f3f3f,#464646,#707070,#a9a9a9,#d7d7d7,#cecece,#9c9c9c,#797979,#767676,#7e7e7e,#666666,#484848,#585858,#707070,#7c7c7c,#737373,#606060,#393939,#1e1e1e,#313131,#5a5a5a,#6f6f6f,#6f6f6f,#6f6f6f)"></div>
<div class="r" style="top:197.29px;height:3.49px;background:linear-gradient(90deg,#626262,#626262,#4f4f4f,#494949,#555555,#494949,#2f2f2f,#292929,#363636,#616161,#777777,#636363,#505050,#505050,#545454,#4d4d4d,#4b4b4b,#747474,#9f9f9f,#9f9f9f,#7f7f7f,#5c5c5c,#5b5b5b,#777777,#878787,#757575,#565656,#464646,#575757,#7f7f7f,#a0a0a0,#bfbfbf,#bdbdbd,#878787,#535353,#5d5d5d,#7a7a7a,#7b7b7b,#797979,#6a6a6a,#313131,#141414,#272727,#323232,#505050,#767676,#797979,#696969,#606060,#5e5e5e,#4c4c4c,#4a4a4a,#636363,#6d6d6d,#656565,#5f5f5f,#616161,#6c6c6c,#7a7a7a,#717171,#535353,#313131,#040404,#000000,#000000,#000000,#020202,#252525,#474747,#676767,#6a6a6a,#515151,#4a4a4a,#606060,#8f8f8f,#b1b1b1,#adadad,#909090,#737373,#626262,#5f5f5f,#5d5d5d,#626262,#656565,#636363,#686868,#727272,#777777,#575757,#1c1c1c,#0e0e0e,#2a2a2a,#4a4a4a,#616161,#616161)"></div>
<div class="r" style="top:200.28px;height:3.49px;background:linear-gradient(90deg,#4e4e4e,#4e4e4e,#434343,#464646,#383838,#1f1f1f,#161616,#1c1c1c,#212121,#484848,#686868,#616161,#5c5c5c,#5e5e5e,#5a5a5a,#6a6a6a,#7e7e7e,#979797,#adadad,#a1a1a1,#7c7c7c,#535353,#505050,#747474,#929292,#999999,#858585,#656565,#6f6f6f,#a3a3a3,#cbcbcb,#d9d9d9,#c2c2c2,#7d7d7d,#474747,#616161,#737373,#5b5b5b,#505050,#424242,#161616,#151515,#222222,#090909,#191919,#4d4d4d,#5d5d5d,#4f4f4f,#4c4c4c,#5b5b5b,#545454,#575757,#6a6a6a,#646464,#484848,#363636,#3a3a3a,#535353,#676767,#5f5f5f,#3f3f3f,#242424,#020202,#000000,#000000,#000000,#040404,#272727,#4d4d4d,#6b6b6b,#6d6d6d,#5c5c5c,#464646,#4a4a4a,#757575,#8c8c8c,#858585,#808080,#6e6e6e,#545454,#494949,#585858,#6e6e6e,#6e6e6e,#6e6e6e,#717171,#767676,#828282,#707070,#3f3f3f,#252525,#2d2d2d,#3d3d3d,#4f4f4f,#4f4f4f)"></div>
<div class="r" style="top:203.27px;height:3.49px;background:linear-gradient(90deg,#585858,#585858,#676767,#707070,#404040,#080808,#050505,#151515,#121212,#292929,#4d4d4d,#4a4a4a,#4a4a4a,#585858,#505050,#606060,#767676,#868686,#999999,#969696,#7b7b7b,#616161,#646464,#727272,#7b7b7b,#969696,#a8a8a8,#8b8b8b,#797979,#929292,#a5a5a5,#9d9d9d,#878787,#5c5c5c,#484848,#646464,#575757,#232323,#232323,#2a2a2a,#1d1d1d,#2b2b2b,#2c2c2c,#0a0a0a,#0d0d0d,#2f2f2f,#383838,#2e2e2e,#383838,#515151,#525252,#515151,#555555,#494949,#292929,#111111,#1e1e1e,#494949,#686868,#676767,#515151,#3e3e3e,#161616,#000000,#000000,#000000,#232323,#464646,#494949,#494949,#4d4d4d,#535353,#484848,#515151,#787878,#858585,#7d7d7d,#737373,#545454,#393939,#454545,#757575,#909090,#818181,#767676,#707070,#6b6b6b,#7a7a7a,#848484,#797979,#6d6d6d,#6c6c6c,#686868,#616161,#616161)"></div>
<div class="r" style="top:206.26px;height:3.49px;background:linear-gradient(90deg,#717171,#717171,#8f8f8f,#959595,#5f5f5f,#202020,#131313,#191919,#111111,#232323,#464646,#414141,#393939,#515151,#535353,#515151,#575757,#646464,#727272,#808080,#818181,#787878,#7b7b7b,#757575,#6b6b6b,#7d7d7d,#949494,#818181,#6a6a6a,#6d6d6d,#5a5a5a,#383838,#333333,#363636,#484848,#616161,#494949,#1e1e1e,#292929,#3a3a3a,#313131,#373737,#404040,#333333,#2c2c2c,#3b3b3b,#404040,#373737,#3e3e3e,#505050,#4c4c4c,#454545,#494949,#3e3e3e,#1f1f1f,#121212,#2a2a2a,#515151,#6d6d6d,#747474,#686868,#545454,#333333,#040404,#000000,#000000,#323232,#616161,#525252,#2c2c2c,#2d2d2d,#515151,#5f5f5f,#696969,#757575,#777777,#767676,#666666,#373737,#1f1f1f,#4a4a4a,#979797,#b6b6b6,#989898,#757575,#616161,#5e5e5e,#747474,#919191,#8f8f8f,#818181,#838383,#808080,#747474,#747474)"></div>
<div class="r" style="top:209.25px;height:3.49px;background:linear-gradient(90deg,#7c7c7c,#7c7c7c,#9a9a9a,#9f9f9f,#767676,#434343,#303030,#2c2c2c,#1c1c1c,#252525,#4d4d4d,#444444,#2d2d2d,#4d4d4d,#6a6a6a,#626262,#515151,#606060,#6a6a6a,#7c7c7c,#8d8d8d,#878787,#838383,#797979,#636363,#4c4c4c,#404040,#333333,#3b3b3b,#555555,#525252,#363636,#292929,#303030,#454545,#525252,#363636,#181818,#2d2d2d,#4c4c4c,#404040,#292929,#393939,#444444,#333333,#444444,#606060,#5a5a5a,#515151,#5c5c5c,#5b5b5b,#4f4f4f,#525252,#3d3d3d,#121212,#141414,#3a3a3a,#535353,#626262,#6f6f6f,#666666,#545454,#434343,#181818,#000000,#000000,#373737,#757575,#696969,#373737,#2c2c2c,#565656,#737373,#737373,#5d5d5d,#474747,#3f3f3f,#353535,#1a1a1a,#121212,#494949,#959595,#b3b3b3,#a0a0a0,#7b7b7b,#595959,#4f4f4f,#6d6d6d,#8d8d8d,#838383,#6a6a6a,#6e6e6e,#727272,#707070,#707070)"></div>
<div class="r" style="top:212.24px;height:3.49px;background:linear-gradient(90deg,#737373,#737373,#878787,#858585,#6e6e6e,#505050,#3f3f3f,#3b3b3b,#2b2b2b,#323232,#5e5e5e,#5a5a5a,#363636,#4e4e4e,#767676,#696969,#505050,#6e6e6e,#7e7e7e,#7e7e7e,#7f7f7f,#777777,#787878,#808080,#727272,#434343,#101010,#010101,#131313,#393939,#595959,#606060,#4d4d4d,#363636,#323232,#2d2d2d,#0b0b0b,#000000,#1d1d1d,#575757,#505050,#232323,#2a2a2a,#404040,#343434,#484848,#656565,#5e5e5e,#4a4a4a,#595959,#636363,#545454,#4a4a4a,#2d2d2d,#040404,#0e0e0e,#3b3b3b,#454545,#4d4d4d,#6a6a6a,#676767,#4e4e4e,#474747,#3d3d3d,#1a1a1a,#151515,#4a4a4a,#7b7b7b,#727272,#454545,#373737,#5e5e5e,#7b7b7b,#707070,#535353,#3a3a3a,#1c1c1c,#0a0a0a,#0c0c0c,#1f1f1f,#484848,#787878,#939393,#949494,#747474,#404040,#313131,#5c5c5c,#818181,#777777,#585858,#4b4b4b,#474747,#585858,#585858)"></div>
<div class="r" style="top:215.23px;height:3.49px;background:linear-gradient(90deg,#606060,#606060,#616161,#4f4f4f,#474747,#4b4b4b,#454545,#3d3d3d,#3d3d3d,#595959,#808080,#797979,#505050,#454545,#616161,#5c5c5c,#555555,#7d7d7d,#888888,#717171,#696969,#6e6e6e,#747474,#7c7c7c,#808080,#6c6c6c,#383838,#080808,#0c0c0c,#323232,#5b5b5b,#747474,#6b6b6b,#505050,#3a3a3a,#1f1f1f,#030303,#030303,#2f2f2f,#676767,#616161,#2f2f2f,#232323,#3c3c3c,#4b4b4b,#5c5c5c,#616161,#505050,#404040,#565656,#5e5e5e,#484848,#3b3b3b,#262626,#111111,#1e1e1e,#373737,#3a3a3a,#515151,#747474,#747474,#525252,#4b4b4b,#595959,#505050,#4d4d4d,#626262,#797979,#6f6f6f,#4f4f4f,#505050,#6b6b6b,#727272,#5f5f5f,#5a5a5a,#616161,#4a4a4a,#212121,#171717,#3a3a3a,#555555,#656565,#777777,#7f7f7f,#5d5d5d,#282828,#292929,#585858,#737373,#6a6a6a,#4d4d4d,#333333,#323232,#484848,#484848)"></div>
<div class="r" style="top:218.22px;height:3.49px;background:linear-gradient(90deg,#5d5d5d,#5d5d5d,#464646,#343434,#414141,#575757,#4d4d4d,#363636,#3d3d3d,#707070,#a2a2a2,#999999,#686868,#444444,#505050,#5e5e5e,#626262,#747474,#727272,#666666,#747474,#878787,#838383,#727272,#6c6c6c,#656565,#444444,#191919,#181818,#414141,#696969,#808080,#818181,#7a7a7a,#666666,#3a3a3a,#212121,#2a2a2a,#545454,#747474,#727272,#484848,#2e2e2e,#494949,#696969,#7c7c7c,#7b7b7b,#676767,#484848,#515151,#545454,#363636,#2b2b2b,#323232,#3b3b3b,#303030,#2e2e2e,#474747,#6e6e6e,#878787,#858585,#757575,#7d7d7d,#888888,#797979,#717171,#737373,#787878,#6f6f6f,#5b5b5b,#5d5d5d,#616161,#4b4b4b,#2f2f2f,#494949,#717171,#6e6e6e,#4c4c4c,#343434,#4f4f4f,#595959,#555555,#666666,#787878,#6c6c6c,#4a4a4a,#404040,#5a5a5a,#6c6c6c,#646464,#4c4c4c,#3f3f3f,#4d4d4d,#5e5e5e,#5e5e5e)"></div>
<div class="r" style="top:221.20px;height:3.49px;background:linear-gradient(90deg,#6f6f6f,#6f6f6f,#4a4a4a,#3f3f3f,#5d5d5d,#696969,#4e4e4e,#242424,#202020,#545454,#929292,#9a9a9a,#737373,#525252,#525252,#5d5d5d,#5b5b5b,#555555,#454545,#525252,#7a7a7a,#8d8d8d,#7b7b7b,#5c5c5c,#494949,#343434,#212121,#282828,#313131,#424242,#646464,#7f7f7f,#909090,#959595,#757575,#484848,#3d3d3d,#4a4a4a,#636363,#747474,#787878,#626262,#535353,#626262,#727272,#828282,#939393,#8d8d8d,#646464,#555555,#505050,#303030,#1b1b1b,#323232,#515151,#3e3e3e,#3e3e3e,#676767,#888888,#999999,#969696,#949494,#a9a9a9,#bdbdbd,#b5b5b5,#aaaaaa,#9c9c9c,#8a8a8a,#848484,#777777,#616161,#474747,#2e2e2e,#202020,#464646,#6e6e6e,#6b6b6b,#585858,#515151,#646464,#5c5c5c,#4a4a4a,#565656,#737373,#7f7f7f,#6e6e6e,#535353,#565656,#6c6c6c,#6c6c6c,#5e5e5e,#606060,#707070,#7c7c7c,#7c7c7c)"></div>
<div class="r" style="top:224.19px;height:3.49px;background:linear-gradient(90deg,#7f7f7f,#7f7f7f,#5a5a5a,#505050,#696969,#6e6e6e,#4a4a4a,#171717,#050505,#2e2e2e,#696969,#7c7c7c,#6a6a6a,#4f4f4f,#414141,#444444,#4f4f4f,#525252,#484848,#585858,#777777,#7a7a7a,#5a5a5a,#343434,#2a2a2a,#1b1b1b,#151515,#3e3e3e,#4d4d4d,#3b3b3b,#4a4a4a,#707070,#898989,#888888,#6d6d6d,#585858,#575757,#5d5d5d,#646464,#616161,#676767,#646464,#5e5e5e,#646464,#656565,#636363,#7c7c7c,#8c8c8c,#6c6c6c,#5b5b5b,#636363,#4c4c4c,#1f1f1f,#202020,#4a4a4a,#5d5d5d,#676767,#818181,#949494,#9c9c9c,#9c9c9c,#9c9c9c,#a8a8a8,#c8c8c8,#dddddd,#e1e1e1,#d7d7d7,#bababa,#b5b5b5,#a7a7a7,#777777,#4d4d4d,#494949,#545454,#606060,#626262,#595959,#4f4f4f,#5a5a5a,#6d6d6d,#636363,#494949,#454545,#5e5e5e,#6c6c6c,#636363,#585858,#5f5f5f,#727272,#7a7a7a,#797979,#868686,#979797,#979797,#979797)"></div>
<div class="r" style="top:227.18px;height:3.49px;background:linear-gradient(90deg,#797979,#797979,#606060,#5a5a5a,#646464,#646464,#474747,#1b1b1b,#020202,#272727,#606060,#737373,#6b6b6b,#515151,#353535,#303030,#3f3f3f,#565656,#6a6a6a,#7d7d7d,#828282,#6d6d6d,#4a4a4a,#373737,#353535,#404040,#575757,#747474,#6d6d6d,#454545,#414141,#696969,#797979,#6b6b6b,#6d6d6d,#797979,#747474,#6b6b6b,#616161,#535353,#5f5f5f,#5d5d5d,#404040,#474747,#5c5c5c,#585858,#606060,#656565,#4e4e4e,#565656,#797979,#757575,#434343,#212121,#3a3a3a,#646464,#717171,#888888,#a0a0a0,#a1a1a1,#9d9d9d,#9f9f9f,#a0a0a0,#b5b5b5,#cbcbcb,#d9d9d9,#d7d7d7,#bababa,#a8a8a8,#9a9a9a,#848484,#717171,#737373,#7b7b7b,#6f6f6f,#5c5c5c,#5c5c5c,#616161,#656565,#616161,#505050,#3b3b3b,#313131,#3e3e3e,#414141,#363636,#4a4a4a,#656565,#666666,#6f6f6f,#8b8b8b,#aaaaaa,#adadad,#989898,#989898)"></div>
<div class="r" style="top:230.17px;height:3.49px;background:linear-gradient(90deg,#737373,#737373,#666666,#636363,#616161,#616161,#515151,#292929,#0c0c0c,#373737,#666666,#6b6b6b,#696969,#5b5b5b,#414141,#292929,#252525,#3d3d3d,#646464,#7c7c7c,#707070,#434343,#323232,#4b4b4b,#606060,#7f7f7f,#a2a2a2,#a4a4a4,#878787,#595959,#515151,#787878,#898989,#7b7b7b,#858585,#919191,#868686,#757575,#636363,#626262,#6d6d6d,#5c5c5c,#333333,#454545,#727272,#808080,#717171,#4a4a4a,#282828,#424242,#717171,#7f7f7f,#676767,#404040,#323232,#525252,#656565,#848484,#afafaf,#b2b2b2,#a8a8a8,#afafaf,#a9a9a9,#a3a3a3,#aaaaaa,#b7b7b7,#b9b9b9,#9b9b9b,#777777,#656565,#7b7b7b,#858585,#7b7b7b,#7b7b7b,#777777,#6a6a6a,#6e6e6e,#808080,#777777,#515151,#393939,#3a3a3a,#393939,#3c3c3c,#3c3c3c,#303030,#494949,#636363,#454545,#4c4c4c,#8f8f8f,#b9b9b9,#aaaaaa,#8a8a8a,#8a8a8a)"></div>
<div class="r" style="top:233.16px;height:3.49px;background:linear-gradient(90deg,#747474,#747474,#6d6d6d,#626262,#585858,#595959,#525252,#2f2f2f,#1b1b1b,#3f3f3f,#545454,#4a4a4a,#575757,#636363,#515151,#2a2a2a,#262626,#4a4a4a,#6c6c6c,#777777,#606060,#2d2d2d,#232323,#585858,#8d8d8d,#adadad,#a2a2a2,#878787,#7b7b7b,#656565,#646464,#8b8b8b,#a1a1a1,#969696,#999999,#969696,#858585,#797979,#757575,#7e7e7e,#777777,#575757,#414141,#616161,#8b8b8b,#9c9c9c,#858585,#505050,#262626,#313131,#5a5a5a,#797979,#838383,#6c6c6c,#4b4b4b,#606060,#767676,#888888,#a8a8a8,#adadad,#a5a5a5,#adadad,#a1a1a1,#8c8c8c,#8b8b8b,#979797,#9c9c9c,#919191,#7b7b7b,#696969,#747474,#757575,#646464,#6e6e6e,#7b7b7b,#757575,#7e7e7e,#9e9e9e,#999999,#696969,#444444,#3a3a3a,#323232,#383838,#515151,#555555,#5e5e5e,#616161,#292929,#212121,#6d6d6d,#959595,#8f8f8f,#7f7f7f,#7f7f7f)"></div>
<div class="r" style="top:236.15px;height:3.49px;background:linear-gradient(90deg,#727272,#727272,#626262,#4e4e4e,#444444,#4a4a4a,#4d4d4d,#424242,#414141,#494949,#383838,#373737,#5d5d5d,#6d6d6d,#5a5a5a,#454545,#606060,#929292,#a7a7a7,#929292,#6f6f6f,#464646,#444444,#767676,#aaaaaa,#b6b6b6,#838383,#525252,#5c5c5c,#5e5e5e,#565656,#757575,#868686,#7f7f7f,#838383,#7c7c7c,#6b6b6b,#686868,#7a7a7a,#8d8d8d,#777777,#4c4c4c,#484848,#737373,#959595,#9e9e9e,#8e8e8e,#747474,#585858,#434343,#494949,#646464,#838383,#878787,#6f6f6f,#6f6f6f,#7a7a7a,#868686,#989898,#969696,#8a8a8a,#858585,#7d7d7d,#787878,#797979,#7a7a7a,#7b7b7b,#818181,#848484,#767676,#5b5b5b,#434343,#4a4a4a,#6c6c6c,#7c7c7c,#7c7c7c,#8b8b8b,#afafaf,#b5b5b5,#939393,#6e6e6e,#3f3f3f,#171717,#272727,#585858,#686868,#676767,#676767,#393939,#1a1a1a,#404040,#5e5e5e,#717171,#7c7c7c,#7c7c7c)"></div>
<div class="r" style="top:239.14px;height:3.49px;background:linear-gradient(90deg,#6c6c6c,#6c6c6c,#454545,#2f2f2f,#3c3c3c,#555555,#666666,#6a6a6a,#676767,#4e4e4e,#1f1f1f,#303030,#6b6b6b,#727272,#5e5e5e,#676767,#929292,#c2c2c2,#c9c9c9,#9c9c9c,#6f6f6f,#5f5f5f,#6e6e6e,#8e8e8e,#a7a7a7,#a4a4a4,#787878,#4d4d4d,#4e4e4e,#515151,#434343,#505050,#585858,#505050,#535353,#575757,#505050,#505050,#5c5c5c,#666666,#575757,#464646,#575757,#717171,#797979,#828282,#8e8e8e,#8f8f8f,#818181,#5f5f5f,#3e3e3e,#343434,#434343,#626262,#666666,#545454,#424242,#555555,#7c7c7c,#7b7b7b,#606060,#4d4d4d,#565656,#676767,#646464,#5b5b5b,#5a5a5a,#5d5d5d,#606060,#505050,#262626,#131313,#393939,#6b6b6b,#838383,#909090,#a0a0a0,#bebebe,#d2d2d2,#cbcbcb,#b5b5b5,#838383,#4c4c4c,#4e4e4e,#666666,#666666,#666666,#767676,#656565,#3c3c3c,#3a3a3a,#444444,#646464,#7f7f7f,#7f7f7f)"></div>
<div class="r" style="top:242.13px;height:3.49px;background:linear-gradient(90deg,#5b5b5b,#5b5b5b,#343434,#2c2c2c,#454545,#5f5f5f,#767676,#7b7b7b,#6e6e6e,#505050,#272727,#373737,#696969,#676767,#535353,#6a6a6a,#969696,#b6b6b6,#adadad,#7d7d7d,#606060,#6c6c6c,#808080,#898989,#878787,#858585,#777777,#5f5f5f,#535353,#515151,#4b4b4b,#4e4e4e,#4e4e4e,#464646,#464646,#505050,#535353,#464646,#252525,#121212,#121212,#2d2d2d,#525252,#4e4e4e,#2b2b2b,#3a3a3a,#6c6c6c,#858585,#8a8a8a,#7d7d7d,#585858,#2d2d2d,#101010,#202020,#353535,#242424,#060606,#121212,#4c4c4c,#616161,#444444,#272727,#252525,#252525,#1d1d1d,#262626,#414141,#4d4d4d,#484848,#353535,#0c0c0c,#000000,#272727,#606060,#878787,#a8a8a8,#c3c3c3,#e6e6e6,#fbfbfb,#fdfdfd,#f9f9f9,#e9e9e9,#c7c7c7,#adadad,#888888,#5a5a5a,#5c5c5c,#7f7f7f,#7f7f7f,#606060,#505050,#464646,#535353,#6b6b6b,#6b6b6b)"></div>
<div class="r" style="top:245.12px;height:3.49px;background:linear-gradient(90deg,#363636,#363636,#333333,#353535,#494949,#676767,#838383,#858585,#727272,#606060,#595959,#5d5d5d,#676767,#585858,#484848,#5e5e5e,#7b7b7b,#828282,#717171,#555555,#505050,#707070,#919191,#939393,#828282,#7d7d7d,#797979,#626262,#484848,#464646,#454545,#4d4d4d,#5c5c5c,#5d5d5d,#585858,#5e5e5e,#626262,#4a4a4a,#0e0e0e,#000000,#000000,#080808,#353535,#292929,#030303,#181818,#5f5f5f,#868686,#949494,#999999,#7c7c7c,#424242,#121212,#161616,#272727,#111111,#000000,#000000,#313131,#666666,#616161,#4a4a4a,#2e2e2e,#040404,#000000,#020202,#313131,#585858,#5c5c5c,#565656,#2a2a2a,#0a0a0a,#2c2c2c,#656565,#919191,#bfbfbf,#e8e8e8,#ffffff,#ffffff,#ffffff,#ffffff,#ffffff,#ffffff,#dedede,#979797,#505050,#484848,#686868,#717171,#656565,#545454,#414141,#323232,#313131,#313131)"></div>
<div class="r" style="top:248.11px;height:3.49px;background:linear-gradient(90deg,#1b1b1b,#1b1b1b,#2a2a2a,#292929,#3a3a3a,#6d6d6d,#949494,#999999,#979797,#9d9d9d,#a3a3a3,#8a8a8a,#676767,#464646,#3e3e3e,#525252,#5a5a5a,#424242,#2e2e2e,#2e2e2e,#434343,#787878,#aaaaaa,#b3b3b3,#9b9b9b,#858585,#7e7e7e,#686868,#434343,#383838,#2d2d2d,#404040,#696969,#6e6e6e,#656565,#696969,#707070,#545454,#131313,#000000,#000000,#020202,#2f2f2f,#2d2d2d,#101010,#2f2f2f,#6b6b6b,#818181,#8c8c8c,#939393,#747474,#434343,#2b2b2b,#444444,#4c4c4c,#2c2c2c,#050505,#040404,#464646,#7b7b7b,#767676,#6d6d6d,#616161,#212121,#000000,#000000,#131313,#434343,#5e5e5e,#727272,#545454,#313131,#454545,#6f6f6f,#979797,#c4c4c4,#ebebeb,#ffffff,#ffffff,#f6f6f6,#f0f0f0,#f2f2f2,#e3e3e3,#c0c0c0,#8c8c8c,#5c5c5c,#464646,#424242,#4c4c4c,#525252,#4b4b4b,#484848,#2e2e2e,#0e0e0e,#0e0e0e)"></div>
<div class="r" style="top:251.10px;height:3.49px;background:linear-gradient(90deg,#1a1a1a,#1a1a1a,#242424,#2c2c2c,#383838,#616161,#919191,#9d9d9d,#a6a6a6,#bbbbbb,#bbbbbb,#989898,#717171,#545454,#505050,#575757,#4d4d4d,#383838,#242424,#1f1f1f,#3b3b3b,#777777,#aaaaaa,#b5b5b5,#9c9c9c,#7b7b7b,#747474,#686868,#4e4e4e,#3f3f3f,#252525,#333333,#6b6b6b,#747474,#696969,#747474,#828282,#686868,#262626,#000000,#000000,#0c0c0c,#464646,#515151,#3b3b3b,#4f4f4f,#747474,#7c7c7c,#7f7f7f,#737373,#434343,#2a2a2a,#454545,#6f6f6f,#6c6c6c,#545454,#424242,#3f3f3f,#646464,#7e7e7e,#747474,#6d6d6d,#717171,#4e4e4e,#101010,#000000,#050505,#181818,#393939,#5a5a5a,#4d4d4d,#3e3e3e,#535353,#6b6b6b,#838383,#a6a6a6,#c8c8c8,#eaeaea,#f1f1f1,#d8d8d8,#c3c3c3,#bababa,#a7a7a7,#8a8a8a,#6f6f6f,#676767,#616161,#4e4e4e,#4d4d4d,#595959,#5a5a5a,#585858,#383838,#151515,#151515)"></div>
<div class="r" style="top:254.09px;height:3.49px;background:linear-gradient(90deg,#313131,#313131,#323232,#3e3e3e,#3c3c3c,#454545,#737373,#7a7a7a,#6e6e6e,#747474,#828282,#848484,#7f7f7f,#777777,#727272,#676767,#5f5f5f,#6e6e6e,#6a6a6a,#4f4f4f,#464646,#626262,#828282,#929292,#8d8d8d,#7a7a7a,#6f6f6f,#575757,#3c3c3c,#363636,#272727,#292929,#5f5f5f,#7d7d7d,#828282,#9c9c9c,#b6b6b6,#929292,#434343,#111111,#070707,#171717,#464646,#616161,#646464,#737373,#8d8d8d,#929292,#8c8c8c,#6f6f6f,#313131,#1f1f1f,#4d4d4d,#767676,#777777,#6d6d6d,#6b6b6b,#606060,#616161,#6d6d6d,#6e6e6e,#6e6e6e,#6d6d6d,#595959,#343434,#101010,#070707,#0f0f0f,#262626,#373737,#404040,#595959,#6a6a6a,#5d5d5d,#5f5f5f,#787878,#919191,#a5a5a5,#acacac,#a3a3a3,#989898,#939393,#818181,#5c5c5c,#414141,#515151,#6f6f6f,#717171,#646464,#636363,#646464,#616161,#4e4e4e,#383838,#383838)"></div>
<div class="r" style="top:257.08px;height:3.49px;background:linear-gradient(90deg,#616161,#616161,#575757,#585858,#484848,#353535,#434343,#414141,#252525,#151515,#323232,#6d6d6d,#888888,#8b8b8b,#808080,#6e6e6e,#696969,#848484,#929292,#7c7c7c,#5e5e5e,#545454,#646464,#797979,#868686,#888888,#7c7c7c,#525252,#272727,#252525,#2a2a2a,#292929,#5b5b5b,#909090,#aeaeae,#d5d5d5,#eeeeee,#b9b9b9,#616161,#383838,#333333,#272727,#353535,#5c5c5c,#6e6e6e,#797979,#888888,#8e8e8e,#8c8c8c,#797979,#505050,#434343,#5c5c5c,#777777,#8b8b8b,#8f8f8f,#7f7f7f,#686868,#6a6a6a,#787878,#7c7c7c,#7c7c7c,#737373,#484848,#1c1c1c,#090909,#1b1b1b,#424242,#545454,#515151,#666666,#999999,#a3a3a3,#777777,#676767,#717171,#6f6f6f,#656565,#5f5f5f,#646464,#747474,#828282,#717171,#454545,#2a2a2a,#393939,#6f6f6f,#8e8e8e,#808080,#6b6b6b,#696969,#737373,#767676,#6e6e6e,#6e6e6e)"></div>
<div class="r" style="top:260.06px;height:3.49px;background:linear-gradient(90deg,#7d7d7d,#7d7d7d,#787878,#707070,#616161,#484848,#2f2f2f,#131313,#010101,#000000,#040404,#515151,#868686,#929292,#7f7f7f,#676767,#5c5c5c,#6a6a6a,#7e7e7e,#838383,#767676,#696969,#6f6f6f,#818181,#8a8a8a,#8d8d8d,#838383,#5a5a5a,#2b2b2b,#2f2f2f,#3d3d3d,#373737,#595959,#898989,#afafaf,#dadada,#e4e4e4,#a9a9a9,#6a6a6a,#5c5c5c,#636363,#5a5a5a,#565656,#6a6a6a,#727272,#6a6a6a,#696969,#6b6b6b,#6f6f6f,#6c6c6c,#636363,#666666,#6b6b6b,#868686,#bababa,#dadada,#b5b5b5,#848484,#888888,#a2a2a2,#a4a4a4,#8e8e8e,#777777,#454545,#151515,#1b1b1b,#4f4f4f,#828282,#868686,#7f7f7f,#959595,#bbbbbb,#b5b5b5,#888888,#838383,#898989,#6a6a6a,#3f3f3f,#373737,#494949,#6c6c6c,#838383,#6f6f6f,#4e4e4e,#4f4f4f,#5e5e5e,#7d7d7d,#9e9e9e,#a0a0a0,#868686,#787878,#858585,#8a8a8a,#838383,#838383)"></div>
<div class="r" style="top:263.05px;height:3.49px;background:linear-gradient(90deg,#707070,#707070,#7e7e7e,#808080,#767676,#636363,#3b3b3b,#070707,#000000,#000000,#000000,#3e3e3e,#7d7d7d,#868686,#626262,#454545,#4d4d4d,#5d5d5d,#676767,#797979,#818181,#727272,#696969,#717171,#7b7b7b,#7d7d7d,#757575,#545454,#323232,#464646,#616161,#585858,#5c5c5c,#6f6f6f,#909090,#c2c2c2,#b9b9b9,#838383,#6d6d6d,#6f6f6f,#6e6e6e,#707070,#7b7b7b,#808080,#757575,#5b5b5b,#4d4d4d,#515151,#4c4c4c,#484848,#535353,#5c5c5c,#626262,#898989,#cdcdcd,#fbfbfb,#dfdfdf,#9f9f9f,#9b9b9b,#c0c0c0,#c8c8c8,#9f9f9f,#7f7f7f,#6c6c6c,#515151,#515151,#767676,#969696,#838383,#6f6f6f,#7b7b7b,#8e8e8e,#777777,#5a5a5a,#7a7a7a,#979797,#7c7c7c,#555555,#555555,#606060,#6d6d6d,#767676,#5f5f5f,#5a5a5a,#828282,#959595,#8e8e8e,#999999,#ababab,#9f9f9f,#858585,#828282,#797979,#686868,#686868)"></div>
<div class="r" style="top:266.04px;height:3.49px;background:linear-gradient(90deg,#636363,#636363,#717171,#757575,#6b6b6b,#606060,#444444,#0f0f0f,#000000,#000000,#070707,#4b4b4b,#7c7c7c,#737373,#3b3b3b,#2b2b2b,#575757,#696969,#646464,#707070,#7a7a7a,#646464,#434343,#393939,#4d4d4d,#5d5d5d,#525252,#242424,#0d0d0d,#313131,#5e5e5e,#6a6a6a,#6c6c6c,#6d6d6d,#787878,#9c9c9c,#999999,#7e7e7e,#7c7c7c,#707070,#4b4b4b,#484848,#6d6d6d,#797979,#757575,#6b6b6b,#646464,#696969,#5e5e5e,#494949,#424242,#3a3a3a,#474747,#757575,#a5a5a5,#c2c2c2,#b7b7b7,#979797,#a7a7a7,#d9d9d9,#eeeeee,#d0d0d0,#b4b4b4,#afafaf,#9e9e9e,#878787,#828282,#7b7b7b,#4b4b4b,#262626,#323232,#424242,#272727,#1e1e1e,#626262,#969696,#919191,#7e7e7e,#808080,#797979,#6f6f6f,#656565,#484848,#525252,#949494,#adadad,#8f8f8f,#8c8c8c,#9d9d9d,#8c8c8c,#757575,#767676,#6f6f6f,#5f5f5f,#5f5f5f)"></div>
<div class="r" style="top:269.03px;height:3.49px;background:linear-gradient(90deg,#6d6d6d,#6d6d6d,#555555,#4c4c4c,#434343,#3e3e3e,#3b3b3b,#333333,#1f1f1f,#181818,#303030,#575757,#6f6f6f,#676767,#454545,#414141,#616161,#646464,#5a5a5a,#6c6c6c,#7b7b7b,#6a6a6a,#484848,#262626,#2a2a2a,#3f3f3f,#323232,#050505,#000000,#090909,#404040,#707070,#838383,#7c7c7c,#707070,#747474,#777777,#7c7c7c,#838383,#737373,#4b4b4b,#2e2e2e,#3e3e3e,#555555,#747474,#8a8a8a,#898989,#878787,#7a7a7a,#5b5b5b,#414141,#393939,#4a4a4a,#6b6b6b,#7d7d7d,#868686,#8c8c8c,#919191,#bababa,#f5f5f5,#ffffff,#fdfdfd,#f1f1f1,#e3e3e3,#c6c6c6,#9b9b9b,#7b7b7b,#4c4c4c,#0a0a0a,#000000,#010101,#070707,#030303,#0d0d0d,#535353,#848484,#878787,#808080,#797979,#656565,#616161,#666666,#585858,#5f5f5f,#8e8e8e,#a0a0a0,#828282,#727272,#6d6d6d,#4f4f4f,#434343,#575757,#6e6e6e,#7b7b7b,#7b7b7b)"></div>
<div class="r" style="top:272.02px;height:3.49px;background:linear-gradient(90deg,#5d5d5d,#5d5d5d,#333333,#2f2f2f,#3a3a3a,#333333,#3a3a3a,#5c5c5c,#5c5c5c,#4c4c4c,#575757,#626262,#636363,#666666,#6e6e6e,#797979,#7d7d7d,#646464,#4a4a4a,#545454,#606060,#575757,#494949,#313131,#222222,#292929,#2d2d2d,#1a1a1a,#080808,#0f0f0f,#4b4b4b,#868686,#989898,#878787,#6f6f6f,#636363,#6a6a6a,#7a7a7a,#818181,#828282,#747474,#474747,#252525,#2c2c2c,#525252,#717171,#737373,#737373,#747474,#585858,#363636,#363636,#4d4d4d,#5f5f5f,#676767,#747474,#8d8d8d,#9a9a9a,#adadad,#dfdfdf,#fbfbfb,#fdfdfd,#fdfdfd,#f1f1f1,#c3c3c3,#888888,#616161,#222222,#000000,#000000,#000000,#030303,#171717,#282828,#515151,#6d6d6d,#6a6a6a,#5c5c5c,#4e4e4e,#3c3c3c,#4d4d4d,#696969,#767676,#828282,#8d8d8d,#858585,#646464,#3d3d3d,#2f2f2f,#292929,#303030,#383838,#4d4d4d,#6d6d6d,#6d6d6d)"></div>
<div class="r" style="top:275.01px;height:3.49px;background:linear-gradient(90deg,#434343,#434343,#404040,#4c4c4c,#525252,#424242,#434343,#606060,#5a5a5a,#3c3c3c,#464646,#5a5a5a,#585858,#5c5c5c,#797979,#9c9c9c,#a3a3a3,#828282,#4f4f4f,#383838,#3d3d3d,#373737,#3a3a3a,#414141,#323232,#2b2b2b,#3e3e3e,#4a4a4a,#404040,#404040,#6b6b6b,#929292,#979797,#848484,#6f6f6f,#696969,#737373,#7b7b7b,#7c7c7c,#858585,#808080,#515151,#202020,#1c1c1c,#272727,#3b3b3b,#4d4d4d,#5d5d5d,#646464,#474747,#242424,#252525,#383838,#434343,#4c4c4c,#606060,#7d7d7d,#838383,#787878,#9e9e9e,#cfcfcf,#dadada,#d9d9d9,#d7d7d7,#b4b4b4,#7f7f7f,#5e5e5e,#2c2c2c,#010101,#000000,#000000,#0b0b0b,#282828,#303030,#505050,#696969,#565656,#373737,#464646,#535353,#5b5b5b,#636363,#757575,#888888,#818181,#696969,#434343,#181818,#151515,#373737,#4d4d4d,#3a3a3a,#2c2c2c,#3d3d3d,#3d3d3d)"></div>
<div class="r" style="top:278.00px;height:3.49px;background:linear-gradient(90deg,#383838,#383838,#585858,#6c6c6c,#636363,#494949,#333333,#3a3a3a,#404040,#222222,#181818,#323232,#474747,#565656,#727272,#919191,#9c9c9c,#868686,#5a5a5a,#464646,#545454,#525252,#505050,#5a5a5a,#4d4d4d,#4a4a4a,#626262,#686868,#5d5d5d,#5b5b5b,#757575,#848484,#808080,#717171,#696969,#787878,#858585,#797979,#676767,#707070,#777777,#555555,#292929,#2d2d2d,#393939,#484848,#626262,#6b6b6b,#5e5e5e,#474747,#393939,#353535,#343434,#303030,#303030,#3c3c3c,#575757,#585858,#424242,#5a5a5a,#8e8e8e,#979797,#909090,#9a9a9a,#909090,#747474,#656565,#525252,#272727,#060606,#000000,#0a0a0a,#1d1d1d,#1a1a1a,#363636,#585858,#373737,#171717,#4e4e4e,#727272,#686868,#545454,#5b5b5b,#646464,#535353,#3d3d3d,#262626,#090909,#0d0d0d,#353535,#4d4d4d,#3d3d3d,#272727,#242424,#242424)"></div>
<div class="r" style="top:280.99px;height:3.49px;background:linear-gradient(90deg,#383838,#383838,#585858,#6c6c6c,#636363,#494949,#333333,#3a3a3a,#404040,#222222,#181818,#323232,#474747,#565656,#727272,#919191,#9c9c9c,#868686,#5a5a5a,#464646,#545454,#525252,#505050,#5a5a5a,#4d4d4d,#4a4a4a,#626262,#686868,#5d5d5d,#5b5b5b,#757575,#848484,#808080,#717171,#696969,#787878,#858585,#797979,#676767,#707070,#777777,#555555,#292929,#2d2d2d,#393939,#484848,#626262,#6b6b6b,#5e5e5e,#474747,#393939,#353535,#343434,#303030,#303030,#3c3c3c,#575757,#585858,#424242,#5a5a5a,#8e8e8e,#979797,#909090,#9a9a9a,#909090,#747474,#656565,#525252,#272727,#060606,#000000,#0a0a0a,#1d1d1d,#1a1a1a,#363636,#585858,#373737,#171717,#4e4e4e,#727272,#686868,#545454,#5b5b5b,#646464,#535353,#3d3d3d,#262626,#090909,#0d0d0d,#353535,#4d4d4d,#3d3d3d,#272727,#242424,#242424)"></div>
</div></div>
<svg width="898" height="699" viewBox="0 0 898 699">
<defs><radialGradient id="wb"><stop offset="0" stop-color="#fff"/><stop offset="0.74" stop-color="#fff"/><stop offset="1" stop-color="#fff" stop-opacity="0"/></radialGradient><radialGradient id="db"><stop offset="0" stop-color="#000" stop-opacity="0.95"/><stop offset="0.4" stop-color="#000" stop-opacity="0.85"/><stop offset="1" stop-color="#000" stop-opacity="0"/></radialGradient><clipPath id="cg"><rect x="92" y="365.3" width="279.2" height="277.9"/></clipPath></defs><g clip-path="url(#cg)"><ellipse cx="177.3" cy="392.3" rx="4.9" ry="4.9" fill="url(#db)"/><ellipse cx="190.0" cy="475.0" rx="5.4" ry="5.4" fill="url(#db)"/><ellipse cx="232.3" cy="437.5" rx="4.9" ry="4.9" fill="url(#db)"/><ellipse cx="340.9" cy="425.6" rx="4.9" ry="4.9" fill="url(#db)"/><ellipse cx="344.1" cy="450.3" rx="5.1" ry="5.1" fill="url(#db)"/><ellipse cx="280.8" cy="438.5" rx="4.7" ry="4.7" fill="url(#db)"/><ellipse cx="264.7" cy="427.7" rx="4.5" ry="4.5" fill="url(#db)"/><ellipse cx="353.8" cy="461.0" rx="4.7" ry="4.7" fill="url(#db)"/><ellipse cx="274.4" cy="495.3" rx="4.7" ry="4.7" fill="url(#db)"/><ellipse cx="249.0" cy="395.5" rx="5.6" ry="5.6" fill="url(#db)"/><ellipse cx="117.2" cy="509.7" rx="4.3" ry="4.3" fill="url(#db)"/><ellipse cx="197.7" cy="507.5" rx="4.3" ry="4.3" fill="url(#db)"/><ellipse cx="131.1" cy="544.0" rx="4.9" ry="4.9" fill="url(#db)"/><ellipse cx="108.6" cy="547.2" rx="4.5" ry="4.5" fill="url(#db)"/><ellipse cx="208.4" cy="545.1" rx="4.9" ry="4.9" fill="url(#db)"/><ellipse cx="112.9" cy="589.0" rx="5.4" ry="5.4" fill="url(#db)"/><ellipse cx="209.5" cy="613.7" rx="7.8" ry="7.8" fill="url(#db)"/><ellipse cx="118.3" cy="627.7" rx="4.9" ry="4.9" fill="url(#db)"/><ellipse cx="175.0" cy="635.0" rx="4.7" ry="4.7" fill="url(#db)"/><ellipse cx="283.0" cy="560.0" rx="7.8" ry="7.8" fill="url(#db)"/><ellipse cx="283.0" cy="572.0" rx="7.0" ry="7.0" fill="url(#db)"/><ellipse cx="275.4" cy="543.0" rx="4.9" ry="4.9" fill="url(#db)"/><ellipse cx="328.0" cy="535.4" rx="7.0" ry="7.0" fill="url(#db)"/><ellipse cx="323.0" cy="526.0" rx="4.7" ry="4.7" fill="url(#db)"/><ellipse cx="255.0" cy="575.0" rx="5.4" ry="5.4" fill="url(#db)"/><ellipse cx="286.2" cy="612.7" rx="6.5" ry="6.5" fill="url(#db)"/><ellipse cx="304.4" cy="607.3" rx="4.9" ry="4.9" fill="url(#db)"/><ellipse cx="298.0" cy="637.3" rx="7.8" ry="7.8" fill="url(#db)"/><ellipse cx="271.0" cy="508.6" rx="4.7" ry="4.7" fill="url(#db)"/><ellipse cx="366.6" cy="506.4" rx="4.7" ry="4.7" fill="url(#db)"/><ellipse cx="260.4" cy="607.3" rx="4.5" ry="4.5" fill="url(#db)"/><ellipse cx="231.2" cy="476.0" rx="4.9" ry="4.9" fill="url(#db)"/><ellipse cx="198.0" cy="506.2" rx="4.5" ry="4.5" fill="url(#db)"/><ellipse cx="275.2" cy="497.6" rx="4.7" ry="4.7" fill="url(#db)"/><ellipse cx="272.0" cy="512.0" rx="4.9" ry="4.9" fill="url(#db)"/><ellipse cx="206.5" cy="546.0" rx="4.7" ry="4.7" fill="url(#db)"/><ellipse cx="132.5" cy="365.0" rx="9.8" ry="8.5" fill="url(#wb)"/><ellipse cx="143.8" cy="389.6" rx="12.4" ry="12.4" fill="url(#wb)"/><ellipse cx="144.3" cy="428.3" rx="10.7" ry="10.5" fill="url(#wb)"/><ellipse cx="156.0" cy="450.7" rx="6.8" ry="6.8" fill="url(#wb)"/><ellipse cx="247.4" cy="381.5" rx="8.9" ry="7.7" fill="url(#wb)"/><ellipse cx="167.3" cy="514.7" rx="7.6" ry="7.3" fill="url(#wb)"/><ellipse cx="169.8" cy="594.6" rx="6.6" ry="5.1" fill="url(#wb)"/><ellipse cx="198.3" cy="624.8" rx="6.6" ry="6.1" fill="url(#wb)"/><ellipse cx="322.8" cy="608.6" rx="8.3" ry="7.6" fill="url(#wb)"/><ellipse cx="336.2" cy="608.9" rx="6.8" ry="6.3" fill="url(#wb)"/><ellipse cx="273.4" cy="633.9" rx="9.3" ry="9.3" fill="url(#wb)"/><ellipse cx="256.3" cy="626.6" rx="5.7" ry="5.7" fill="url(#wb)"/><ellipse cx="296.4" cy="499.9" rx="7.8" ry="5.9" fill="url(#wb)"/><ellipse cx="113.2" cy="462.8" rx="5.6" ry="5.1" fill="url(#wb)"/></g>
<rect x="125.5" y="32.5" width="213" height="280" fill="none" stroke="#000" stroke-width="1.0"/>
<line x1="138.30" y1="27.10" x2="138.30" y2="32.50" stroke="#000" stroke-width="1.0" />
<line x1="198.00" y1="27.10" x2="198.00" y2="32.50" stroke="#000" stroke-width="1.0" />
<line x1="258.00" y1="27.10" x2="258.00" y2="32.50" stroke="#000" stroke-width="1.0" />
<line x1="317.30" y1="27.10" x2="317.30" y2="32.50" stroke="#000" stroke-width="1.0" />
<line x1="166.90" y1="312.50" x2="166.90" y2="317.90" stroke="#000" stroke-width="1.0" />
<line x1="225.80" y1="312.50" x2="225.80" y2="317.90" stroke="#000" stroke-width="1.0" />
<line x1="284.70" y1="312.50" x2="284.70" y2="317.90" stroke="#000" stroke-width="1.0" />
<line x1="120.10" y1="77.50" x2="125.50" y2="77.50" stroke="#000" stroke-width="1.0" />
<line x1="120.10" y1="147.60" x2="125.50" y2="147.60" stroke="#000" stroke-width="1.0" />
<line x1="120.10" y1="217.70" x2="125.50" y2="217.70" stroke="#000" stroke-width="1.0" />
<line x1="120.10" y1="287.70" x2="125.50" y2="287.70" stroke="#000" stroke-width="1.0" />
<line x1="338.50" y1="59.00" x2="343.90" y2="59.00" stroke="#000" stroke-width="1.0" />
<line x1="338.50" y1="129.10" x2="343.90" y2="129.10" stroke="#000" stroke-width="1.0" />
<line x1="338.50" y1="199.30" x2="343.90" y2="199.30" stroke="#000" stroke-width="1.0" />
<line x1="338.50" y1="269.50" x2="343.90" y2="269.50" stroke="#000" stroke-width="1.0" />
<text x="114.80" y="82.20" font-size="13.89" text-anchor="end"  letter-spacing="-0.4">-30°15'</text>
<text x="114.80" y="152.30" font-size="13.89" text-anchor="end"  letter-spacing="-0.4">30'</text>
<text x="114.80" y="222.40" font-size="13.89" text-anchor="end"  letter-spacing="-0.4">45'</text>
<text x="114.80" y="292.40" font-size="13.89" text-anchor="end"  letter-spacing="-0.4">-31°00'</text>
<path d="M338.8 252.2Q340.6 255 338.8 257.8" fill="none" stroke="#222" stroke-width="0.9"/>
<text transform="translate(55.00,174.50) rotate(-90)" font-size="13.89" text-anchor="middle">Dec</text>
<text x="232.40" y="23.40" font-size="16.67" text-anchor="middle" >Filter</text>
<path d="M198.30 46.30L206.70 54.70M198.30 54.70L206.70 46.30" stroke="#0000ff" stroke-width="1.5" fill="none"/>
<path d="M194.30 168.30L202.70 176.70M194.30 176.70L202.70 168.30" stroke="#ff0000" stroke-width="1.5" fill="none"/>
<defs><linearGradient id="g" x1="0" y1="1" x2="0" y2="0"><stop offset="0" stop-color="#000"/><stop offset="1" stop-color="#fff"/></linearGradient></defs>
<rect x="380.5" y="32.5" width="9.0" height="280" fill="url(#g)" stroke="#000" stroke-width="1.0"/>
<line x1="389.50" y1="312.50" x2="394.90" y2="312.50" stroke="#000" stroke-width="1.0" />
<text x="400.30" y="317.60" font-size="13.89" text-anchor="start"  letter-spacing="-0.4">0.00</text>
<line x1="389.50" y1="269.50" x2="394.90" y2="269.50" stroke="#000" stroke-width="1.0" />
<text x="400.30" y="274.60" font-size="13.89" text-anchor="start"  letter-spacing="-0.4">0.02</text>
<line x1="389.50" y1="226.50" x2="394.90" y2="226.50" stroke="#000" stroke-width="1.0" />
<text x="400.30" y="231.60" font-size="13.89" text-anchor="start"  letter-spacing="-0.4">0.04</text>
<line x1="389.50" y1="182.50" x2="394.90" y2="182.50" stroke="#000" stroke-width="1.0" />
<text x="400.30" y="187.60" font-size="13.89" text-anchor="start"  letter-spacing="-0.4">0.06</text>
<line x1="389.50" y1="139.50" x2="394.90" y2="139.50" stroke="#000" stroke-width="1.0" />
<text x="400.30" y="144.60" font-size="13.89" text-anchor="start"  letter-spacing="-0.4">0.08</text>
<line x1="389.50" y1="96.50" x2="394.90" y2="96.50" stroke="#000" stroke-width="1.0" />
<text x="400.30" y="101.60" font-size="13.89" text-anchor="start"  letter-spacing="-0.4">0.10</text>
<line x1="389.50" y1="53.50" x2="394.90" y2="53.50" stroke="#000" stroke-width="1.0" />
<text x="400.30" y="58.60" font-size="13.89" text-anchor="start"  letter-spacing="-0.4">0.12</text>
<text transform="translate(445.00,173.10) rotate(-90)" font-size="13.89" text-anchor="middle">arbitrary units</text>
<clipPath id="cl"><rect x="470.5" y="32.5" width="360" height="280"/></clipPath>
<path d="M470.50 162.70L485.50 188.90L500.50 255.10L515.50 185.10L530.50 168.30L545.50 203.40L560.50 202.30L575.50 253.80L590.50 264.90L605.50 185.10L620.50 164.10L635.50 208.00L650.50 221.90L665.50 243.50L680.50 271.30L695.50 299.20L710.50 297.90L725.50 247.10L740.50 258.30L755.50 231.30L770.50 239.60L785.50 215.60L800.50 127.00L815.50 80.00L830.50 44.40" fill="none" stroke="#1f77b4" stroke-width="2.08" stroke-linejoin="round" stroke-linecap="square" clip-path="url(#cl)"/>
<line x1="470.50" y1="188.90" x2="830.50" y2="188.90" stroke="#000" stroke-width="2.08" stroke-dasharray="7.71 3.33"/>
<line x1="470.50" y1="225.00" x2="830.50" y2="225.00" stroke="#000" stroke-width="2.08" stroke-dasharray="7.71 3.33"/>
<line x1="470.50" y1="260.00" x2="830.50" y2="260.00" stroke="#000" stroke-width="2.08" stroke-dasharray="7.71 3.33"/>
<rect x="470.5" y="32.5" width="360" height="280" fill="none" stroke="#000" stroke-width="1.0"/>
<line x1="470.50" y1="312.50" x2="470.50" y2="317.90" stroke="#000" stroke-width="1.0" />
<text x="470.50" y="332.90" font-size="13.89" text-anchor="middle"  letter-spacing="-0.4">0</text>
<line x1="545.50" y1="312.50" x2="545.50" y2="317.90" stroke="#000" stroke-width="1.0" />
<text x="545.50" y="332.90" font-size="13.89" text-anchor="middle"  letter-spacing="-0.4">20</text>
<line x1="620.50" y1="312.50" x2="620.50" y2="317.90" stroke="#000" stroke-width="1.0" />
<text x="620.50" y="332.90" font-size="13.89" text-anchor="middle"  letter-spacing="-0.4">40</text>
<line x1="695.50" y1="312.50" x2="695.50" y2="317.90" stroke="#000" stroke-width="1.0" />
<text x="695.50" y="332.90" font-size="13.89" text-anchor="middle"  letter-spacing="-0.4">60</text>
<line x1="770.50" y1="312.50" x2="770.50" y2="317.90" stroke="#000" stroke-width="1.0" />
<text x="770.50" y="332.90" font-size="13.89" text-anchor="middle"  letter-spacing="-0.4">80</text>
<line x1="830.50" y1="38.40" x2="835.90" y2="38.40" stroke="#000" stroke-width="1.0" />
<text x="840.30" y="43.50" font-size="13.89" text-anchor="start"  letter-spacing="-0.4">200</text>
<line x1="830.50" y1="85.10" x2="835.90" y2="85.10" stroke="#000" stroke-width="1.0" />
<text x="840.30" y="90.20" font-size="13.89" text-anchor="start"  letter-spacing="-0.4">150</text>
<line x1="830.50" y1="131.80" x2="835.90" y2="131.80" stroke="#000" stroke-width="1.0" />
<text x="840.30" y="136.90" font-size="13.89" text-anchor="start"  letter-spacing="-0.4">100</text>
<line x1="830.50" y1="178.50" x2="835.90" y2="178.50" stroke="#000" stroke-width="1.0" />
<text x="840.30" y="183.60" font-size="13.89" text-anchor="start"  letter-spacing="-0.4">50</text>
<line x1="830.50" y1="225.20" x2="835.90" y2="225.20" stroke="#000" stroke-width="1.0" />
<text x="840.30" y="230.30" font-size="13.89" text-anchor="start"  letter-spacing="-0.4">0</text>
<line x1="830.50" y1="271.90" x2="835.90" y2="271.90" stroke="#000" stroke-width="1.0" />
<text x="840.30" y="277.00" font-size="13.89" text-anchor="start"  letter-spacing="-0.4">−50</text>
<text transform="translate(884.20,174.00) rotate(-90)" font-size="13.89" text-anchor="middle">Brightness (mJy/beam)</text>
<text x="650.20" y="23.40" font-size="16.67" text-anchor="middle" >Light Curve</text>
<text x="650.00" y="353.00" font-size="13.89" text-anchor="middle" >Time (s)</text>
<rect x="91.45" y="365.1" width="280.05" height="280.4" fill="none" stroke="#000" stroke-width="1.0"/>
<line x1="124.30" y1="359.70" x2="124.30" y2="365.10" stroke="#000" stroke-width="1.0" />
<line x1="184.30" y1="359.70" x2="184.30" y2="365.10" stroke="#000" stroke-width="1.0" />
<line x1="245.50" y1="359.70" x2="245.50" y2="365.10" stroke="#000" stroke-width="1.0" />
<line x1="306.30" y1="359.70" x2="306.30" y2="365.10" stroke="#000" stroke-width="1.0" />
<line x1="366.60" y1="359.70" x2="366.60" y2="365.10" stroke="#000" stroke-width="1.0" />
<line x1="125.40" y1="645.50" x2="125.40" y2="650.90" stroke="#000" stroke-width="1.0" />
<line x1="185.20" y1="645.50" x2="185.20" y2="650.90" stroke="#000" stroke-width="1.0" />
<line x1="245.40" y1="645.50" x2="245.40" y2="650.90" stroke="#000" stroke-width="1.0" />
<line x1="305.50" y1="645.50" x2="305.50" y2="650.90" stroke="#000" stroke-width="1.0" />
<line x1="365.60" y1="645.50" x2="365.60" y2="650.90" stroke="#000" stroke-width="1.0" />
<line x1="86.05" y1="404.50" x2="91.45" y2="404.50" stroke="#000" stroke-width="1.0" />
<line x1="371.50" y1="404.50" x2="376.90" y2="404.50" stroke="#000" stroke-width="1.0" />
<line x1="86.05" y1="474.80" x2="91.45" y2="474.80" stroke="#000" stroke-width="1.0" />
<line x1="371.50" y1="474.80" x2="376.90" y2="474.80" stroke="#000" stroke-width="1.0" />
<line x1="86.05" y1="544.80" x2="91.45" y2="544.80" stroke="#000" stroke-width="1.0" />
<line x1="371.50" y1="544.80" x2="376.90" y2="544.80" stroke="#000" stroke-width="1.0" />
<line x1="86.05" y1="614.80" x2="91.45" y2="614.80" stroke="#000" stroke-width="1.0" />
<line x1="371.50" y1="614.80" x2="376.90" y2="614.80" stroke="#000" stroke-width="1.0" />
<text x="81.80" y="408.10" font-size="13.89" text-anchor="end"  letter-spacing="-0.4">-30°15'</text>
<text x="81.80" y="478.40" font-size="13.89" text-anchor="end"  letter-spacing="-0.4">30'</text>
<text x="81.80" y="548.40" font-size="13.89" text-anchor="end"  letter-spacing="-0.4">45'</text>
<text x="81.80" y="618.40" font-size="13.89" text-anchor="end"  letter-spacing="-0.4">-31°00'</text>
<text transform="translate(20.60,507.00) rotate(-90)" font-size="13.89" text-anchor="middle">Dec</text>
<text x="231.40" y="355.80" font-size="16.67" text-anchor="middle" >GLEAM</text>
<path d="M244.30 379.30L252.70 387.70M244.30 387.70L252.70 379.30" stroke="#0000ff" stroke-width="1.5" fill="none"/>
<path d="M227.30 500.30L235.70 508.70M227.30 508.70L235.70 500.30" stroke="#ff0000" stroke-width="1.5" fill="none"/>
<text x="125.60" y="664.80" font-size="13.89" text-anchor="middle" >9<tspan font-size="9.72" dy="-5.0">h</tspan><tspan dy="5.0">08</tspan><tspan font-size="9.72" dy="-5.0">m</tspan></text>
<text x="185.40" y="664.80" font-size="13.89" text-anchor="middle" >07<tspan font-size="9.72" dy="-5.0">m</tspan></text>
<text x="245.40" y="664.80" font-size="13.89" text-anchor="middle" >06<tspan font-size="9.72" dy="-5.0">m</tspan></text>
<text x="305.50" y="664.80" font-size="13.89" text-anchor="middle" >05<tspan font-size="9.72" dy="-5.0">m</tspan></text>
<text x="365.60" y="664.80" font-size="13.89" text-anchor="middle" >04<tspan font-size="9.72" dy="-5.0">m</tspan></text>
<text x="232.00" y="685.60" font-size="13.89" text-anchor="middle" >RA</text>
<rect x="380.5" y="365.5" width="9.0" height="280" fill="url(#g)" stroke="#000" stroke-width="1.0"/>
<line x1="389.50" y1="400.50" x2="394.90" y2="400.50" stroke="#000" stroke-width="1.0" />
<text x="398.90" y="405.60" font-size="13.89" text-anchor="start"  letter-spacing="-0.4">20</text>
<line x1="389.50" y1="455.50" x2="394.90" y2="455.50" stroke="#000" stroke-width="1.0" />
<text x="398.90" y="460.60" font-size="13.89" text-anchor="start"  letter-spacing="-0.4">10</text>
<line x1="389.50" y1="510.50" x2="394.90" y2="510.50" stroke="#000" stroke-width="1.0" />
<text x="398.90" y="515.60" font-size="13.89" text-anchor="start"  letter-spacing="-0.4">0</text>
<line x1="389.50" y1="565.50" x2="394.90" y2="565.50" stroke="#000" stroke-width="1.0" />
<text x="398.90" y="570.60" font-size="13.89" text-anchor="start"  letter-spacing="-0.4">−10</text>
<line x1="389.50" y1="620.50" x2="394.90" y2="620.50" stroke="#000" stroke-width="1.0" />
<text x="398.90" y="625.60" font-size="13.89" text-anchor="start"  letter-spacing="-0.4">−20</text>
<text transform="translate(444.00,506.00) rotate(-90)" font-size="13.89" text-anchor="middle">Brightness (mJy/beam)</text>
<clipPath id="ch"><rect x="470.5" y="365.5" width="360" height="280"/></clipPath>
<path d="M470.50 645.50V618.40H476.24V547.40H481.98V475.50H487.72V461.60H493.46V467.60H499.20V474.40H504.94V502.30H510.68V497.60H516.42V516.40H522.16V535.50H527.90V544.50H533.64V558.50H539.38V581.50H545.12V586.50H550.86V597.50H556.60V608.40H562.34V609.70H568.08V613.60H573.82V623.60H579.56V626.60H585.30V628.60H591.04V631.60H596.78V631.60H602.52V636.60H608.26V638.60H614.00V636.60H619.74V638.60H625.48V641.90H631.22V642.90H636.96V641.60H642.70V640.70H648.44V643.60H654.18V643.00H659.92V643.80H665.66V644.20H671.40V644.60H677.14V644.00H682.88V644.60H688.62V644.20H694.36V643.60H700.10V643.80H705.84V644.60H711.58V644.80H717.32V644.60H723.06V644.80H728.80V643.30H734.54V644.80H740.28V645.00H746.02V644.80H751.76V644.20H757.50V645.50Z" fill="#0000ff" fill-opacity="0.3" clip-path="url(#ch)"/>
<path d="M470.10 645.50V497.60H476.96V392.60H483.82V378.40H490.69V383.60H497.55V420.50H504.41V467.60H511.27V515.40H518.13V554.30H525.00V564.30H531.86V568.40H538.72V598.40H545.58V609.10H552.44V613.40H559.31V616.20H566.17V628.60H573.03V629.40H579.89V634.40H586.75V632.50H593.62V637.70H600.48V639.40H607.34V643.30H614.20V641.60H621.06V640.50H627.93V641.60H634.79V643.60H641.65V642.60H648.51V642.60H655.37V642.40H662.24V642.60H669.10V642.60H675.96V642.80H682.82V643.60H689.68V644.80H696.55V643.40H703.41V644.60H710.27V644.00H717.13V644.00H723.99V644.80H730.86V645.00H737.72V644.80H744.58V645.00H751.44V645.00H758.30V645.00H765.17V645.00H772.03V645.00H778.89V645.00H785.75V644.30H792.61V645.20H799.48V645.20H806.34V643.20H813.20V645.50Z" fill="#ff0000" fill-opacity="0.3" clip-path="url(#ch)"/>
<line x1="642.00" y1="365.50" x2="642.00" y2="645.50" stroke="#000" stroke-width="2.08" stroke-dasharray="7.71 3.33"/>
<line x1="770.10" y1="365.50" x2="770.10" y2="645.50" stroke="#000" stroke-width="2.08" />
<rect x="470.5" y="365.5" width="360" height="280" fill="none" stroke="#000" stroke-width="1.0"/>
<line x1="470.50" y1="645.50" x2="470.50" y2="650.90" stroke="#000" stroke-width="1.0" />
<text x="470.40" y="666.30" font-size="13.89" text-anchor="middle"  letter-spacing="-0.4">0.0</text>
<line x1="547.50" y1="645.50" x2="547.50" y2="650.90" stroke="#000" stroke-width="1.0" />
<text x="547.40" y="666.30" font-size="13.89" text-anchor="middle"  letter-spacing="-0.4">0.5</text>
<line x1="623.50" y1="645.50" x2="623.50" y2="650.90" stroke="#000" stroke-width="1.0" />
<text x="623.40" y="666.30" font-size="13.89" text-anchor="middle"  letter-spacing="-0.4">1.0</text>
<line x1="700.50" y1="645.50" x2="700.50" y2="650.90" stroke="#000" stroke-width="1.0" />
<text x="700.40" y="666.30" font-size="13.89" text-anchor="middle"  letter-spacing="-0.4">1.5</text>
<line x1="776.50" y1="645.50" x2="776.50" y2="650.90" stroke="#000" stroke-width="1.0" />
<text x="776.40" y="666.30" font-size="13.89" text-anchor="middle"  letter-spacing="-0.4">2.0</text>
<line x1="830.50" y1="645.50" x2="835.90" y2="645.50" stroke="#000" stroke-width="1.0" />
<text x="840.30" y="650.60" font-size="13.89" text-anchor="start"  letter-spacing="-0.4">0</text>
<line x1="830.50" y1="589.50" x2="835.90" y2="589.50" stroke="#000" stroke-width="1.0" />
<text x="840.30" y="594.60" font-size="13.89" text-anchor="start"  letter-spacing="-0.4">100</text>
<line x1="830.50" y1="533.50" x2="835.90" y2="533.50" stroke="#000" stroke-width="1.0" />
<text x="840.30" y="538.60" font-size="13.89" text-anchor="start"  letter-spacing="-0.4">200</text>
<line x1="830.50" y1="476.50" x2="835.90" y2="476.50" stroke="#000" stroke-width="1.0" />
<text x="840.30" y="481.60" font-size="13.89" text-anchor="start"  letter-spacing="-0.4">300</text>
<line x1="830.50" y1="420.50" x2="835.90" y2="420.50" stroke="#000" stroke-width="1.0" />
<text x="840.30" y="425.60" font-size="13.89" text-anchor="start"  letter-spacing="-0.4">400</text>
<text transform="translate(882.00,505.50) rotate(-90)" font-size="13.89" text-anchor="middle">Number of Sources</text>
<text x="650.10" y="684.90" font-size="13.89" text-anchor="middle" >Normalised stdev or detection statistics</text>
<rect x="547.3" y="370.3" width="206.3" height="66.1" rx="2.2" fill="#fff" fill-opacity="0.8" stroke="#ccc" stroke-width="1.11"/>
<rect x="551.0" y="375.0" width="22.2" height="7.9" fill="#0000ff" fill-opacity="0.3"/>
<rect x="551.0" y="390.0" width="22.2" height="8.0" fill="#ff0000" fill-opacity="0.3"/>
<line x1="551.00" y1="410.20" x2="573.20" y2="410.20" stroke="#000" stroke-width="2.08" stroke-dasharray="7.71 3.33"/>
<line x1="551.00" y1="425.60" x2="573.20" y2="425.60" stroke="#000" stroke-width="2.08" />
<text x="582.10" y="383.00" font-size="11.11" text-anchor="start" >Known srcs residual</text>
<text x="582.10" y="398.45" font-size="11.11" text-anchor="start" >Known srcs detection statistic</text>
<text x="582.10" y="413.90" font-size="11.11" text-anchor="start" >Candidate residual</text>
<text x="582.10" y="429.35" font-size="11.11" text-anchor="start" >Candidate detection statistic</text>
</svg>
</div></body></html>
